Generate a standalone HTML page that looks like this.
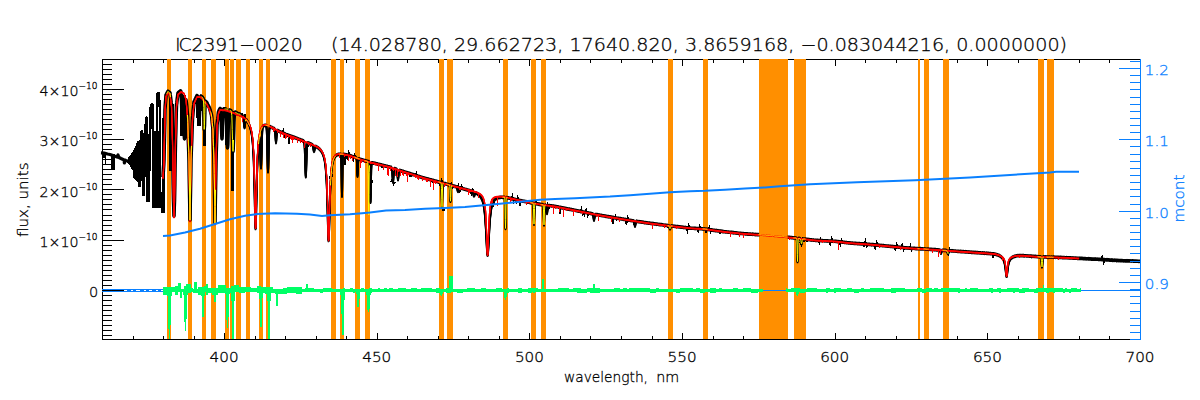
<!DOCTYPE html><html><head><meta charset="utf-8"><style>html,body{margin:0;padding:0;background:#fff;overflow:hidden}svg{display:block}</style></head><body><svg width="1200" height="400" viewBox="0 0 1200 400" shape-rendering="crispEdges">
<rect width="1200" height="400" fill="#fff"/>
<g stroke="#000" stroke-width="1"><line x1="102" y1="59.5" x2="1140" y2="59.5"/><line x1="102.5" y1="59" x2="102.5" y2="340"/><line x1="102.5" y1="59" x2="102.5" y2="63"/><line x1="133.5" y1="59" x2="133.5" y2="63"/><line x1="163.5" y1="59" x2="163.5" y2="63"/><line x1="194.5" y1="59" x2="194.5" y2="63"/><line x1="224.5" y1="59" x2="224.5" y2="66"/><line x1="255.5" y1="59" x2="255.5" y2="63"/><line x1="285.5" y1="59" x2="285.5" y2="63"/><line x1="316.5" y1="59" x2="316.5" y2="63"/><line x1="346.5" y1="59" x2="346.5" y2="63"/><line x1="377.5" y1="59" x2="377.5" y2="66"/><line x1="407.5" y1="59" x2="407.5" y2="63"/><line x1="438.5" y1="59" x2="438.5" y2="63"/><line x1="468.5" y1="59" x2="468.5" y2="63"/><line x1="499.5" y1="59" x2="499.5" y2="63"/><line x1="529.5" y1="59" x2="529.5" y2="66"/><line x1="560.5" y1="59" x2="560.5" y2="63"/><line x1="590.5" y1="59" x2="590.5" y2="63"/><line x1="621.5" y1="59" x2="621.5" y2="63"/><line x1="652.5" y1="59" x2="652.5" y2="63"/><line x1="682.5" y1="59" x2="682.5" y2="66"/><line x1="713.5" y1="59" x2="713.5" y2="63"/><line x1="743.5" y1="59" x2="743.5" y2="63"/><line x1="774.5" y1="59" x2="774.5" y2="63"/><line x1="804.5" y1="59" x2="804.5" y2="63"/><line x1="835.5" y1="59" x2="835.5" y2="66"/><line x1="865.5" y1="59" x2="865.5" y2="63"/><line x1="896.5" y1="59" x2="896.5" y2="63"/><line x1="926.5" y1="59" x2="926.5" y2="63"/><line x1="957.5" y1="59" x2="957.5" y2="63"/><line x1="987.5" y1="59" x2="987.5" y2="66"/><line x1="1018.5" y1="59" x2="1018.5" y2="63"/><line x1="1048.5" y1="59" x2="1048.5" y2="63"/><line x1="1079.5" y1="59" x2="1079.5" y2="63"/><line x1="1109.5" y1="59" x2="1109.5" y2="63"/><line x1="1140.5" y1="59" x2="1140.5" y2="66"/><line x1="102" y1="335.5" x2="112" y2="335.5"/><line x1="102" y1="330.5" x2="112" y2="330.5"/><line x1="102" y1="325.5" x2="112" y2="325.5"/><line x1="102" y1="320.5" x2="112" y2="320.5"/><line x1="102" y1="315.5" x2="112" y2="315.5"/><line x1="102" y1="310.5" x2="112" y2="310.5"/><line x1="102" y1="305.5" x2="112" y2="305.5"/><line x1="102" y1="300.5" x2="112" y2="300.5"/><line x1="102" y1="295.5" x2="112" y2="295.5"/><line x1="102" y1="285.5" x2="112" y2="285.5"/><line x1="102" y1="280.5" x2="112" y2="280.5"/><line x1="102" y1="275.5" x2="112" y2="275.5"/><line x1="102" y1="270.5" x2="112" y2="270.5"/><line x1="102" y1="265.5" x2="112" y2="265.5"/><line x1="102" y1="260.5" x2="112" y2="260.5"/><line x1="102" y1="255.5" x2="112" y2="255.5"/><line x1="102" y1="250.5" x2="112" y2="250.5"/><line x1="102" y1="245.5" x2="112" y2="245.5"/><line x1="102" y1="235.5" x2="112" y2="235.5"/><line x1="102" y1="230.5" x2="112" y2="230.5"/><line x1="102" y1="225.5" x2="112" y2="225.5"/><line x1="102" y1="220.5" x2="112" y2="220.5"/><line x1="102" y1="215.5" x2="112" y2="215.5"/><line x1="102" y1="209.5" x2="112" y2="209.5"/><line x1="102" y1="204.5" x2="112" y2="204.5"/><line x1="102" y1="199.5" x2="112" y2="199.5"/><line x1="102" y1="194.5" x2="112" y2="194.5"/><line x1="102" y1="184.5" x2="112" y2="184.5"/><line x1="102" y1="179.5" x2="112" y2="179.5"/><line x1="102" y1="174.5" x2="112" y2="174.5"/><line x1="102" y1="169.5" x2="112" y2="169.5"/><line x1="102" y1="164.5" x2="112" y2="164.5"/><line x1="102" y1="159.5" x2="112" y2="159.5"/><line x1="102" y1="154.5" x2="112" y2="154.5"/><line x1="102" y1="149.5" x2="112" y2="149.5"/><line x1="102" y1="144.5" x2="112" y2="144.5"/><line x1="102" y1="134.5" x2="112" y2="134.5"/><line x1="102" y1="129.5" x2="112" y2="129.5"/><line x1="102" y1="124.5" x2="112" y2="124.5"/><line x1="102" y1="119.5" x2="112" y2="119.5"/><line x1="102" y1="114.5" x2="112" y2="114.5"/><line x1="102" y1="109.5" x2="112" y2="109.5"/><line x1="102" y1="104.5" x2="112" y2="104.5"/><line x1="102" y1="99.5" x2="112" y2="99.5"/><line x1="102" y1="94.5" x2="112" y2="94.5"/><line x1="102" y1="84.5" x2="112" y2="84.5"/><line x1="102" y1="79.5" x2="112" y2="79.5"/><line x1="102" y1="74.5" x2="112" y2="74.5"/><line x1="102" y1="69.5" x2="112" y2="69.5"/><line x1="102" y1="64.5" x2="112" y2="64.5"/></g>
<g stroke="#000" stroke-width="1"><line x1="102" y1="339.5" x2="1140" y2="339.5"/><line x1="102.5" y1="336" x2="102.5" y2="340"/><line x1="133.5" y1="336" x2="133.5" y2="340"/><line x1="163.5" y1="336" x2="163.5" y2="340"/><line x1="194.5" y1="336" x2="194.5" y2="340"/><line x1="224.5" y1="333" x2="224.5" y2="340"/><line x1="255.5" y1="336" x2="255.5" y2="340"/><line x1="285.5" y1="336" x2="285.5" y2="340"/><line x1="316.5" y1="336" x2="316.5" y2="340"/><line x1="346.5" y1="336" x2="346.5" y2="340"/><line x1="377.5" y1="333" x2="377.5" y2="340"/><line x1="407.5" y1="336" x2="407.5" y2="340"/><line x1="438.5" y1="336" x2="438.5" y2="340"/><line x1="468.5" y1="336" x2="468.5" y2="340"/><line x1="499.5" y1="336" x2="499.5" y2="340"/><line x1="529.5" y1="333" x2="529.5" y2="340"/><line x1="560.5" y1="336" x2="560.5" y2="340"/><line x1="590.5" y1="336" x2="590.5" y2="340"/><line x1="621.5" y1="336" x2="621.5" y2="340"/><line x1="652.5" y1="336" x2="652.5" y2="340"/><line x1="682.5" y1="333" x2="682.5" y2="340"/><line x1="713.5" y1="336" x2="713.5" y2="340"/><line x1="743.5" y1="336" x2="743.5" y2="340"/><line x1="774.5" y1="336" x2="774.5" y2="340"/><line x1="804.5" y1="336" x2="804.5" y2="340"/><line x1="835.5" y1="333" x2="835.5" y2="340"/><line x1="865.5" y1="336" x2="865.5" y2="340"/><line x1="896.5" y1="336" x2="896.5" y2="340"/><line x1="926.5" y1="336" x2="926.5" y2="340"/><line x1="957.5" y1="336" x2="957.5" y2="340"/><line x1="987.5" y1="333" x2="987.5" y2="340"/><line x1="1018.5" y1="336" x2="1018.5" y2="340"/><line x1="1048.5" y1="336" x2="1048.5" y2="340"/><line x1="1079.5" y1="336" x2="1079.5" y2="340"/><line x1="1109.5" y1="336" x2="1109.5" y2="340"/><line x1="1140.5" y1="333" x2="1140.5" y2="340"/></g>
<g fill="#ff8f00"><rect x="167" y="59" width="4" height="280"/><rect x="188" y="59" width="4" height="280"/><rect x="202" y="59" width="4" height="280"/><rect x="211" y="59" width="5" height="280"/><rect x="225" y="59" width="4" height="280"/><rect x="230" y="59" width="4" height="280"/><rect x="236" y="59" width="5" height="280"/><rect x="246" y="59" width="4" height="280"/><rect x="259" y="59" width="4" height="280"/><rect x="266" y="59" width="4" height="280"/><rect x="331" y="59" width="5" height="280"/><rect x="340" y="59" width="4" height="280"/><rect x="355" y="59" width="5" height="280"/><rect x="365" y="59" width="5" height="280"/><rect x="439" y="59" width="5" height="280"/><rect x="447" y="59" width="6" height="280"/><rect x="503" y="59" width="5" height="280"/><rect x="531" y="59" width="5" height="280"/><rect x="541" y="59" width="5" height="280"/><rect x="668" y="59" width="5" height="280"/><rect x="703" y="59" width="5" height="280"/><rect x="759" y="59" width="29" height="280"/><rect x="794" y="59" width="12" height="280"/><rect x="918" y="59" width="2" height="280"/><rect x="924" y="59" width="5" height="280"/><rect x="943" y="59" width="6" height="280"/><rect x="1038" y="59" width="6" height="280"/><rect x="1047" y="59" width="7" height="280"/></g>
<polyline fill="none" stroke="#000" stroke-width="3.2" stroke-linejoin="round" points="101.0,152.8 104.0,153.0 107.5,154.0 110.0,154.5 113.0,155.5 115.0,156.3 117.0,157.0 118.0,155.0 119.0,157.5 121.0,158.5 122.5,159.2 124.0,160.0 124.4,163.0 124.8,160.0 126.0,160.5 127.5,161.0" shape-rendering="auto"/>
<rect x="105" y="154" width="1.4" height="10" fill="#000"/>
<rect x="103" y="154" width="2.2" height="3.5" fill="#000"/>
<rect x="110.5" y="154" width="4.5" height="16" fill="#000"/>
<polygon fill="#000" points="127.0,162.5 128.0,158.0 129.5,156.0 131.0,154.0 133.0,151.0 134.0,149.0 135.5,146.0 136.3,143.0 137.0,141.5 138.5,141.0 139.3,142.0 139.8,136.0 140.5,131.0 141.5,130.0 142.5,130.5 143.0,132.0 143.3,133.0 144.3,133.0 144.6,120.0 145.5,116.5 146.5,116.0 147.5,117.0 148.0,122.0 148.0,126.0 149.0,126.0 149.3,108.0 150.0,104.0 151.5,103.0 153.0,103.3 154.0,105.0 154.3,110.0 154.3,131.0 155.8,131.0 155.8,97.0 156.5,93.0 158.0,91.8 159.5,92.3 160.3,95.0 160.5,100.0 160.5,207.7 151.8,207.7 151.8,171.0 150.0,171.0 150.0,202.0 146.3,202.0 146.3,177.0 145.0,177.0 145.0,195.7 141.8,195.7 141.8,180.6 140.8,180.6 140.8,187.4 138.0,187.4 138.0,182.0 135.3,180.0 133.0,177.0 132.6,170.0 131.0,168.0 129.8,164.8"/>
<rect x="151" y="129" width="1" height="42" fill="#fff"/>
<rect x="148" y="126" width="1" height="8" fill="#fff"/>
<rect x="157.8" y="107" width="0.7" height="24" fill="#fff"/>
<rect x="161.5" y="118" width="3.5" height="95" fill="#000"/>
<rect x="160.5" y="192" width="1" height="21" fill="#000"/>
<polygon fill="#000" points="168.5,96.0 171.5,96.0 171.5,171.0 168.5,171.0"/>
<polygon fill="#000" points="171.0,104.0 173.5,104.0 174.5,216.0 172.8,216.0"/>
<polygon fill="#000" points="180.0,94.0 186.0,95.0 185.5,136.0 180.5,136.0"/>
<polygon fill="#000" points="195.0,97.0 202.0,97.0 201.0,125.5 197.0,125.5"/>
<polygon fill="#000" points="202.5,101.0 205.5,101.0 205.5,146.0 202.5,146.0"/>
<polygon fill="#000" points="225.0,109.0 229.0,109.0 229.0,145.0 225.0,145.0"/>
<polygon fill="#000" points="230.5,110.0 234.0,111.0 234.0,191.0 230.5,191.0"/>
<polygon fill="#000" points="244.0,114.0 246.0,114.0 246.0,125.0 244.0,125.0"/>
<rect x="178.5" y="114" width="1" height="30" fill="#fff"/>
<g id="blk" fill="none" stroke="#000" stroke-width="1.9" stroke-linejoin="round" shape-rendering="auto"><polyline points="163.0,177.1 163.2,172.8 163.5,168.5 163.8,164.1 164.0,160.0 164.2,147.5 164.5,135.0 164.8,122.4 165.0,110.0 165.2,106.2 165.5,102.4 165.8,98.8 166.0,95.1 166.2,94.7 166.5,94.1 166.8,93.7 167.0,93.2 167.2,92.7 167.5,92.5 167.8,91.8 168.0,91.4 168.2,91.7 168.5,92.0 168.8,92.1 169.0,92.2 169.2,92.4 169.5,92.7 169.8,92.8 170.0,92.9 170.2,95.0 170.5,97.1 170.8,99.2 171.0,100.9 171.2,102.9 171.5,104.9 171.8,113.6 172.0,122.4 172.2,131.2 172.5,140.1 172.8,155.0 173.0,169.9 173.2,185.1 173.5,200.0 173.8,207.9 174.0,216.0 174.2,208.0 174.5,199.9 174.8,185.0 175.0,169.8 175.2,155.0 175.5,140.1 175.8,131.3 176.0,122.6 176.2,113.8 176.5,105.1 176.8,102.9 177.0,101.1 177.2,98.9 177.5,97.0 177.8,94.8 178.0,93.1 178.2,92.9 178.5,92.6 178.8,92.5 179.0,92.1 179.2,92.0 179.5,91.8 179.8,91.5 180.0,91.4 180.2,91.3 180.5,91.0 180.8,91.3 181.0,92.2 181.2,95.3 181.5,100.8 181.8,109.2 182.0,119.3 182.2,127.9 182.5,131.3 182.8,128.8 183.0,121.6 183.2,115.1 183.5,113.0 183.8,117.0 184.0,125.6 184.2,134.7 184.5,138.7 184.8,135.5 185.0,126.6 185.2,116.3 185.5,107.7 185.8,102.3 186.0,99.9 186.2,101.5 186.5,103.8 186.8,106.5 187.0,109.4 187.2,112.1 187.5,115.0 187.8,122.7 188.0,130.1 188.2,137.4 188.5,145.0 188.8,152.5 189.0,160.1 189.2,175.0 189.5,190.0 189.8,204.9 190.0,220.1 190.2,205.0 190.5,190.0 190.8,175.0 191.0,160.0 191.2,153.1 191.5,145.9 191.8,139.0 192.0,132.1 192.2,125.0 192.5,117.9 192.8,115.4 193.0,112.6 193.2,110.0 193.5,107.3 193.8,104.5 194.0,102.0 194.2,101.5 194.5,100.9 194.8,100.4 195.0,99.8 195.2,99.2 195.5,98.7 195.8,98.4 196.0,97.7 196.2,97.1 196.5,96.6 196.8,96.0 197.0,95.6 197.2,95.9 197.5,96.6 197.8,98.2 198.0,101.7 198.2,107.0 198.5,113.2 198.8,118.5 199.0,120.4 199.2,118.5 199.5,113.2 199.8,106.9 200.0,101.8 200.2,98.6 200.5,96.9 200.8,96.5 201.0,96.2 201.2,96.5 201.5,96.6 201.8,96.8 202.0,96.9 202.2,97.3 202.5,97.6 202.8,98.0 203.0,98.2 203.2,98.8 203.5,101.0 203.8,107.7 204.0,120.4 204.2,129.4 204.5,125.4 204.8,113.5 205.0,104.6 205.2,101.7 205.5,101.4 205.8,101.5 206.0,101.8 206.2,102.1 206.5,102.4 206.8,102.6 207.0,102.9 207.2,103.5 207.5,104.1 207.8,104.6 208.0,105.1 208.2,105.6 208.5,106.0 208.8,106.5 209.0,106.8 209.2,107.4 209.5,107.9 209.8,108.9 210.0,109.8 210.2,110.6 210.5,111.5 210.8,112.3 211.0,113.2 211.2,114.1 211.5,115.0 211.8,117.4 212.0,120.2 212.2,122.6 212.5,125.0 212.8,127.5 213.0,130.0 213.2,138.3 213.5,146.7 213.8,155.0 214.0,163.4 214.2,173.4 214.5,190.0 214.8,206.4 215.0,223.0 215.2,206.4 215.5,189.8 215.8,173.5 216.0,162.5 216.2,153.3 216.5,143.7 216.8,134.4 217.0,125.1 217.2,122.8 217.5,120.7 217.8,118.5 218.0,116.3 218.2,114.2 218.5,111.9 218.8,111.5 219.0,110.8 219.2,110.4 219.5,109.5 219.8,109.1 220.0,108.6 220.2,108.6 220.5,109.0 220.8,109.9 221.0,112.6 221.2,118.4 221.5,127.0 221.8,135.1 222.0,138.7 222.2,135.1 222.5,126.9 222.8,118.4 223.0,112.8 223.2,110.3 223.5,109.2 223.8,108.9 224.0,108.9 224.2,109.0 224.5,108.9 224.8,109.1 225.0,109.0 225.2,109.0 225.5,109.2 225.8,109.3 226.0,110.6 226.2,113.4 226.5,118.6 226.8,126.6 227.0,136.1 227.2,144.2 227.5,147.7 227.8,144.5 228.0,136.5 228.2,127.3 228.5,119.3 228.8,114.3 229.0,111.7 229.2,110.8 229.5,110.2 229.8,110.3 230.0,110.3 230.2,110.3 230.5,110.6 230.8,110.5 231.0,111.0 231.2,111.4 231.5,112.6 231.8,115.5 232.0,121.0 232.2,129.3 232.5,139.5 232.8,147.9 233.0,151.4 233.2,148.1 233.5,139.9 233.8,129.9 234.0,121.9 234.2,116.6 234.5,113.7 234.8,112.6 235.0,112.3 235.2,112.4 235.5,112.5 235.8,112.3 236.0,113.0 236.2,113.0 236.5,113.1 236.8,113.2 237.0,113.4 237.2,113.4 237.5,113.6 237.8,113.7 238.0,113.6 238.2,113.7 238.5,113.8 238.8,114.1 239.0,114.0 239.2,114.0 239.5,114.2 239.8,114.3 240.0,114.4 240.2,114.7 240.5,114.7 240.8,114.9 241.0,114.9 241.2,115.2 241.5,115.3 241.8,115.3 242.0,115.7 242.2,115.7 242.5,116.1 242.8,116.2 243.0,117.0 243.2,117.8 243.5,119.4 243.8,121.7 244.0,124.2 244.2,126.4 244.5,127.6 244.8,127.2 245.0,125.2 245.2,123.1 245.5,121.3 245.8,120.0 246.0,119.7 246.2,119.9 246.5,119.9 246.8,120.1 247.0,120.6 247.2,121.0 247.5,121.4 247.8,121.8 248.0,122.3 248.2,122.6 248.5,123.3 248.8,123.9 249.0,124.5 249.2,124.9 249.5,125.7 249.8,126.1 250.0,127.2 250.2,127.9 250.5,128.7 250.8,129.7 251.0,130.8 251.2,132.0 251.5,133.3 251.8,134.8 252.0,136.3 252.2,138.4 252.5,140.8 252.8,143.7 253.0,147.0 253.2,151.2 253.5,155.9 253.8,162.0 254.0,169.4 254.2,178.3 254.5,188.9 254.8,200.6 255.0,212.7 255.2,222.7 255.5,228.5 255.8,227.8 256.0,221.3 256.2,210.4 256.5,198.6 256.8,187.0 257.0,177.0 257.2,168.5 257.5,161.4 257.8,155.7 258.0,151.1 258.2,147.4 258.5,144.1 258.8,141.7 259.0,139.5 259.2,138.1 259.5,137.7 259.8,139.1 260.0,142.9 260.2,149.8 260.5,158.4 260.8,165.6 261.0,167.8 261.2,164.1 261.5,155.6 261.8,145.7 262.0,137.4 262.2,131.7 262.5,128.5 262.8,126.9 263.0,126.3 263.2,126.0 263.5,125.9 263.8,125.6 264.0,125.5 264.2,125.5 264.5,125.5 264.8,125.3 265.0,125.2 265.2,125.2 265.5,125.2 265.8,125.2 266.0,125.5 266.2,126.0 266.5,127.4 266.8,130.7 267.0,136.8 267.2,146.6 267.5,158.0 267.8,167.8 268.0,171.8 268.2,168.0 268.5,158.3 268.8,147.1 269.0,137.5 269.2,131.4 269.5,128.3 269.8,127.2 270.0,126.9 270.2,126.7 270.5,126.9 270.8,127.0 271.0,127.0 271.2,127.2 271.5,127.3 271.8,127.4 272.0,127.4 272.2,127.6 272.5,127.8 272.8,128.0 273.0,128.1 273.2,128.1 273.5,128.4 273.8,128.4 274.0,128.4 274.2,128.7 274.5,128.9 274.8,129.5 275.0,130.8 275.2,133.5 275.5,137.2 275.8,140.9 276.0,142.6 276.2,141.2 276.5,137.7 276.8,134.3 277.0,131.8 277.2,130.7 277.5,130.5 277.8,130.4 278.0,130.6 278.2,130.9 278.5,130.8 278.8,131.0 279.0,131.1 279.2,131.3 279.5,131.6 279.8,131.7 280.0,131.7 280.2,131.8 280.5,131.9 280.8,132.0 281.0,132.1 281.2,132.2 281.5,132.4 281.8,132.5 282.0,132.6 282.2,132.7 282.5,132.7 282.8,132.9 283.0,133.0 283.2,133.2 283.5,133.3 283.8,133.4 284.0,133.5 284.2,133.4 284.5,133.8 284.8,133.9 285.0,133.8 285.2,134.0 285.5,134.2 285.8,134.2 286.0,134.5 286.2,134.5 286.5,134.5 286.8,134.8 287.0,134.8 287.2,134.9 287.5,135.1 287.8,134.9 288.0,135.3 288.2,135.2 288.5,135.4 288.8,135.4 289.0,135.5 289.2,135.7 289.5,135.6 289.8,135.8 290.0,135.8 290.2,135.9 290.5,136.0 290.8,136.0 291.0,136.1 291.2,136.4 291.5,136.4 291.8,136.6 292.0,136.6 292.2,136.6 292.5,136.6 292.8,136.8 293.0,136.9 293.2,137.0 293.5,137.0 293.8,137.2 294.0,137.1 294.2,137.2 294.5,137.4 294.8,137.7 295.0,137.6 295.2,137.6 295.5,137.8 295.8,138.0 296.0,138.1 296.2,138.1 296.5,138.1 296.8,138.3 297.0,138.4 297.2,138.6 297.5,138.8 297.8,138.6 298.0,138.7 298.2,138.9 298.5,139.0 298.8,139.1 299.0,139.2 299.2,139.3 299.5,139.5 299.8,139.5 300.0,139.5 300.2,139.6 300.5,139.7 300.8,139.8 301.0,139.8 301.2,140.1 301.5,140.2 301.8,140.3 302.0,140.3 302.2,140.4 302.5,140.5 302.8,140.9 303.0,140.6 303.2,140.9 303.5,141.1 303.8,141.2 304.0,141.6 304.2,142.6 304.5,144.7 304.8,149.1 305.0,156.1 305.2,164.6 305.5,172.6 305.8,176.8 306.0,175.2 306.2,168.6 306.5,160.0 306.8,152.2 307.0,147.1 307.2,144.4 307.5,143.3 307.8,142.8 308.0,142.9 308.2,142.9 308.5,143.1 308.8,143.0 309.0,143.3 309.2,143.2 309.5,143.4 309.8,143.5 310.0,143.7 310.2,144.0 310.5,143.9 310.8,144.0 311.0,144.1 311.2,144.0 311.5,144.3 311.8,144.3 312.0,144.6 312.2,144.8 312.5,145.0 312.8,145.4 313.0,146.6 313.2,147.8 313.5,149.4 313.8,150.9 314.0,151.3 314.2,151.1 314.5,150.0 314.8,148.6 315.0,147.5 315.2,146.7 315.5,146.5 315.8,146.4 316.0,146.5 316.2,146.6 316.5,146.8 316.8,147.0 317.0,147.1 317.2,147.3 317.5,147.5 317.8,147.7 318.0,147.8 318.2,147.9 318.5,148.1 318.8,148.3 319.0,148.6 319.2,148.9 319.5,149.0 319.8,149.3 320.0,149.5 320.2,149.9 320.5,150.1 320.8,150.5 321.0,150.7 321.2,151.1 321.5,151.5 321.8,152.1 322.0,152.4 322.2,152.9 322.5,153.3 322.8,153.9 323.0,154.6 323.2,155.4 323.5,155.8 323.8,156.7 324.0,157.7 324.2,158.7 324.5,159.8 324.8,161.2 325.0,162.8 325.2,164.4 325.5,166.7 325.8,169.2 326.0,172.2 326.2,175.7 326.5,180.2 326.8,185.4 327.0,191.7 327.2,199.5 327.5,208.2 327.8,218.2 328.0,227.8 328.2,236.1 328.5,240.5 328.8,240.2 329.0,235.0 329.2,226.5 329.5,216.7 329.8,207.2 330.0,198.5 330.2,191.4 330.5,185.4 330.8,180.5 331.0,176.5 331.2,173.4 331.5,170.4 331.8,168.2 332.0,166.3 332.2,164.8 332.5,163.2 332.8,162.3 333.0,161.2 333.2,160.2 333.5,159.5 333.8,159.0 334.0,158.4 334.2,157.9 334.5,157.5 334.8,157.1 335.0,156.7 335.2,156.2 335.5,156.1 335.8,155.9 336.0,155.6 336.2,155.3 336.5,155.1 336.8,155.2 337.0,154.9 337.2,154.8 337.5,154.6 337.8,154.7 338.0,154.5 338.2,154.4 338.5,154.3 338.8,154.3 339.0,154.4 339.2,154.2 339.5,154.3 339.8,154.2 340.0,154.2 340.2,154.2 340.5,154.2 340.8,154.3 341.0,154.9 341.2,158.3 341.5,169.3 341.8,186.7 342.0,196.2 342.2,186.8 342.5,169.4 342.8,158.4 343.0,155.0 343.2,154.5 343.5,154.3 343.8,154.5 344.0,154.5 344.2,154.5 344.5,154.4 344.8,154.6 345.0,154.5 345.2,154.6 345.5,154.7 345.8,154.7 346.0,154.7 346.2,154.7 346.5,154.9 346.8,155.0 347.0,155.0 347.2,155.1 347.5,155.1 347.8,155.2 348.0,155.1 348.2,155.4 348.5,155.3 348.8,155.2 349.0,155.3 349.2,155.6 349.5,155.4 349.8,155.6 350.0,155.7 350.2,155.6 350.5,155.9 350.8,156.0 351.0,155.9 351.2,156.2 351.5,156.1 351.8,156.2 352.0,156.4 352.2,156.4 352.5,156.5 352.8,156.7 353.0,156.6 353.2,156.7 353.5,156.8 353.8,157.0 354.0,157.1 354.2,157.2 354.5,157.1 354.8,157.3 355.0,157.4 355.2,157.4 355.5,157.5 355.8,157.7 356.0,157.8 356.2,157.9 356.5,158.3 356.8,159.9 357.0,164.6 357.2,172.2 357.5,176.2 357.8,172.3 358.0,164.9 358.2,160.6 358.5,159.0 358.8,158.8 359.0,158.8 359.2,158.9 359.5,159.0 359.8,159.2 360.0,159.2 360.2,159.4 360.5,159.3 360.8,159.5 361.0,159.6 361.2,159.5 361.5,159.7 361.8,159.8 362.0,159.8 362.2,159.8 362.5,159.8 362.8,160.1 363.0,160.0 363.2,160.1 363.5,160.3 363.8,160.2 364.0,160.5 364.2,160.5 364.5,160.6 364.8,160.6 365.0,160.6 365.2,160.6 365.5,160.9 365.8,160.9 366.0,160.9 366.2,161.2 366.5,161.1 366.8,161.2 367.0,161.2 367.2,161.3 367.5,161.3 367.8,161.4 368.0,161.7 368.2,161.7 368.5,161.5 368.8,161.6 369.0,161.9 369.2,162.2 369.5,163.7 369.8,169.1 370.0,180.3 370.2,195.2 370.5,202.3 370.8,195.3 371.0,180.7 371.2,169.4 371.5,164.2 371.8,162.8 372.0,162.7 372.2,162.7 372.5,162.7 372.8,162.9 373.0,163.0 373.2,163.1 373.5,163.0 373.8,163.1 374.0,163.1 374.2,163.1 374.5,163.3 374.8,163.3 375.0,163.3 375.2,163.6 375.5,163.4 375.8,163.5 376.0,163.6 376.2,163.8 376.5,163.7 376.8,163.8 377.0,163.8 377.2,163.9 377.5,163.9 377.8,164.1 378.0,164.2 378.2,164.3 378.5,164.2 378.8,164.5 379.0,164.3 379.2,164.3 379.5,164.5 379.8,164.6 380.0,164.7 380.2,164.6 380.5,164.8 380.8,164.9 381.0,164.8 381.2,164.9 381.5,164.8 381.8,165.1 382.0,165.2 382.2,165.2 382.5,165.3 382.8,165.4 383.0,165.4 383.2,165.5 383.5,165.4 383.8,165.5 384.0,165.6 384.2,165.6 384.5,165.8 384.8,165.9 385.0,165.9 385.2,165.8 385.5,165.9 385.8,166.1 386.0,166.0 386.2,166.2 386.5,166.2 386.8,166.3 387.0,166.4 387.2,166.4 387.5,166.4 387.8,166.6 388.0,166.6 388.2,166.7 388.5,166.7 388.8,166.8 389.0,166.9 389.2,167.0 389.5,166.9 389.8,167.0 390.0,167.1 390.2,167.2 390.5,167.3 390.8,167.3 391.0,167.2 391.2,167.6 391.5,167.8 391.8,168.3 392.0,169.8 392.2,172.4 392.5,176.4 392.8,180.4 393.0,182.1 393.2,180.6 393.5,176.8 393.8,172.9 394.0,170.3 394.2,169.1 394.5,168.6 394.8,168.7 395.0,168.6 395.2,168.9 395.5,169.0 395.8,169.2 396.0,169.1 396.2,169.1 396.5,169.2 396.8,169.9 397.0,170.7 397.2,172.8 397.5,175.5 397.8,178.5 398.0,179.8 398.2,178.7 398.5,176.0 398.8,173.2 399.0,171.4 399.2,170.7 399.5,170.4 399.8,170.3 400.0,170.4 400.2,170.4 400.5,170.7 400.8,170.8 401.0,170.7 401.2,170.8 401.5,171.0 401.8,170.9 402.0,171.2 402.2,171.3 402.5,171.2 402.8,171.4 403.0,171.5 403.2,171.4 403.5,171.6 403.8,171.7 404.0,171.7 404.2,171.9 404.5,171.9 404.8,171.9 405.0,172.0 405.2,172.2 405.5,172.3 405.8,172.3 406.0,172.4 406.2,172.5 406.5,172.6 406.8,172.7 407.0,172.6 407.2,172.8 407.5,172.9 407.8,172.9 408.0,173.0 408.2,173.1 408.5,173.1 408.8,173.3 409.0,173.1 409.2,173.5 409.5,173.4 409.8,173.5 410.0,173.7 410.2,173.6 410.5,173.8 410.8,173.9 411.0,173.9 411.2,174.0 411.5,174.2 411.8,174.1 412.0,174.3 412.2,174.4 412.5,174.5 412.8,174.4 413.0,174.6 413.2,174.7 413.5,174.5 413.8,174.8 414.0,174.7 414.2,174.8 414.5,175.2 414.8,175.1 415.0,175.3 415.2,175.2 415.5,175.4 415.8,175.4 416.0,175.4 416.2,175.6 416.5,175.7 416.8,175.8 417.0,175.8 417.2,175.9 417.5,175.9 417.8,176.0 418.0,176.0 418.2,176.3 418.5,176.2 418.8,176.3 419.0,176.4 419.2,176.6 419.5,176.6 419.8,176.7 420.0,176.7 420.2,176.8 420.5,177.0 420.8,177.0 421.0,177.1 421.2,177.3 421.5,177.3 421.8,177.2 422.0,177.5 422.2,177.6 422.5,177.5 422.8,177.6 423.0,177.5 423.2,177.8 423.5,177.7 423.8,178.0 424.0,177.8 424.2,178.1 424.5,178.2 424.8,178.2 425.0,178.2 425.2,178.4 425.5,178.4 425.8,178.5 426.0,178.6 426.2,178.6 426.5,178.7 426.8,178.8 427.0,178.8 427.2,178.9 427.5,178.9 427.8,179.1 428.0,179.0 428.2,179.2 428.5,179.0 428.8,179.2 429.0,179.2 429.2,179.5 429.5,179.5 429.8,179.5 430.0,179.6 430.2,179.8 430.5,179.8 430.8,179.9 431.0,179.8 431.2,179.9 431.5,180.1 431.8,180.3 432.0,180.1 432.2,180.3 432.5,180.2 432.8,180.5 433.0,180.4 433.2,180.5 433.5,180.4 433.8,180.6 434.0,180.7 434.2,180.9 434.5,180.8 434.8,181.0 435.0,181.0 435.2,181.0 435.5,181.1 435.8,181.1 436.0,181.2 436.2,181.5 436.5,181.3 436.8,181.4 437.0,181.6 437.2,181.4 437.5,181.7 437.8,181.7 438.0,181.8 438.2,182.0 438.5,181.9 438.8,182.0 439.0,182.1 439.2,182.2 439.5,182.2 439.8,182.3 440.0,182.3 440.2,182.5 440.5,182.4 440.8,182.6 441.0,182.9 441.2,183.8 441.5,188.7 441.8,199.7 442.0,206.8 442.2,200.0 442.5,189.0 442.8,184.2 443.0,183.5 443.2,183.2 443.5,183.3 443.8,183.3 444.0,183.5 444.2,183.5 444.5,183.5 444.8,183.7 445.0,183.7 445.2,183.7 445.5,183.6 445.8,184.0 446.0,183.9 446.2,184.0 446.5,184.1 446.8,184.1 447.0,184.2 447.2,184.3 447.5,184.3 447.8,184.5 448.0,184.4 448.2,184.6 448.5,184.6 448.8,184.7 449.0,184.8 449.2,184.9 449.5,185.1 449.8,186.6 450.0,190.8 450.2,197.6 450.5,201.2 450.8,197.6 451.0,191.0 451.2,187.2 451.5,185.7 451.8,185.5 452.0,185.6 452.2,185.5 452.5,185.8 452.8,185.8 453.0,185.9 453.2,185.9 453.5,186.0 453.8,186.1 454.0,186.2 454.2,186.4 454.5,186.4 454.8,186.2 455.0,186.4 455.2,186.5 455.5,186.6 455.8,186.6 456.0,186.8 456.2,186.8 456.5,187.1 456.8,187.5 457.0,187.9 457.2,188.7 457.5,189.9 457.8,191.0 458.0,191.3 458.2,191.0 458.5,190.2 458.8,189.4 459.0,188.6 459.2,188.1 459.5,187.8 459.8,187.8 460.0,187.8 460.2,187.9 460.5,188.1 460.8,187.9 461.0,188.0 461.2,188.2 461.5,188.3 461.8,188.2 462.0,188.4 462.2,188.4 462.5,188.5 462.8,188.6 463.0,188.7 463.2,188.8 463.5,188.9 463.8,189.0 464.0,189.0 464.2,189.0 464.5,189.1 464.8,189.3 465.0,189.3 465.2,189.4 465.5,189.5 465.8,189.5 466.0,189.6 466.2,189.5 466.5,189.7 466.8,189.7 467.0,189.9 467.2,189.8 467.5,190.0 467.8,190.0 468.0,190.1 468.2,190.2 468.5,190.2 468.8,190.3 469.0,190.4 469.2,190.5 469.5,190.5 469.8,190.6 470.0,190.6 470.2,190.7 470.5,190.9 470.8,190.9 471.0,190.9 471.2,191.2 471.5,191.1 471.8,191.3 472.0,191.4 472.2,191.3 472.5,191.7 472.8,191.9 473.0,192.7 473.2,193.7 473.5,194.8 473.8,195.7 474.0,195.9 474.2,195.8 474.5,195.2 474.8,194.2 475.0,193.6 475.2,193.0 475.5,192.9 475.8,192.8 476.0,193.0 476.2,193.2 476.5,193.2 476.8,193.4 477.0,193.6 477.2,193.7 477.5,193.8 477.8,194.0 478.0,194.4 478.2,194.3 478.5,194.6 478.8,194.9 479.0,195.1 479.2,195.4 479.5,195.3 479.8,195.8 480.0,196.0 480.2,196.4 480.5,196.7 480.8,197.1 481.0,197.4 481.2,198.0 481.5,198.3 481.8,199.0 482.0,199.5 482.2,200.0 482.5,200.7 482.8,201.5 483.0,202.5 483.2,203.6 483.5,204.9 483.8,206.1 484.0,207.5 484.2,209.1 484.5,211.3 484.8,213.5 485.0,216.3 485.2,219.3 485.5,223.0 485.8,226.7 486.0,231.3 486.2,236.2 486.5,241.0 486.8,245.9 487.0,250.5 487.2,253.5 487.5,255.2 487.8,255.1 488.0,253.3 488.2,249.9 488.5,245.4 488.8,240.7 489.0,235.7 489.2,231.0 489.5,226.8 489.8,223.1 490.0,219.7 490.2,216.8 490.5,214.5 490.8,212.4 491.0,210.5 491.2,208.8 491.5,207.4 491.8,206.3 492.0,205.3 492.2,204.4 492.5,203.6 492.8,203.0 493.0,202.3 493.2,201.8 493.5,201.3 493.8,200.9 494.0,200.6 494.2,200.3 494.5,200.0 494.8,199.6 495.0,199.4 495.2,199.2 495.5,199.0 495.8,198.8 496.0,198.7 496.2,198.5 496.5,198.3 496.8,198.1 497.0,198.0 497.2,198.1 497.5,197.9 497.8,197.8 498.0,197.8 498.2,197.8 498.5,197.8 498.8,197.6 499.0,197.7 499.2,197.5 499.5,197.5 499.8,197.4 500.0,197.3 500.2,197.4 500.5,197.4 500.8,197.2 501.0,197.3 501.2,197.3 501.5,197.3 501.8,197.2 502.0,197.2 502.2,197.3 502.5,197.4 502.8,197.2 503.0,197.3 503.2,197.2 503.5,197.3 503.8,197.2 504.0,197.2 504.2,197.2 504.5,197.4 504.8,198.8 505.0,205.1 505.2,219.4 505.5,228.4 505.8,219.5 506.0,205.0 506.2,198.8 506.5,197.7 506.8,197.5 507.0,197.8 507.2,197.8 507.5,197.7 507.8,197.9 508.0,197.8 508.2,197.9 508.5,198.0 508.8,197.9 509.0,198.2 509.2,198.1 509.5,198.3 509.8,198.2 510.0,198.3 510.2,198.3 510.5,198.4 510.8,198.4 511.0,198.5 511.2,198.7 511.5,198.6 511.8,198.7 512.0,198.8 512.2,198.9 512.5,198.8 512.8,198.9 513.0,198.9 513.2,199.0 513.5,199.1 513.8,199.1 514.0,199.1 514.2,199.3 514.5,199.3 514.8,199.3 515.0,199.4 515.2,199.5 515.5,199.6 515.8,199.6 516.0,199.6 516.2,199.7 516.5,199.8 516.8,199.8 517.0,199.7 517.2,199.9 517.5,200.0 517.8,200.1 518.0,200.1 518.2,200.1 518.5,200.1 518.8,200.1 519.0,200.1 519.2,200.4 519.5,200.6 519.8,200.6 520.0,200.5 520.2,200.6 520.5,200.7 520.8,200.7 521.0,200.6 521.2,200.9 521.5,200.8 521.8,200.8 522.0,201.1 522.2,201.0 522.5,201.1 522.8,201.2 523.0,201.1 523.2,201.1 523.5,201.3 523.8,201.3 524.0,201.4 524.2,201.4 524.5,201.3 524.8,201.4 525.0,201.5 525.2,201.5 525.5,201.6 525.8,201.7 526.0,201.7 526.2,201.6 526.5,201.8 526.8,201.7 527.0,202.1 527.2,201.9 527.5,202.0 527.8,202.1 528.0,202.0 528.2,202.0 528.5,202.0 528.8,202.2 529.0,202.3 529.2,202.4 529.5,202.4 529.8,202.4 530.0,202.5 530.2,202.6 530.5,202.5 530.8,202.9 531.0,202.6 531.2,202.8 531.5,202.9 531.8,202.9 532.0,202.9 532.2,202.9 532.5,203.0 532.8,202.8 533.0,203.2 533.2,204.0 533.5,208.3 533.8,218.0 534.0,224.2 534.2,218.2 534.5,208.5 534.8,204.4 535.0,203.3 535.2,203.4 535.5,203.4 535.8,203.6 536.0,203.6 536.2,203.7 536.5,203.7 536.8,203.9 537.0,203.9 537.2,203.8 537.5,203.8 537.8,203.9 538.0,203.9 538.2,204.2 538.5,204.2 538.8,204.1 539.0,204.4 539.2,204.2 539.5,204.1 539.8,204.4 540.0,204.5 540.2,204.4 540.5,204.4 540.8,204.6 541.0,204.5 541.2,204.6 541.5,204.6 541.8,204.7 542.0,204.6 542.2,204.6 542.5,204.8 542.8,204.6 543.0,204.9 543.2,205.7 543.5,209.9 543.8,219.0 544.0,224.9 544.2,219.1 544.5,209.9 544.8,205.9 545.0,205.2 545.2,205.0 545.5,205.1 545.8,205.6 546.0,206.3 546.2,207.8 546.5,210.2 546.8,212.4 547.0,213.4 547.2,212.5 547.5,210.0 547.8,208.0 548.0,206.6 548.2,206.0 548.5,205.5 548.8,205.5 549.0,205.6 549.2,205.6 549.5,205.6 549.8,205.6 550.0,205.8 550.2,205.8 550.5,205.8 550.8,205.7 551.0,205.7 551.2,205.8 551.5,205.9 551.8,205.8 552.0,206.0 552.2,206.1 552.5,206.0 552.8,206.1 553.0,206.2 553.2,206.2 553.5,206.1 553.8,206.2 554.0,206.2 554.2,206.2 554.5,206.3 554.8,206.4 555.0,206.5 555.2,206.3 555.5,206.6 555.8,206.6 556.0,206.5 556.2,206.6 556.5,206.7 556.8,206.7 557.0,206.7 557.2,206.8 557.5,206.8 557.8,206.8 558.0,206.9 558.2,206.9 558.5,207.1 558.8,207.2 559.0,207.2 559.2,207.3 559.5,207.2 559.8,207.3 560.0,207.3 560.2,207.3 560.5,207.4 560.8,207.6 561.0,207.4 561.2,207.6 561.5,207.7 561.8,207.8 562.0,207.7 562.2,207.9 562.5,207.8 562.8,208.0 563.0,207.8 563.2,208.0 563.5,208.1 563.8,208.0 564.0,208.2 564.2,208.1 564.5,208.3 564.8,208.3 565.0,208.4 565.2,208.4 565.5,208.4 565.8,208.6 566.0,208.6 566.2,208.5 566.5,208.7 566.8,208.7 567.0,208.7 567.2,208.7 567.5,209.0 567.8,208.9 568.0,209.0 568.2,209.2 568.5,209.1 568.8,209.0 569.0,209.2 569.2,209.1 569.5,209.2 569.8,209.5 570.0,209.3 570.2,209.4 570.5,209.4 570.8,209.5 571.0,209.6 571.2,209.4 571.5,209.6 571.8,209.8 572.0,209.8 572.2,209.8 572.5,209.8 572.8,209.9 573.0,209.9 573.2,209.9 573.5,210.0 573.8,210.3 574.0,210.1 574.2,210.3 574.5,210.3 574.8,210.2 575.0,210.3 575.2,210.4 575.5,210.4 575.8,210.5 576.0,210.5 576.2,210.5 576.5,210.7 576.8,210.7 577.0,210.7 577.2,210.8 577.5,211.0 577.8,210.8 578.0,210.8 578.2,211.1 578.5,211.2 578.8,211.2 579.0,211.0 579.2,211.0 579.5,211.3 579.8,211.3 580.0,211.4 580.2,211.4 580.5,211.6 580.8,211.5 581.0,211.5 581.2,211.6 581.5,211.5 581.8,211.7 582.0,211.7 582.2,211.6 582.5,211.7 582.8,211.8 583.0,211.8 583.2,212.0 583.5,212.1 583.8,212.1 584.0,212.0 584.2,212.0 584.5,212.3 584.8,212.3 585.0,212.3 585.2,212.3 585.5,212.3 585.8,212.7 586.0,212.5 586.2,212.6 586.5,212.5 586.8,212.8 587.0,212.7 587.2,212.8 587.5,212.8 587.8,212.9 588.0,213.0 588.2,212.8 588.5,213.1 588.8,213.0 589.0,213.1 589.2,213.1 589.5,213.3 589.8,213.2 590.0,213.3 590.2,213.4 590.5,213.4 590.8,213.4 591.0,213.6 591.2,213.6 591.5,213.6 591.8,213.7 592.0,213.7 592.2,213.9 592.5,213.8 592.8,214.0 593.0,214.8 593.2,215.8 593.5,217.6 593.8,219.4 594.0,220.2 594.2,219.4 594.5,217.8 594.8,216.2 595.0,215.2 595.2,214.6 595.5,214.5 595.8,214.6 596.0,214.5 596.2,214.5 596.5,214.5 596.8,214.6 597.0,214.6 597.2,214.6 597.5,214.7 597.8,214.8 598.0,214.9 598.2,214.9 598.5,215.0 598.8,214.9 599.0,215.2 599.2,215.3 599.5,215.1 599.8,215.2 600.0,215.2 600.2,215.3 600.5,215.2 600.8,215.2 601.0,215.4 601.2,215.3 601.5,215.5 601.8,215.4 602.0,215.5 602.2,215.7 602.5,215.8 602.8,215.7 603.0,215.7 603.2,215.8 603.5,215.8 603.8,215.7 604.0,215.9 604.2,215.8 604.5,216.0 604.8,216.0 605.0,216.1 605.2,216.0 605.5,216.1 605.8,216.2 606.0,216.4 606.2,216.4 606.5,216.4 606.8,216.3 607.0,216.5 607.2,216.5 607.5,216.5 607.8,216.7 608.0,216.5 608.2,216.8 608.5,216.6 608.8,216.7 609.0,216.8 609.2,216.7 609.5,216.8 609.8,216.9 610.0,216.8 610.2,216.9 610.5,216.9 610.8,217.0 611.0,217.2 611.2,217.1 611.5,217.2 611.8,217.3 612.0,217.2 612.2,217.4 612.5,217.3 612.8,217.4 613.0,217.3 613.2,217.5 613.5,217.6 613.8,217.7 614.0,217.6 614.2,217.7 614.5,217.7 614.8,217.7 615.0,217.7 615.2,218.0 615.5,217.8 615.8,218.0 616.0,218.1 616.2,218.0 616.5,218.1 616.8,218.1 617.0,218.1 617.2,218.2 617.5,218.2 617.8,218.4 618.0,218.4 618.2,218.3 618.5,218.3 618.8,218.4 619.0,218.4 619.2,218.5 619.5,218.6 619.8,218.6 620.0,218.6 620.2,218.7 620.5,218.6 620.8,218.8 621.0,218.9 621.2,219.0 621.5,218.8 621.8,218.9 622.0,219.0 622.2,219.0 622.5,219.0 622.8,219.2 623.0,219.1 623.2,219.2 623.5,219.1 623.8,219.4 624.0,219.3 624.2,219.3 624.5,219.5 624.8,219.5 625.0,219.4 625.2,219.6 625.5,219.7 625.8,219.6 626.0,219.5 626.2,219.7 626.5,219.8 626.8,219.7 627.0,220.0 627.2,219.8 627.5,219.9 627.8,220.0 628.0,220.0 628.2,220.1 628.5,220.1 628.8,220.1 629.0,220.2 629.2,220.2 629.5,220.3 629.8,220.3 630.0,220.3 630.2,220.4 630.5,220.4 630.8,220.5 631.0,220.5 631.2,220.5 631.5,220.5 631.8,220.6 632.0,220.7 632.2,220.7 632.5,220.8 632.8,220.7 633.0,220.7 633.2,220.8 633.5,220.7 633.8,221.1 634.0,221.6 634.2,222.6 634.5,224.1 634.8,225.4 635.0,226.2 635.2,225.4 635.5,224.2 635.8,222.7 636.0,221.9 636.2,221.6 636.5,221.2 636.8,221.4 637.0,221.4 637.2,221.4 637.5,221.5 637.8,221.5 638.0,221.6 638.2,221.6 638.5,221.7 638.8,221.7 639.0,221.7 639.2,221.6 639.5,221.8 639.8,221.7 640.0,221.9 640.2,221.8 640.5,221.8 640.8,222.0 641.0,221.9 641.2,221.9 641.5,222.1 641.8,222.0 642.0,222.2 642.2,222.1 642.5,222.2 642.8,222.2 643.0,222.1 643.2,222.3 643.5,222.3 643.8,222.4 644.0,222.5 644.2,222.6 644.5,222.5 644.8,222.5 645.0,222.7 645.2,222.7 645.5,222.7 645.8,222.6 646.0,222.6 646.2,222.7 646.5,222.8 646.8,222.9 647.0,223.1 647.2,222.8 647.5,222.9 647.8,223.0 648.0,223.0 648.2,223.1 648.5,223.1 648.8,223.1 649.0,223.3 649.2,223.2 649.5,223.1 649.8,223.2 650.0,223.3 650.2,223.2 650.5,223.4 650.8,223.4 651.0,223.4 651.2,223.4 651.5,223.6 651.8,223.5 652.0,223.5 652.2,223.4 652.5,223.5 652.8,223.7 653.0,223.8 653.2,223.6 653.5,223.6 653.8,223.8 654.0,223.8 654.2,223.9 654.5,223.8 654.8,223.9 655.0,223.8 655.2,223.9 655.5,224.0 655.8,224.0 656.0,224.1 656.2,224.2 656.5,224.0 656.8,224.3 657.0,224.1 657.2,224.2 657.5,224.3 657.8,224.1 658.0,224.2 658.2,224.3 658.5,224.4 658.8,224.5 659.0,224.5 659.2,224.4 659.5,224.6 659.8,224.5 660.0,224.7 660.2,224.6 660.5,224.7 660.8,224.6 661.0,224.7 661.2,224.6 661.5,224.8 661.8,224.6 662.0,224.8 662.2,224.8 662.5,224.8 662.8,224.9 663.0,225.0 663.2,225.0 663.5,225.0 663.8,225.1 664.0,225.2 664.2,225.2 664.5,225.2 664.8,225.3 665.0,225.1 665.2,225.3 665.5,225.2 665.8,225.5 666.0,225.3 666.2,225.4 666.5,225.5 666.8,225.4 667.0,225.4 667.2,225.3 667.5,225.5 667.8,225.7 668.0,225.6 668.2,225.7 668.5,225.7 668.8,225.7 669.0,226.0 669.2,226.7 669.5,227.6 669.8,228.4 670.0,228.8 670.2,228.5 670.5,227.7 670.8,226.8 671.0,226.3 671.2,226.1 671.5,225.9 671.8,225.9 672.0,226.0 672.2,226.0 672.5,226.1 672.8,226.1 673.0,226.0 673.2,226.2 673.5,226.2 673.8,226.2 674.0,226.1 674.2,226.2 674.5,226.3 674.8,226.4 675.0,226.4 675.2,226.4 675.5,226.5 675.8,226.4 676.0,226.6 676.2,226.6 676.5,226.6 676.8,226.5 677.0,226.6 677.2,226.6 677.5,226.6 677.8,226.7 678.0,226.6 678.2,226.6 678.5,226.8 678.8,226.9 679.0,226.9 679.2,226.8 679.5,226.9 679.8,227.0 680.0,226.9 680.2,226.8 680.5,227.2 680.8,227.1 681.0,227.2 681.2,227.1 681.5,227.1 681.8,227.2 682.0,227.2 682.2,227.1 682.5,227.2 682.8,227.3 683.0,227.4 683.2,227.4 683.5,227.3 683.8,227.3 684.0,227.6 684.2,227.5 684.5,227.5 684.8,227.5 685.0,227.4 685.2,227.7 685.5,227.6 685.8,227.7 686.0,227.6 686.2,227.7 686.5,227.8 686.8,227.7 687.0,227.7 687.2,227.7 687.5,227.7 687.8,227.9 688.0,227.9 688.2,227.8 688.5,228.1 688.8,228.1 689.0,228.1 689.2,227.9 689.5,228.1 689.8,228.2 690.0,228.0 690.2,228.1 690.5,228.1 690.8,228.0 691.0,228.2 691.2,228.3 691.5,228.3 691.8,228.3 692.0,228.2 692.2,228.2 692.5,228.2 692.8,228.2 693.0,228.2 693.2,228.2 693.5,228.3 693.8,228.3 694.0,228.4 694.2,228.4 694.5,228.4 694.8,228.4 695.0,228.2 695.2,228.3 695.5,228.6 695.8,228.5 696.0,228.4 696.2,228.5 696.5,228.5 696.8,228.5 697.0,228.5 697.2,228.6 697.5,228.7 697.8,228.5 698.0,228.6 698.2,228.6 698.5,228.6 698.8,228.7 699.0,228.6 699.2,228.8 699.5,228.7 699.8,228.8 700.0,228.6 700.2,228.7 700.5,228.7 700.8,228.8 701.0,228.6 701.2,228.8 701.5,228.7 701.8,228.8 702.0,228.9 702.2,228.8 702.5,228.8 702.8,228.9 703.0,228.9 703.2,228.9 703.5,229.0 703.8,229.0 704.0,229.1 704.2,229.0 704.5,228.9 704.8,229.0 705.0,228.9 705.2,229.0 705.5,229.0 705.8,229.3 706.0,229.2 706.2,229.3 706.5,229.1 706.8,229.3 707.0,229.4 707.2,229.4 707.5,229.3 707.8,229.4 708.0,229.4 708.2,229.5 708.5,229.5 708.8,229.6 709.0,229.6 709.2,229.6 709.5,229.6 709.8,229.7 710.0,229.7 710.2,229.8 710.5,229.8 710.8,229.9 711.0,229.8 711.2,229.9 711.5,229.9 711.8,229.9 712.0,230.1 712.2,230.1 712.5,230.1 712.8,230.2 713.0,230.1 713.2,230.2 713.5,230.3 713.8,230.4 714.0,230.3 714.2,230.4 714.5,230.4 714.8,230.3 715.0,230.5 715.2,230.6 715.5,230.5 715.8,230.6 716.0,230.5 716.2,230.4 716.5,230.6 716.8,230.5 717.0,230.7 717.2,230.7 717.5,230.8 717.8,230.9 718.0,230.7 718.2,230.9 718.5,230.9 718.8,231.0 719.0,231.0 719.2,230.9 719.5,231.0 719.8,231.2 720.0,231.0 720.2,231.1 720.5,231.2 720.8,231.1 721.0,231.2 721.2,231.1 721.5,231.2 721.8,231.4 722.0,231.4 722.2,231.3 722.5,231.6 722.8,231.4 723.0,231.5 723.2,231.7 723.5,231.6 723.8,231.6 724.0,231.8 724.2,231.7 724.5,231.8 724.8,231.7 725.0,231.8 725.2,231.8 725.5,231.9 725.8,231.8 726.0,231.9 726.2,231.8 726.5,231.8 726.8,232.0 727.0,232.0 727.2,232.0 727.5,232.1 727.8,232.1 728.0,232.1 728.2,232.1 728.5,232.0 728.8,232.2 729.0,232.3 729.2,232.3 729.5,232.3 729.8,232.3 730.0,232.3 730.2,232.4 730.5,232.4 730.8,232.4 731.0,232.4 731.2,232.4 731.5,232.4 731.8,232.4 732.0,232.5 732.2,232.3 732.5,232.6 732.8,232.5 733.0,232.5 733.2,232.6 733.5,232.6 733.8,232.8 734.0,232.6 734.2,232.7 734.5,232.8 734.8,232.7 735.0,232.7 735.2,232.9 735.5,232.8 735.8,232.8 736.0,232.8 736.2,233.0 736.5,233.1 736.8,232.9 737.0,233.0 737.2,233.1 737.5,233.1 737.8,233.0 738.0,233.1 738.2,233.2 738.5,233.4 738.8,233.2 739.0,233.3 739.2,233.3 739.5,233.3 739.8,233.2 740.0,233.3 740.2,233.4 740.5,233.3 740.8,233.4 741.0,233.3 741.2,233.5 741.5,233.5 741.8,233.5 742.0,233.5 742.2,233.5 742.5,233.5 742.8,233.6 743.0,233.6 743.2,233.8 743.5,233.6 743.8,233.7 744.0,233.7 744.2,233.7 744.5,233.8 744.8,233.8 745.0,233.8 745.2,233.7 745.5,234.0 745.8,234.0 746.0,233.8 746.2,233.8 746.5,233.8 746.8,233.9 747.0,233.9 747.2,234.0 747.5,233.9 747.8,234.2 748.0,234.0 748.2,234.0 748.5,234.2 748.8,234.1 749.0,234.1 749.2,234.1 749.5,234.1 749.8,234.1 750.0,234.1 750.2,234.1 750.5,234.0 750.8,234.1 751.0,234.2 751.2,234.3 751.5,234.2 751.8,234.2 752.0,234.3 752.2,234.3 752.5,234.1 752.8,234.3 753.0,234.1 753.2,234.2 753.5,234.3 753.8,234.3 754.0,234.4 754.2,234.4 754.5,234.5 754.8,234.5 755.0,234.5 755.2,234.4 755.5,234.6 755.8,234.6 756.0,234.4 756.2,234.5 756.5,234.6 756.8,234.6 757.0,234.5 757.2,234.7 757.5,234.5 757.8,234.6 758.0,234.7 758.2,234.6 758.5,234.7 758.8,234.7 759.0,234.7 759.2,234.6"/><polyline points="787.8,237.3 788.0,237.2 788.2,237.3 788.5,237.2 788.8,237.2 789.0,237.3 789.2,237.4 789.5,237.5 789.8,237.4 790.0,237.4 790.2,237.5 790.5,237.5 790.8,237.5 791.0,237.6 791.2,237.5 791.5,237.7 791.8,237.5 792.0,237.6 792.2,237.8 792.5,237.7 792.8,237.8 793.0,237.8 793.2,237.8 793.5,238.0 793.8,237.9 794.0,237.9 794.2,237.9 794.5,238.0 794.8,237.9 795.0,238.1 795.2,238.0 795.5,237.9 795.8,238.0 796.0,238.2 796.2,238.2 796.5,238.4 796.8,239.2 797.0,244.0 797.2,254.7 797.5,261.5 797.8,254.5 798.0,244.2 798.2,239.3 798.5,238.5 798.8,238.3 799.0,238.5 799.2,238.4 799.5,238.5 799.8,238.7 800.0,238.7 800.2,238.8 800.5,239.2 800.8,240.3 801.0,241.6 801.2,243.1 801.5,243.8 801.8,243.3 802.0,241.9 802.2,240.5 802.5,239.6 802.8,239.1 803.0,239.0 803.2,239.1 803.5,239.0 803.8,239.0 804.0,239.1 804.2,239.0 804.5,239.0 804.8,239.0 805.0,239.2 805.2,239.2 805.5,239.1 805.8,239.1 806.0,239.3 806.2,239.4 806.5,239.4 806.8,239.4 807.0,239.4 807.2,239.4 807.5,239.5 807.8,239.4 808.0,239.4 808.2,239.5 808.5,239.6 808.8,239.7 809.0,239.6 809.2,239.6 809.5,239.7 809.8,239.8 810.0,239.7 810.2,239.7 810.5,239.7 810.8,239.8 811.0,240.1 811.2,239.8 811.5,239.9 811.8,239.9 812.0,240.0 812.2,240.0 812.5,240.0 812.8,240.0 813.0,240.0 813.2,240.2 813.5,240.1 813.8,240.2 814.0,240.2 814.2,240.2 814.5,240.3 814.8,240.2 815.0,240.2 815.2,240.2 815.5,240.3 815.8,240.5 816.0,240.4 816.2,240.4 816.5,240.5 816.8,240.4 817.0,240.3 817.2,240.4 817.5,240.4 817.8,240.3 818.0,240.4 818.2,240.5 818.5,240.6 818.8,240.5 819.0,240.5 819.2,240.5 819.5,240.5 819.8,240.4 820.0,240.5 820.2,240.4 820.5,240.6 820.8,240.7 821.0,240.6 821.2,240.6 821.5,240.5 821.8,240.5 822.0,240.7 822.2,240.6 822.5,240.7 822.8,240.7 823.0,240.7 823.2,240.7 823.5,240.8 823.8,240.8 824.0,240.7 824.2,240.7 824.5,240.9 824.8,240.8 825.0,240.8 825.2,240.7 825.5,240.8 825.8,240.9 826.0,240.8 826.2,240.8 826.5,240.8 826.8,240.9 827.0,240.9 827.2,240.9 827.5,240.9 827.8,240.8 828.0,241.1 828.2,241.0 828.5,240.9 828.8,241.0 829.0,241.0 829.2,241.1 829.5,241.0 829.8,241.0 830.0,241.1 830.2,240.9 830.5,241.0 830.8,241.2 831.0,241.1 831.2,241.1 831.5,241.1 831.8,241.0 832.0,241.2 832.2,241.2 832.5,241.3 832.8,241.1 833.0,241.2 833.2,241.2 833.5,241.2 833.8,241.4 834.0,241.4 834.2,241.3 834.5,241.2 834.8,241.3 835.0,241.3 835.2,241.3 835.5,241.2 835.8,241.5 836.0,241.3 836.2,241.5 836.5,241.4 836.8,241.5 837.0,241.6 837.2,241.5 837.5,241.6 837.8,241.6 838.0,241.7 838.2,241.7 838.5,241.7 838.8,241.6 839.0,241.8 839.2,241.7 839.5,241.8 839.8,241.7 840.0,241.8 840.2,241.9 840.5,241.9 840.8,242.0 841.0,242.1 841.2,242.1 841.5,242.0 841.8,241.9 842.0,241.9 842.2,242.1 842.5,242.0 842.8,242.2 843.0,242.0 843.2,242.3 843.5,242.3 843.8,242.2 844.0,242.3 844.2,242.4 844.5,242.4 844.8,242.4 845.0,242.5 845.2,242.5 845.5,242.5 845.8,242.5 846.0,242.4 846.2,242.6 846.5,242.5 846.8,242.6 847.0,242.6 847.2,242.8 847.5,242.7 847.8,242.7 848.0,242.8 848.2,242.8 848.5,242.9 848.8,242.9 849.0,242.9 849.2,242.9 849.5,242.8 849.8,243.0 850.0,243.0 850.2,242.9 850.5,243.1 850.8,243.1 851.0,243.1 851.2,243.2 851.5,243.2 851.8,243.1 852.0,243.3 852.2,243.2 852.5,243.1 852.8,243.3 853.0,243.2 853.2,243.3 853.5,243.2 853.8,243.4 854.0,243.4 854.2,243.3 854.5,243.4 854.8,243.4 855.0,243.3 855.2,243.4 855.5,243.4 855.8,243.4 856.0,243.3 856.2,243.5 856.5,243.5 856.8,243.5 857.0,243.5 857.2,243.6 857.5,243.5 857.8,243.7 858.0,243.5 858.2,243.6 858.5,243.6 858.8,243.6 859.0,243.8 859.2,243.7 859.5,243.6 859.8,243.7 860.0,243.7 860.2,243.9 860.5,243.7 860.8,243.8 861.0,243.7 861.2,243.8 861.5,243.9 861.8,243.9 862.0,243.9 862.2,243.9 862.5,243.8 862.8,243.9 863.0,243.9 863.2,244.1 863.5,243.8 863.8,244.0 864.0,243.9 864.2,243.9 864.5,243.9 864.8,243.9 865.0,244.1 865.2,244.0 865.5,244.0 865.8,244.0 866.0,244.1 866.2,244.1 866.5,244.2 866.8,244.2 867.0,244.2 867.2,244.2 867.5,244.3 867.8,244.2 868.0,244.3 868.2,244.2 868.5,244.2 868.8,244.4 869.0,244.3 869.2,244.3 869.5,244.3 869.8,244.4 870.0,244.6 870.2,244.5 870.5,244.5 870.8,244.5 871.0,244.6 871.2,244.5 871.5,244.8 871.8,244.6 872.0,244.6 872.2,244.7 872.5,244.6 872.8,244.6 873.0,244.6 873.2,244.7 873.5,244.9 873.8,244.7 874.0,245.0 874.2,244.9 874.5,245.0 874.8,244.9 875.0,244.8 875.2,244.8 875.5,245.0 875.8,244.9 876.0,245.0 876.2,245.0 876.5,245.1 876.8,245.2 877.0,245.1 877.2,245.1 877.5,245.2 877.8,245.1 878.0,245.1 878.2,245.1 878.5,245.1 878.8,245.1 879.0,245.3 879.2,245.3 879.5,245.5 879.8,245.3 880.0,245.4 880.2,245.3 880.5,245.5 880.8,245.5 881.0,245.4 881.2,245.5 881.5,245.4 881.8,245.5 882.0,245.5 882.2,245.6 882.5,245.5 882.8,245.5 883.0,245.7 883.2,245.7 883.5,245.6 883.8,245.6 884.0,245.7 884.2,245.7 884.5,245.8 884.8,245.7 885.0,245.7 885.2,245.9 885.5,246.0 885.8,246.0 886.0,245.9 886.2,246.0 886.5,246.0 886.8,246.1 887.0,246.0 887.2,246.1 887.5,246.2 887.8,246.2 888.0,246.1 888.2,246.1 888.5,246.1 888.8,246.1 889.0,246.3 889.2,246.2 889.5,246.3 889.8,246.3 890.0,246.2 890.2,246.4 890.5,246.4 890.8,246.4 891.0,246.4 891.2,246.5 891.5,246.4 891.8,246.5 892.0,246.5 892.2,246.5 892.5,246.6 892.8,246.4 893.0,246.5 893.2,246.6 893.5,246.8 893.8,246.7 894.0,246.6 894.2,246.8 894.5,246.7 894.8,246.7 895.0,246.8 895.2,246.9 895.5,246.9 895.8,246.8 896.0,246.8 896.2,246.9 896.5,246.8 896.8,246.9 897.0,247.0 897.2,246.9 897.5,247.0 897.8,247.1 898.0,247.0 898.2,247.2 898.5,247.1 898.8,247.2 899.0,247.2 899.2,247.1 899.5,247.3 899.8,247.3 900.0,247.2 900.2,247.2 900.5,247.3 900.8,247.4 901.0,247.3 901.2,247.3 901.5,247.3 901.8,247.4 902.0,247.3 902.2,247.5 902.5,247.4 902.8,247.4 903.0,247.6 903.2,247.6 903.5,247.6 903.8,247.5 904.0,247.7 904.2,247.7 904.5,247.7 904.8,247.8 905.0,247.8 905.2,247.7 905.5,247.9 905.8,247.8 906.0,247.8 906.2,247.9 906.5,247.9 906.8,248.0 907.0,247.9 907.2,247.9 907.5,248.0 907.8,248.1 908.0,247.9 908.2,247.9 908.5,248.0 908.8,248.1 909.0,248.2 909.2,248.1 909.5,248.0 909.8,248.0 910.0,248.2 910.2,248.2 910.5,248.3 910.8,248.3 911.0,248.2 911.2,248.4 911.5,248.2 911.8,248.3 912.0,248.3 912.2,248.2 912.5,248.5 912.8,248.3 913.0,248.4 913.2,248.3 913.5,248.3 913.8,248.3 914.0,248.3 914.2,248.3 914.5,248.2 914.8,248.5 915.0,248.4 915.2,248.5 915.5,248.6 915.8,248.5 916.0,248.5 916.2,248.6 916.5,248.6 916.8,248.6 917.0,248.5 917.2,248.5 917.5,248.7 917.8,248.6 918.0,248.7 918.2,248.7 918.5,248.7 918.8,248.7 919.0,248.7 919.2,248.8 919.5,248.5 919.8,248.7 920.0,248.8 920.2,248.9 920.5,248.6 920.8,248.7 921.0,248.8 921.2,248.9 921.5,248.8 921.8,248.7 922.0,248.9 922.2,248.9 922.5,248.9 922.8,248.9 923.0,248.9 923.2,248.9 923.5,249.0 923.8,249.0 924.0,249.0 924.2,248.9 924.5,248.9 924.8,249.0 925.0,249.0 925.2,249.1 925.5,249.1 925.8,249.0 926.0,249.1 926.2,249.1 926.5,249.3 926.8,249.2 927.0,249.1 927.2,249.1 927.5,249.0 927.8,249.3 928.0,249.2 928.2,249.2 928.5,249.1 928.8,249.4 929.0,249.4 929.2,249.3 929.5,249.3 929.8,249.3 930.0,249.4 930.2,249.4 930.5,249.4 930.8,249.4 931.0,249.3 931.2,249.4 931.5,249.3 931.8,249.6 932.0,249.5 932.2,249.5 932.5,249.5 932.8,249.5 933.0,249.4 933.2,249.5 933.5,249.6 933.8,249.6 934.0,249.7 934.2,249.7 934.5,249.6 934.8,249.6 935.0,249.8 935.2,249.5 935.5,249.7 935.8,249.8 936.0,249.8 936.2,249.8 936.5,249.9 936.8,249.8 937.0,249.8 937.2,249.9 937.5,249.9 937.8,249.9 938.0,250.0 938.2,250.0 938.5,249.8 938.8,250.0 939.0,250.0 939.2,250.1 939.5,250.0 939.8,250.1 940.0,250.5 940.2,251.0 940.5,251.8 940.8,252.8 941.0,253.2 941.2,252.7 941.5,252.1 941.8,251.1 942.0,250.6 942.2,250.2 942.5,250.3 942.8,250.2 943.0,250.2 943.2,250.3 943.5,250.3 943.8,250.2 944.0,250.5 944.2,250.3 944.5,250.2 944.8,250.4 945.0,250.6 945.2,250.4 945.5,250.3 945.8,250.4 946.0,250.5 946.2,250.5 946.5,250.6 946.8,250.7 947.0,251.1 947.2,251.5 947.5,252.4 947.8,253.2 948.0,253.6 948.2,253.4 948.5,252.5 948.8,251.6 949.0,251.2 949.2,251.0 949.5,250.8 949.8,250.9 950.0,250.8 950.2,250.7 950.5,250.8 950.8,250.7 951.0,250.8 951.2,250.8 951.5,250.9 951.8,250.9 952.0,250.7 952.2,251.0 952.5,250.9 952.8,251.0 953.0,250.9 953.2,250.8 953.5,251.0 953.8,251.1 954.0,251.1 954.2,251.1 954.5,251.0 954.8,251.0 955.0,251.0 955.2,251.0 955.5,251.1 955.8,251.2 956.0,251.2 956.2,251.2 956.5,251.2 956.8,251.3 957.0,251.3 957.2,251.2 957.5,251.4 957.8,251.3 958.0,251.3 958.2,251.4 958.5,251.4 958.8,251.4 959.0,251.5 959.2,251.5 959.5,251.5 959.8,251.5 960.0,251.3 960.2,251.3 960.5,251.4 960.8,251.7 961.0,251.5 961.2,251.5 961.5,251.6 961.8,251.7 962.0,251.6 962.2,251.7 962.5,251.7 962.8,251.6 963.0,251.6 963.2,251.5 963.5,251.7 963.8,251.7 964.0,251.8 964.2,251.8 964.5,251.7 964.8,251.7 965.0,251.9 965.2,251.7 965.5,251.9 965.8,251.9 966.0,251.9 966.2,251.8 966.5,252.0 966.8,251.8 967.0,252.0 967.2,252.0 967.5,251.9 967.8,252.0 968.0,252.1 968.2,251.9 968.5,252.0 968.8,252.0 969.0,252.2 969.2,252.1 969.5,252.0 969.8,252.1 970.0,252.1 970.2,252.2 970.5,252.3 970.8,252.1 971.0,252.2 971.2,252.1 971.5,252.4 971.8,252.2 972.0,252.3 972.2,252.3 972.5,252.4 972.8,252.3 973.0,252.3 973.2,252.3 973.5,252.5 973.8,252.3 974.0,252.5 974.2,252.5 974.5,252.6 974.8,252.4 975.0,252.4 975.2,252.5 975.5,252.6 975.8,252.4 976.0,252.6 976.2,252.5 976.5,252.6 976.8,252.6 977.0,252.6 977.2,252.6 977.5,252.7 977.8,252.5 978.0,252.8 978.2,252.7 978.5,252.7 978.8,252.7 979.0,252.8 979.2,252.8 979.5,252.8 979.8,252.7 980.0,253.0 980.2,252.8 980.5,252.9 980.8,252.9 981.0,253.0 981.2,253.0 981.5,253.0 981.8,253.1 982.0,253.1 982.2,252.8 982.5,253.0 982.8,252.9 983.0,253.1 983.2,253.1 983.5,253.0 983.8,253.2 984.0,253.1 984.2,253.3 984.5,253.1 984.8,253.2 985.0,253.3 985.2,253.2 985.5,253.2 985.8,253.2 986.0,253.2 986.2,253.3 986.5,253.1 986.8,253.4 987.0,253.3 987.2,253.2 987.5,253.4 987.8,253.2 988.0,253.3 988.2,253.5 988.5,253.5 988.8,253.4 989.0,253.6 989.2,253.5 989.5,253.5 989.8,253.5 990.0,253.6 990.2,253.6 990.5,253.5 990.8,253.6 991.0,253.7 991.2,253.7 991.5,253.7 991.8,253.8 992.0,253.8 992.2,253.7 992.5,253.8 992.8,254.0 993.0,253.8 993.2,253.9 993.5,253.8 993.8,254.2 994.0,253.9 994.2,254.1 994.5,254.1 994.8,254.0 995.0,254.1 995.2,254.3 995.5,254.2 995.8,254.4 996.0,254.4 996.2,254.5 996.5,254.7 996.8,254.5 997.0,254.7 997.2,254.7 997.5,254.8 997.8,254.9 998.0,255.0 998.2,255.2 998.5,255.3 998.8,255.2 999.0,255.4 999.2,255.4 999.5,255.8 999.8,255.9 1000.0,256.1 1000.2,256.1 1000.5,256.4 1000.8,256.6 1001.0,256.8 1001.2,256.9 1001.5,257.1 1001.8,257.5 1002.0,257.6 1002.2,257.9 1002.5,258.2 1002.8,258.6 1003.0,259.0 1003.2,259.3 1003.5,259.8 1003.8,260.4 1004.0,261.1 1004.2,261.9 1004.5,262.7 1004.8,264.0 1005.0,265.2 1005.2,267.0 1005.5,268.8 1005.8,271.1 1006.0,273.3 1006.2,275.2 1006.5,276.3 1006.8,276.2 1007.0,274.9 1007.2,273.1 1007.5,270.7 1007.8,268.7 1008.0,266.8 1008.2,265.2 1008.5,263.9 1008.8,262.8 1009.0,262.0 1009.2,261.2 1009.5,260.7 1009.8,260.2 1010.0,259.7 1010.2,259.3 1010.5,258.9 1010.8,258.7 1011.0,258.5 1011.2,258.2 1011.5,257.9 1011.8,257.7 1012.0,257.7 1012.2,257.3 1012.5,257.3 1012.8,257.1 1013.0,257.0 1013.2,256.7 1013.5,256.8 1013.8,256.6 1014.0,256.6 1014.2,256.6 1014.5,256.3 1014.8,256.4 1015.0,256.2 1015.2,256.2 1015.5,256.2 1015.8,256.1 1016.0,256.0 1016.2,255.7 1016.5,255.8 1016.8,255.8 1017.0,255.7 1017.2,255.7 1017.5,255.7 1017.8,255.6 1018.0,255.6 1018.2,255.7 1018.5,255.8 1018.8,255.6 1019.0,255.6 1019.2,255.6 1019.5,255.5 1019.8,255.5 1020.0,255.6 1020.2,255.5 1020.5,255.5 1020.8,255.7 1021.0,255.5 1021.2,255.8 1021.5,255.7 1021.8,255.6 1022.0,255.7 1022.2,255.7 1022.5,255.6 1022.8,255.6 1023.0,255.6 1023.2,255.8 1023.5,255.6 1023.8,255.6 1024.0,255.7 1024.2,255.7 1024.5,255.9 1024.8,255.7 1025.0,255.7 1025.2,255.7 1025.5,255.8 1025.8,255.7 1026.0,255.8 1026.2,255.8 1026.5,255.9 1026.8,256.0 1027.0,256.0 1027.2,256.0 1027.5,255.9 1027.8,256.0 1028.0,255.9 1028.2,256.0 1028.5,256.0 1028.8,256.0 1029.0,256.1 1029.2,256.0 1029.5,256.2 1029.8,256.1 1030.0,256.1 1030.2,256.2 1030.5,256.1 1030.8,256.1 1031.0,256.3 1031.2,256.2 1031.5,256.6 1031.8,256.1 1032.0,256.1 1032.2,256.4 1032.5,256.2 1032.8,256.3 1033.0,256.2 1033.2,256.3 1033.5,256.3 1033.8,256.4 1034.0,256.3 1034.2,256.4 1034.5,256.5 1034.8,256.5 1035.0,256.4 1035.2,256.4 1035.5,256.4 1035.8,256.4 1036.0,256.6 1036.2,256.5 1036.5,256.5 1036.8,256.6 1037.0,256.6 1037.2,256.7 1037.5,256.7 1037.8,256.6 1038.0,256.6 1038.2,256.7 1038.5,256.7 1038.8,256.7 1039.0,256.7 1039.2,256.8 1039.5,256.9 1039.8,256.8 1040.0,256.9 1040.2,256.8 1040.5,256.8 1040.8,257.0 1041.0,257.3 1041.2,258.6 1041.5,261.3 1041.8,265.2 1042.0,266.9 1042.2,265.1 1042.5,261.4 1042.8,258.7 1043.0,257.3 1043.2,256.9 1043.5,256.9 1043.8,257.0 1044.0,256.9 1044.2,257.0 1044.5,257.0 1044.8,256.9 1045.0,257.0 1045.2,257.0 1045.5,256.9 1045.8,256.9 1046.0,256.8 1046.2,257.1 1046.5,257.0 1046.8,257.0 1047.0,257.1 1047.2,257.2 1047.5,257.1 1047.8,257.2 1048.0,257.2 1048.2,257.4 1048.5,257.0 1048.8,257.0 1049.0,257.0 1049.2,257.1 1049.5,257.0 1049.8,257.2 1050.0,257.0 1050.2,257.2 1050.5,257.2 1050.8,257.3 1051.0,257.2 1051.2,257.2 1051.5,257.2 1051.8,257.0 1052.0,257.2 1052.2,257.2 1052.5,257.3 1052.8,257.2 1053.0,257.1 1053.2,257.4 1053.5,257.1 1053.8,257.2 1054.0,257.2 1054.2,257.0 1054.5,257.3 1054.8,257.2 1055.0,257.3 1055.2,257.2 1055.5,257.3 1055.8,257.4 1056.0,257.3 1056.2,257.3 1056.5,257.3 1056.8,257.3 1057.0,257.2 1057.2,257.3 1057.5,257.4 1057.8,257.2 1058.0,257.2 1058.2,257.5 1058.5,257.4 1058.8,257.5 1059.0,257.4 1059.2,257.4 1059.5,257.4 1059.8,257.5 1060.0,257.5 1060.2,257.4 1060.5,257.3 1060.8,257.3 1061.0,257.5 1061.2,257.4 1061.5,257.5 1061.8,257.5 1062.0,257.5 1062.2,257.6 1062.5,257.5 1062.8,257.6 1063.0,257.6 1063.2,257.5 1063.5,257.6 1063.8,257.6 1064.0,257.7 1064.2,257.6 1064.5,257.6 1064.8,257.8 1065.0,257.7 1065.2,257.8 1065.5,257.8 1065.8,257.7 1066.0,257.8 1066.2,257.7 1066.5,257.6 1066.8,257.8 1067.0,257.8 1067.2,257.8 1067.5,257.8 1067.8,257.8 1068.0,257.7 1068.2,257.9 1068.5,257.7 1068.8,257.8 1069.0,257.8 1069.2,257.8 1069.5,257.9 1069.8,257.9 1070.0,257.8 1070.2,257.7 1070.5,257.8 1070.8,257.9 1071.0,257.9 1071.2,257.9 1071.5,258.0 1071.8,258.0 1072.0,258.0 1072.2,257.9 1072.5,258.0 1072.8,258.0 1073.0,258.2 1073.2,258.1 1073.5,258.0 1073.8,258.1 1074.0,258.2 1074.2,258.1 1074.5,258.2 1074.8,258.2 1075.0,258.2 1075.2,258.2 1075.5,258.1 1075.8,258.1 1076.0,258.2 1076.2,258.3 1076.5,258.3 1076.8,258.1 1077.0,258.3 1077.2,258.3 1077.5,258.4 1077.8,258.3 1078.0,258.3 1078.2,258.2 1078.5,258.4 1078.8,258.2 1079.0,258.3 1079.2,258.5 1079.5,258.4 1079.8,258.4 1080.0,258.4 1080.2,258.4 1080.5,258.3 1080.8,258.4 1081.0,258.5 1081.2,258.4 1081.5,258.4 1081.8,258.3 1082.0,258.5 1082.2,258.4 1082.5,258.5 1082.8,258.6 1083.0,258.4 1083.2,258.6 1083.5,258.5 1083.8,258.8 1084.0,258.7 1084.2,258.7 1084.5,258.6 1084.8,258.7 1085.0,258.7 1085.2,258.6 1085.5,258.6 1085.8,258.8 1086.0,258.7 1086.2,258.9 1086.5,258.8 1086.8,258.7 1087.0,258.8 1087.2,258.8 1087.5,258.7 1087.8,258.8 1088.0,258.7 1088.2,258.9 1088.5,258.9 1088.8,258.6 1089.0,258.9 1089.2,258.8 1089.5,259.0 1089.8,258.9 1090.0,258.9 1090.2,259.0 1090.5,258.8 1090.8,259.0 1091.0,259.1 1091.2,258.9 1091.5,259.0 1091.8,259.0 1092.0,259.2 1092.2,259.2 1092.5,259.0 1092.8,259.0 1093.0,259.1 1093.2,259.1 1093.5,259.1 1093.8,259.0 1094.0,259.2 1094.2,259.3 1094.5,259.2 1094.8,259.0 1095.0,259.0 1095.2,259.2 1095.5,259.1 1095.8,259.1 1096.0,259.2 1096.2,259.2 1096.5,259.3 1096.8,259.1 1097.0,259.3 1097.2,259.2 1097.5,259.3 1097.8,259.1 1098.0,259.3 1098.2,259.4 1098.5,259.3 1098.8,259.4 1099.0,259.3 1099.2,259.4 1099.5,259.3 1099.8,259.4 1100.0,259.3 1100.2,259.4 1100.5,259.5 1100.8,259.4 1101.0,259.5 1101.2,259.5 1101.5,259.5 1101.8,259.3 1102.0,259.7 1102.2,259.4 1102.5,259.6 1102.8,259.6 1103.0,259.7 1103.2,259.6 1103.5,259.5 1103.8,259.7 1104.0,259.8 1104.2,259.6 1104.5,259.7 1104.8,259.7 1105.0,259.7 1105.2,259.7 1105.5,259.8 1105.8,259.8 1106.0,260.0 1106.2,259.6 1106.5,259.9 1106.8,259.8 1107.0,259.7 1107.2,259.7 1107.5,260.0 1107.8,259.7 1108.0,260.0 1108.2,259.8 1108.5,259.9 1108.8,259.9 1109.0,259.8 1109.2,259.9 1109.5,260.1 1109.8,260.0 1110.0,260.0 1110.2,260.1 1110.5,260.1 1110.8,260.0 1111.0,260.1 1111.2,260.1 1111.5,260.1 1111.8,259.9 1112.0,260.2 1112.2,260.2 1112.5,260.1 1112.8,260.5 1113.0,260.1 1113.2,260.2 1113.5,260.2 1113.8,260.2 1114.0,260.2 1114.2,260.4 1114.5,260.2 1114.8,260.1 1115.0,260.3 1115.2,260.2 1115.5,260.3 1115.8,260.3 1116.0,260.4 1116.2,260.6 1116.5,260.4 1116.8,260.6 1117.0,260.4 1117.2,260.4 1117.5,260.3 1117.8,260.5 1118.0,260.5 1118.2,260.7 1118.5,260.4 1118.8,260.5 1119.0,260.5 1119.2,260.5 1119.5,260.6 1119.8,260.5 1120.0,260.6 1120.2,260.5 1120.5,260.5 1120.8,260.6 1121.0,260.7 1121.2,260.6 1121.5,260.5 1121.8,260.6 1122.0,260.7 1122.2,260.7 1122.5,260.8 1122.8,260.6 1123.0,260.7 1123.2,260.7 1123.5,260.9 1123.8,260.8 1124.0,260.7 1124.2,260.7 1124.5,260.8 1124.8,260.7 1125.0,260.9 1125.2,260.9 1125.5,260.8 1125.8,260.8 1126.0,260.8 1126.2,260.9 1126.5,260.8 1126.8,260.9 1127.0,260.7 1127.2,261.0 1127.5,260.9 1127.8,261.0 1128.0,260.9 1128.2,260.8 1128.5,260.9 1128.8,260.9 1129.0,261.0 1129.2,260.8 1129.5,260.8 1129.8,261.0 1130.0,261.0 1130.2,260.9 1130.5,261.0 1130.8,260.9 1131.0,261.0 1131.2,260.9 1131.5,261.1 1131.8,261.0 1132.0,261.0 1132.2,260.9 1132.5,260.9 1132.8,260.9 1133.0,261.0 1133.2,261.1 1133.5,260.9 1133.8,261.0 1134.0,261.1 1134.2,261.1 1134.5,261.1 1134.8,261.1 1135.0,261.2 1135.2,261.0 1135.5,261.2 1135.8,261.0 1136.0,261.1 1136.2,261.1 1136.5,261.2 1136.8,261.2 1137.0,261.3 1137.2,261.1 1137.5,261.3 1137.8,261.3 1138.0,261.3 1138.2,261.2 1138.5,261.4 1138.8,261.3 1139.0,261.3 1139.2,261.3 1139.5,261.3 1139.8,261.4 1140.0,261.3"/></g>
<use href="#blk" transform="translate(0,0.85)"/><use href="#blk" transform="translate(0,-0.85)"/>
<polyline fill="none" stroke="#000" stroke-width="3.6" stroke-linejoin="round" points="163.0,177.1 163.2,172.8 163.5,168.5 163.8,164.1 164.0,160.0 164.2,147.5 164.5,135.0 164.8,122.4 165.0,110.0 165.2,106.2 165.5,102.4 165.8,98.8 166.0,95.1 166.2,94.7 166.5,94.1 166.8,93.7 167.0,93.2 167.2,92.7 167.5,92.5 167.8,91.8 168.0,91.4 168.2,91.7 168.5,92.0 168.8,92.1 169.0,92.2 169.2,92.4 169.5,92.7 169.8,92.8 170.0,92.9 170.2,95.0 170.5,97.1 170.8,99.2 171.0,100.9 171.2,102.9 171.5,104.9 171.8,113.6 172.0,122.4 172.2,131.2 172.5,140.1 172.8,155.0 173.0,169.9 173.2,185.1 173.5,200.0 173.8,207.9 174.0,216.0 174.2,208.0 174.5,199.9 174.8,185.0 175.0,169.8 175.2,155.0 175.5,140.1 175.8,131.3 176.0,122.6 176.2,113.8 176.5,105.1 176.8,102.9 177.0,101.1 177.2,98.9 177.5,97.0 177.8,94.8 178.0,93.1 178.2,92.9 178.5,92.6 178.8,92.5 179.0,92.1 179.2,92.0 179.5,91.8 179.8,91.5 180.0,91.4 180.2,91.3 180.5,91.0 180.8,91.3 181.0,92.2 181.2,95.3 181.5,100.8 181.8,109.2 182.0,119.3 182.2,127.9 182.5,131.3 182.8,128.8 183.0,121.6 183.2,115.1 183.5,113.0 183.8,117.0 184.0,125.6 184.2,134.7 184.5,138.7 184.8,135.5 185.0,126.6 185.2,116.3 185.5,107.7 185.8,102.3 186.0,99.9 186.2,101.5 186.5,103.8 186.8,106.5 187.0,109.4 187.2,112.1 187.5,115.0 187.8,122.7 188.0,130.1 188.2,137.4 188.5,145.0 188.8,152.5 189.0,160.1 189.2,175.0 189.5,190.0 189.8,204.9 190.0,220.1 190.2,205.0 190.5,190.0 190.8,175.0 191.0,160.0 191.2,153.1 191.5,145.9 191.8,139.0 192.0,132.1 192.2,125.0 192.5,117.9 192.8,115.4 193.0,112.6 193.2,110.0 193.5,107.3 193.8,104.5 194.0,102.0 194.2,101.5 194.5,100.9 194.8,100.4 195.0,99.8 195.2,99.2 195.5,98.7 195.8,98.4 196.0,97.7 196.2,97.1 196.5,96.6 196.8,96.0 197.0,95.6 197.2,95.9 197.5,96.6 197.8,98.2 198.0,101.7 198.2,107.0 198.5,113.2 198.8,118.5 199.0,120.4 199.2,118.5 199.5,113.2 199.8,106.9 200.0,101.8 200.2,98.6 200.5,96.9 200.8,96.5 201.0,96.2 201.2,96.5 201.5,96.6 201.8,96.8 202.0,96.9 202.2,97.3 202.5,97.6 202.8,98.0 203.0,98.2 203.2,98.8 203.5,101.0 203.8,107.7 204.0,120.4 204.2,129.4 204.5,125.4 204.8,113.5 205.0,104.6 205.2,101.7 205.5,101.4 205.8,101.5 206.0,101.8 206.2,102.1 206.5,102.4 206.8,102.6 207.0,102.9 207.2,103.5 207.5,104.1 207.8,104.6 208.0,105.1 208.2,105.6 208.5,106.0 208.8,106.5 209.0,106.8 209.2,107.4 209.5,107.9 209.8,108.9 210.0,109.8 210.2,110.6 210.5,111.5 210.8,112.3 211.0,113.2 211.2,114.1 211.5,115.0 211.8,117.4 212.0,120.2 212.2,122.6 212.5,125.0 212.8,127.5 213.0,130.0 213.2,138.3 213.5,146.7 213.8,155.0 214.0,163.4 214.2,173.4 214.5,190.0 214.8,206.4 215.0,223.0 215.2,206.4 215.5,189.8 215.8,173.5 216.0,162.5 216.2,153.3 216.5,143.7 216.8,134.4 217.0,125.1 217.2,122.8 217.5,120.7 217.8,118.5 218.0,116.3 218.2,114.2 218.5,111.9 218.8,111.5 219.0,110.8 219.2,110.4 219.5,109.5 219.8,109.1 220.0,108.6 220.2,108.6 220.5,109.0 220.8,109.9 221.0,112.6 221.2,118.4 221.5,127.0 221.8,135.1 222.0,138.7 222.2,135.1 222.5,126.9 222.8,118.4 223.0,112.8 223.2,110.3 223.5,109.2 223.8,108.9 224.0,108.9 224.2,109.0 224.5,108.9 224.8,109.1 225.0,109.0 225.2,109.0 225.5,109.2 225.8,109.3 226.0,110.6 226.2,113.4 226.5,118.6 226.8,126.6 227.0,136.1 227.2,144.2 227.5,147.7 227.8,144.5 228.0,136.5 228.2,127.3 228.5,119.3 228.8,114.3 229.0,111.7 229.2,110.8 229.5,110.2 229.8,110.3 230.0,110.3 230.2,110.3 230.5,110.6 230.8,110.5 231.0,111.0 231.2,111.4 231.5,112.6 231.8,115.5 232.0,121.0 232.2,129.3 232.5,139.5 232.8,147.9 233.0,151.4 233.2,148.1 233.5,139.9 233.8,129.9 234.0,121.9 234.2,116.6 234.5,113.7 234.8,112.6 235.0,112.3 235.2,112.4 235.5,112.5 235.8,112.3 236.0,113.0 236.2,113.0 236.5,113.1 236.8,113.2 237.0,113.4 237.2,113.4 237.5,113.6 237.8,113.7 238.0,113.6 238.2,113.7 238.5,113.8 238.8,114.1 239.0,114.0 239.2,114.0 239.5,114.2 239.8,114.3 240.0,114.4 240.2,114.7 240.5,114.7 240.8,114.9 241.0,114.9 241.2,115.2 241.5,115.3 241.8,115.3 242.0,115.7" shape-rendering="auto"/>
<g stroke="#000" stroke-width="1.4" fill="none" stroke-linejoin="miter"><polyline points="241.0,117.0 242.5,114.5 243.5,119.0 245.0,117.0"/><polyline points="282.0,133.5 283.5,129.6 284.5,136.6 286.0,133.5"/><polyline points="305.0,147.1 306.5,150.3 307.5,144.4 309.0,147.1"/><polyline points="329.0,176.5 330.5,179.9 331.5,173.7 333.0,176.5"/><polyline points="346.0,155.1 347.5,159.4 348.5,151.7 350.0,155.1"/><polyline points="352.0,157.1 353.5,160.6 354.5,154.3 356.0,157.1"/><polyline points="391.0,182.1 392.5,179.0 393.5,184.6 395.0,182.1"/><polyline points="415.0,175.8 416.5,173.0 417.5,178.0 419.0,175.8"/><polyline points="439.0,182.9 440.5,187.1 441.5,179.5 443.0,182.9"/><polyline points="450.0,185.6 451.5,183.0 452.5,187.7 454.0,185.6"/><polyline points="457.0,188.6 458.5,184.8 459.5,191.6 461.0,188.6"/><polyline points="459.0,188.0 460.5,190.9 461.5,185.7 463.0,188.0"/><polyline points="470.0,191.4 471.5,194.1 472.5,189.2 474.0,191.4"/><polyline points="491.0,202.3 492.5,198.3 493.5,205.5 495.0,202.3"/><polyline points="511.0,198.9 512.5,195.1 513.5,202.0 515.0,198.9"/><polyline points="515.0,199.7 516.5,203.8 517.5,196.4 519.0,199.7"/><polyline points="533.0,203.3 534.5,206.0 535.5,201.2 537.0,203.3"/><polyline points="546.0,206.6 547.5,203.8 548.5,208.9 550.0,206.6"/><polyline points="580.0,211.7 581.5,208.2 582.5,214.6 584.0,211.7"/><polyline points="583.0,212.3 584.5,215.1 585.5,210.1 587.0,212.3"/><polyline points="585.0,212.7 586.5,208.4 587.5,216.1 589.0,212.7"/><polyline points="614.0,218.1 615.5,215.6 616.5,220.1 618.0,218.1"/><polyline points="625.0,220.0 626.5,224.4 627.5,216.4 629.0,220.0"/><polyline points="686.0,227.9 687.5,231.8 688.5,224.7 690.0,227.9"/><polyline points="697.0,228.6 698.5,232.6 699.5,225.4 701.0,228.6"/><polyline points="708.0,229.7 709.5,226.5 710.5,232.2 712.0,229.7"/><polyline points="800.0,241.9 801.5,245.4 802.5,239.0 804.0,241.9"/><polyline points="818.0,240.5 819.5,243.3 820.5,238.3 822.0,240.5"/><polyline points="829.0,241.1 830.5,245.4 831.5,237.7 833.0,241.1"/><polyline points="839.0,242.1 840.5,245.2 841.5,239.6 843.0,242.1"/><polyline points="864.0,244.1 865.5,240.4 866.5,247.0 868.0,244.1"/><polyline points="874.0,245.0 875.5,249.4 876.5,241.5 878.0,245.0"/><polyline points="894.0,246.8 895.5,251.1 896.5,243.4 898.0,246.8"/><polyline points="901.0,247.6 902.5,243.6 903.5,250.8 905.0,247.6"/><polyline points="909.0,248.2 910.5,245.1 911.5,250.6 913.0,248.2"/><polyline points="947.0,251.2 948.5,254.5 949.5,248.5 951.0,251.2"/><polyline points="1101.0,259.7 1102.5,255.3 1103.5,263.3 1105.0,259.7"/></g>
<g fill="#000"><rect x="273.0" y="128.1" width="1.8" height="3.1"/><rect x="288.0" y="135.3" width="2.1" height="8.3"/><rect x="344.0" y="154.5" width="2.4" height="10.8"/><rect x="370.0" y="180.3" width="2.8" height="2.7"/><rect x="381.0" y="164.8" width="2.3" height="3.0"/><rect x="409.0" y="173.1" width="2.5" height="3.7"/><rect x="432.0" y="180.1" width="1.7" height="2.8"/><rect x="442.0" y="206.8" width="2.8" height="3.9"/><rect x="519.0" y="200.1" width="1.6" height="6.1"/><rect x="559.0" y="207.2" width="2.0" height="6.9"/><rect x="612.0" y="217.2" width="2.4" height="7.0"/><rect x="626.0" y="219.5" width="2.4" height="3.4"/><rect x="633.0" y="220.7" width="2.1" height="4.3"/><rect x="667.0" y="225.4" width="2.0" height="3.0"/><rect x="705.0" y="228.9" width="2.3" height="4.5"/><rect x="719.0" y="231.0" width="1.7" height="2.5"/><rect x="806.0" y="239.3" width="2.4" height="2.8"/><rect x="863.0" y="243.9" width="2.3" height="3.2"/><rect x="992.0" y="253.8" width="2.4" height="4.5"/></g>
<g id="red" fill="none" stroke="#ff0000" stroke-width="1.2" stroke-linejoin="round" shape-rendering="auto"><polyline points="163.0,178.5 163.2,174.2 163.5,170.0 163.8,165.8 164.0,161.5 164.2,149.0 164.5,136.5 164.8,124.0 165.0,111.5 165.2,107.8 165.5,104.0 165.8,100.2 166.0,96.5 166.2,96.1 166.5,95.6 166.8,95.2 167.0,94.8 167.2,94.3 167.5,93.9 167.8,93.4 168.0,93.0 168.2,93.2 168.5,93.4 168.8,93.6 169.0,93.8 169.2,93.9 169.5,94.1 169.8,94.3 170.0,94.5 170.2,96.5 170.5,98.5 170.8,100.5 171.0,102.5 171.2,104.5 171.5,106.5 171.8,115.2 172.0,124.0 172.2,132.8 172.5,141.5 172.8,156.5 173.0,171.5 173.2,186.5 173.5,201.5 173.8,209.5 174.0,217.5 174.2,209.5 174.5,201.5 174.8,186.5 175.0,171.5 175.2,156.5 175.5,141.5 175.8,132.8 176.0,124.0 176.2,115.2 176.5,106.5 176.8,104.5 177.0,102.5 177.2,100.5 177.5,98.5 177.8,96.5 178.0,94.5 178.2,94.3 178.5,94.1 178.8,93.9 179.0,93.7 179.2,93.5 179.5,93.2 179.8,93.0 180.0,92.8 180.2,92.6 180.5,92.4 180.8,92.2 181.0,92.0 181.2,92.1 181.5,92.2 181.8,92.4 182.0,92.5 182.2,92.6 182.5,92.8 182.8,92.9 183.0,93.0 183.2,93.1 183.5,93.2 183.8,93.4 184.0,93.5 184.2,94.2 184.5,95.0 184.8,95.8 185.0,96.5 185.2,97.2 185.5,98.0 185.8,98.8 186.0,99.5 186.2,102.3 186.5,105.2 186.8,108.0 187.0,110.8 187.2,113.7 187.5,116.5 187.8,124.0 188.0,131.5 188.2,139.0 188.5,146.5 188.8,154.0 189.0,161.5 189.2,176.5 189.5,191.5 189.8,206.5 190.0,221.5 190.2,206.5 190.5,191.5 190.8,176.5 191.0,161.5 191.2,154.5 191.5,147.5 191.8,140.5 192.0,133.5 192.2,126.5 192.5,119.5 192.8,116.8 193.0,114.2 193.2,111.5 193.5,108.8 193.8,106.2 194.0,103.5 194.2,103.0 194.5,102.4 194.8,101.9 195.0,101.3 195.2,100.8 195.5,100.2 195.8,99.7 196.0,99.2 196.2,98.6 196.5,98.1 196.8,97.5 197.0,97.0 197.2,97.0 197.5,97.0 197.8,97.0 198.0,97.0 198.2,97.0 198.5,97.0 198.8,97.0 199.0,97.0 199.2,97.0 199.5,97.0 199.8,97.0 200.0,97.0 200.2,97.2 200.5,97.4 200.8,97.6 201.0,97.8 201.2,97.9 201.5,98.1 201.8,98.3 202.0,98.5 202.2,98.8 202.5,99.1 202.8,99.4 203.0,99.7 203.2,100.0 203.5,100.3 203.8,100.6 204.0,100.9 204.2,101.2 204.5,101.5 204.8,101.8 205.0,102.1 205.2,102.4 205.5,102.7 205.8,103.0 206.0,103.3 206.2,103.6 206.5,103.9 206.8,104.2 207.0,104.5 207.2,105.0 207.5,105.5 207.8,106.0 208.0,106.5 208.2,107.0 208.5,107.5 208.8,108.0 209.0,108.5 209.2,109.0 209.5,109.5 209.8,110.4 210.0,111.2 210.2,112.1 210.5,113.0 210.8,113.9 211.0,114.8 211.2,115.6 211.5,116.5 211.8,119.0 212.0,121.5 212.2,124.0 212.5,126.5 212.8,129.0 213.0,131.5 213.2,139.8 213.5,148.2 213.8,156.5 214.0,164.8 214.2,174.8 214.5,191.4 214.8,207.9 215.0,224.5 215.2,207.9 215.5,191.4 215.8,174.8 216.0,164.0 216.2,154.6 216.5,145.3 216.8,135.9 217.0,126.5 217.2,124.3 217.5,122.2 217.8,120.0 218.0,117.8 218.2,115.7 218.5,113.5 218.8,112.9 219.0,112.3 219.2,111.8 219.5,111.2 219.8,110.6 220.0,110.0 220.2,110.0 220.5,110.0 220.8,110.1 221.0,110.1 221.2,110.1 221.5,110.1 221.8,110.1 222.0,110.2 222.2,110.2 222.5,110.2 222.8,110.2 223.0,110.2 223.2,110.3 223.5,110.3 223.8,110.3 224.0,110.3 224.2,110.4 224.5,110.4 224.8,110.4 225.0,110.4 225.2,110.4 225.5,110.5 225.8,110.5 226.0,110.5 226.2,110.6 226.5,110.7 226.8,110.8 227.0,110.8 227.2,110.9 227.5,111.0 227.8,111.1 228.0,111.2 228.2,111.2 228.5,111.3 228.8,111.4 229.0,111.5 229.2,111.6 229.5,111.7 229.8,111.8 230.0,111.8 230.2,111.9 230.5,112.0 230.8,112.1 231.0,112.2 231.2,112.2 231.5,112.3 231.8,112.4 232.0,112.5 232.2,112.6 232.5,112.7 232.8,112.8 233.0,112.9 233.2,113.0 233.5,113.1 233.8,113.2 234.0,113.2 234.2,113.3 234.5,113.4 234.8,113.5 235.0,113.6 235.2,113.7 235.5,113.8 235.8,113.9 236.0,114.4 236.2,114.5 236.5,114.6 236.8,114.6 237.0,114.7 237.2,114.8 237.5,114.9 237.8,114.9 238.0,115.0 238.2,115.1 238.5,115.2 238.8,115.3 239.0,115.3 239.2,115.4 239.5,115.5 239.8,115.6 240.0,115.7 240.2,115.8 240.5,115.9 240.8,116.0 241.0,116.1 241.2,116.2 241.5,116.4 241.8,116.5 242.0,116.6 242.2,116.7 242.5,116.9 242.8,117.0 243.0,117.2 243.2,117.3 243.5,117.5 243.8,117.6 244.0,117.8 244.2,118.0 244.5,118.2 244.8,118.3 245.0,118.5 245.2,118.7 245.5,119.0 245.8,119.2 246.0,119.4 246.2,119.7 246.5,119.9 246.8,120.2 247.0,120.5 247.2,120.8 247.5,121.2 247.8,121.5 248.0,121.9 248.2,122.3 248.5,122.7 248.8,123.1 249.0,123.6 249.2,124.1 249.5,124.6 249.8,125.2 250.0,125.8 250.2,126.4 250.5,127.1 250.8,127.9 251.0,128.8 251.2,129.7 251.5,130.8 251.8,132.0 252.0,133.5 252.2,135.1 252.5,137.0 252.8,139.3 253.0,142.1 253.2,145.6 253.5,149.8 253.8,155.2 254.0,162.0 254.2,170.6 254.5,181.3 254.8,194.1 255.0,208.2 255.2,220.9 255.5,228.4 255.8,227.6 256.0,218.8 256.2,205.6 256.5,191.8 256.8,179.4 257.0,169.3 257.2,161.2 257.5,154.8 257.8,149.8 258.0,145.8 258.2,142.6 258.5,140.0 258.8,137.9 259.0,136.2 259.2,134.7 259.5,133.4 259.8,132.3 260.0,131.4 260.2,130.5 260.5,129.8 260.8,129.1 261.0,128.5 261.2,128.0 261.5,127.5 261.8,127.1 262.0,126.7 262.2,126.3 262.5,126.0 262.8,125.7 263.0,125.4 263.2,125.3 263.5,125.2 263.8,125.1 264.0,125.0 264.2,124.9 264.5,124.9 264.8,124.9 265.0,124.9 265.2,124.9 265.5,124.9 265.8,124.9 266.0,124.9 266.2,125.0 266.5,125.0 266.8,125.1 267.0,125.2 267.2,125.3 267.5,125.4 267.8,125.5 268.0,125.6 268.2,125.7 268.5,125.8 268.8,125.9 269.0,126.0 269.2,126.1 269.5,126.3 269.8,126.4 270.0,126.6 270.2,126.7 270.5,126.8 270.8,126.9 271.0,127.0 271.2,127.1 271.5,127.2 271.8,127.4 272.0,127.5 272.2,127.6 272.5,127.7 272.8,127.9 273.0,128.0 273.2,128.1 273.5,128.3 273.8,128.4 274.0,128.5 274.2,128.6 274.5,128.8 274.8,128.9 275.0,129.1 275.2,129.2 275.5,129.3 275.8,129.5 276.0,129.6 276.2,129.7 276.5,129.9 276.8,130.0 277.0,130.1 277.2,130.3 277.5,130.4 277.8,130.6 278.0,130.7 278.2,130.8 278.5,131.0 278.8,131.1 279.0,131.3 279.2,131.4 279.5,131.5 279.8,131.7 280.0,131.8 280.2,131.9 280.5,132.0 280.8,132.1 281.0,132.3 281.2,132.4 281.5,132.5 281.8,132.6 282.0,132.7 282.2,132.8 282.5,132.9 282.8,133.0 283.0,133.1 283.2,133.3 283.5,133.4 283.8,133.5 284.0,133.6 284.2,133.7 284.5,133.8 284.8,133.9 285.0,134.0 285.2,134.1 285.5,134.3 285.8,134.4 286.0,134.5 286.2,134.6 286.5,134.7 286.8,134.8 287.0,134.9 287.2,135.0 287.5,135.1 287.8,135.2 288.0,135.3 288.2,135.4 288.5,135.5 288.8,135.5 289.0,135.6 289.2,135.7 289.5,135.8 289.8,135.9 290.0,136.0 290.2,136.1 290.5,136.1 290.8,136.2 291.0,136.3 291.2,136.4 291.5,136.5 291.8,136.6 292.0,136.7 292.2,136.8 292.5,136.8 292.8,136.9 293.0,137.0 293.2,137.1 293.5,137.2 293.8,137.3 294.0,137.4 294.2,137.5 294.5,137.5 294.8,137.6 295.0,137.7 295.2,137.8 295.5,137.9 295.8,138.0 296.0,138.1 296.2,138.2 296.5,138.3 296.8,138.4 297.0,138.5 297.2,138.6 297.5,138.7 297.8,138.8 298.0,138.9 298.2,139.0 298.5,139.1 298.8,139.2 299.0,139.3 299.2,139.4 299.5,139.5 299.8,139.6 300.0,139.7 300.2,139.8 300.5,139.9 300.8,140.0 301.0,140.1 301.2,140.2 301.5,140.3 301.8,140.4 302.0,140.5 302.2,140.6 302.5,140.7 302.8,140.8 303.0,140.9 303.2,141.0 303.5,141.1 303.8,141.2 304.0,141.3 304.2,141.4 304.5,141.5 304.8,141.6 305.0,141.7 305.2,141.8 305.5,141.9 305.8,142.0 306.0,142.1 306.2,142.2 306.5,142.3 306.8,142.4 307.0,142.5 307.2,142.6 307.5,142.7 307.8,142.8 308.0,142.9 308.2,143.0 308.5,143.1 308.8,143.2 309.0,143.3 309.2,143.4 309.5,143.5 309.8,143.6 310.0,143.7 310.2,143.8 310.5,143.9 310.8,144.0 311.0,144.1 311.2,144.2 311.5,144.3 311.8,144.4 312.0,144.5 312.2,144.6 312.5,144.7 312.8,144.8 313.0,144.9 313.2,145.0 313.5,145.1 313.8,145.3 314.0,145.4 314.2,145.5 314.5,145.6 314.8,145.7 315.0,145.9 315.2,146.0 315.5,146.1 315.8,146.2 316.0,146.3 316.2,146.5 316.5,146.6 316.8,146.7 317.0,146.9 317.2,147.0 317.5,147.2 317.8,147.3 318.0,147.5 318.2,147.7 318.5,147.9 318.8,148.0 319.0,148.2 319.2,148.4 319.5,148.6 319.8,148.9 320.0,149.1 320.2,149.3 320.5,149.6 320.8,149.9 321.0,150.2 321.2,150.5 321.5,150.8 321.8,151.2 322.0,151.5 322.2,151.9 322.5,152.4 322.8,152.8 323.0,153.3 323.2,153.9 323.5,154.5 323.8,155.1 324.0,155.9 324.2,156.7 324.5,157.7 324.8,158.8 325.0,160.0 325.2,161.5 325.5,163.2 325.8,165.3 326.0,167.7 326.2,170.8 326.5,174.6 326.8,179.3 327.0,185.3 327.2,192.8 327.5,202.0 327.8,212.8 328.0,224.3 328.2,234.6 328.5,240.6 328.8,240.0 329.0,233.1 329.2,222.4 329.5,211.1 329.8,200.7 330.0,192.0 330.2,185.0 330.5,179.5 330.8,175.1 331.0,171.6 331.2,168.8 331.5,166.6 331.8,164.8 332.0,163.2 332.2,162.0 332.5,160.9 332.8,160.0 333.0,159.3 333.2,158.6 333.5,158.0 333.8,157.5 334.0,157.1 334.2,156.7 334.5,156.4 334.8,156.0 335.0,155.8 335.2,155.5 335.5,155.3 335.8,155.1 336.0,155.0 336.2,154.8 336.5,154.7 336.8,154.6 337.0,154.5 337.2,154.4 337.5,154.3 337.8,154.2 338.0,154.2 338.2,154.1 338.5,154.1 338.8,154.1 339.0,154.0 339.2,154.0 339.5,154.0 339.8,154.0 340.0,154.0 340.2,154.0 340.5,154.0 340.8,154.0 341.0,154.0 341.2,154.0 341.5,154.1 341.8,154.1 342.0,154.1 342.2,154.1 342.5,154.2 342.8,154.2 343.0,154.2 343.2,154.3 343.5,154.3 343.8,154.4 344.0,154.4 344.2,154.5 344.5,154.5 344.8,154.6 345.0,154.6 345.2,154.7 345.5,154.7 345.8,154.8 346.0,154.8 346.2,154.9 346.5,154.9 346.8,155.0 347.0,155.0 347.2,155.1 347.5,155.1 347.8,155.2 348.0,155.3 348.2,155.3 348.5,155.4 348.8,155.4 349.0,155.5 349.2,155.5 349.5,155.6 349.8,155.7 350.0,155.7 350.2,155.8 350.5,155.9 350.8,156.0 351.0,156.1 351.2,156.2 351.5,156.3 351.8,156.3 352.0,156.4 352.2,156.5 352.5,156.6 352.8,156.7 353.0,156.8 353.2,156.9 353.5,157.0 353.8,157.1 354.0,157.2 354.2,157.2 354.5,157.3 354.8,157.4 355.0,157.5 355.2,157.6 355.5,157.7 355.8,157.8 356.0,157.9 356.2,158.0 356.5,158.1 356.8,158.2 357.0,158.3 357.2,158.3 357.5,158.4 357.8,158.5 358.0,158.6 358.2,158.7 358.5,158.8 358.8,158.9 359.0,159.0 359.2,159.1 359.5,159.2 359.8,159.3 360.0,159.4 360.2,159.4 360.5,159.5 360.8,159.6 361.0,159.7 361.2,159.7 361.5,159.8 361.8,159.9 362.0,159.9 362.2,160.0 362.5,160.1 362.8,160.2 363.0,160.2 363.2,160.3 363.5,160.4 363.8,160.5 364.0,160.5 364.2,160.6 364.5,160.7 364.8,160.8 365.0,160.8 365.2,160.9 365.5,161.0 365.8,161.0 366.0,161.1 366.2,161.2 366.5,161.3 366.8,161.3 367.0,161.4 367.2,161.5 367.5,161.6 367.8,161.6 368.0,161.7 368.2,161.8 368.5,161.9 368.8,161.9 369.0,162.0 369.2,162.1 369.5,162.2 369.8,162.2 370.0,162.3 370.2,162.4 370.5,162.4 370.8,162.5 371.0,162.5 371.2,162.6 371.5,162.7 371.8,162.7 372.0,162.8 372.2,162.9 372.5,162.9 372.8,163.0 373.0,163.0 373.2,163.1 373.5,163.2 373.8,163.2 374.0,163.3 374.2,163.3 374.5,163.4 374.8,163.5 375.0,163.5 375.2,163.6 375.5,163.7 375.8,163.7 376.0,163.8 376.2,163.8 376.5,163.9 376.8,164.0 377.0,164.0 377.2,164.1 377.5,164.2 377.8,164.2 378.0,164.3 378.2,164.3 378.5,164.4 378.8,164.5 379.0,164.5 379.2,164.6 379.5,164.6 379.8,164.7 380.0,164.8 380.2,164.8 380.5,164.9 380.8,165.0 381.0,165.0 381.2,165.1 381.5,165.1 381.8,165.2 382.0,165.3 382.2,165.3 382.5,165.4 382.8,165.5 383.0,165.5 383.2,165.6 383.5,165.6 383.8,165.7 384.0,165.8 384.2,165.8 384.5,165.9 384.8,166.0 385.0,166.0 385.2,166.1 385.5,166.1 385.8,166.2 386.0,166.3 386.2,166.3 386.5,166.4 386.8,166.4 387.0,166.5 387.2,166.6 387.5,166.6 387.8,166.7 388.0,166.8 388.2,166.8 388.5,166.9 388.8,166.9 389.0,167.0 389.2,167.1 389.5,167.1 389.8,167.2 390.0,167.3 390.2,167.3 390.5,167.4 390.8,167.5 391.0,167.6 391.2,167.7 391.5,167.8 391.8,167.8 392.0,167.9 392.2,168.0 392.5,168.1 392.8,168.2 393.0,168.3 393.2,168.3 393.5,168.4 393.8,168.5 394.0,168.6 394.2,168.7 394.5,168.8 394.8,168.8 395.0,168.9 395.2,169.0 395.5,169.1 395.8,169.2 396.0,169.3 396.2,169.3 396.5,169.4 396.8,169.5 397.0,169.6 397.2,169.7 397.5,169.7 397.8,169.8 398.0,169.9 398.2,170.0 398.5,170.1 398.8,170.2 399.0,170.2 399.2,170.3 399.5,170.4 399.8,170.5 400.0,170.6 400.2,170.7 400.5,170.7 400.8,170.8 401.0,170.9 401.2,171.0 401.5,171.1 401.8,171.2 402.0,171.2 402.2,171.3 402.5,171.4 402.8,171.5 403.0,171.6 403.2,171.7 403.5,171.7 403.8,171.8 404.0,171.9 404.2,172.0 404.5,172.1 404.8,172.2 405.0,172.2 405.2,172.3 405.5,172.4 405.8,172.5 406.0,172.6 406.2,172.6 406.5,172.7 406.8,172.8 407.0,172.9 407.2,172.9 407.5,173.0 407.8,173.1 408.0,173.2 408.2,173.3 408.5,173.3 408.8,173.4 409.0,173.5 409.2,173.6 409.5,173.6 409.8,173.7 410.0,173.8 410.2,173.9 410.5,173.9 410.8,174.0 411.0,174.1 411.2,174.2 411.5,174.3 411.8,174.3 412.0,174.4 412.2,174.5 412.5,174.6 412.8,174.6 413.0,174.7 413.2,174.8 413.5,174.9 413.8,175.0 414.0,175.0 414.2,175.1 414.5,175.2 414.8,175.3 415.0,175.3 415.2,175.4 415.5,175.5 415.8,175.6 416.0,175.7 416.2,175.7 416.5,175.8 416.8,175.9 417.0,176.0 417.2,176.0 417.5,176.1 417.8,176.2 418.0,176.3 418.2,176.4 418.5,176.4 418.8,176.5 419.0,176.6 419.2,176.7 419.5,176.7 419.8,176.8 420.0,176.9 420.2,177.0 420.5,177.1 420.8,177.1 421.0,177.2 421.2,177.3 421.5,177.4 421.8,177.4 422.0,177.5 422.2,177.6 422.5,177.7 422.8,177.7 423.0,177.8 423.2,177.9 423.5,178.0 423.8,178.1 424.0,178.1 424.2,178.2 424.5,178.3 424.8,178.4 425.0,178.4 425.2,178.5 425.5,178.6 425.8,178.6 426.0,178.7 426.2,178.8 426.5,178.9 426.8,178.9 427.0,179.0 427.2,179.1 427.5,179.1 427.8,179.2 428.0,179.3 428.2,179.3 428.5,179.4 428.8,179.5 429.0,179.5 429.2,179.6 429.5,179.7 429.8,179.7 430.0,179.8 430.2,179.9 430.5,179.9 430.8,180.0 431.0,180.1 431.2,180.1 431.5,180.2 431.8,180.3 432.0,180.3 432.2,180.4 432.5,180.5 432.8,180.5 433.0,180.6 433.2,180.7 433.5,180.7 433.8,180.8 434.0,180.9 434.2,180.9 434.5,181.0 434.8,181.1 435.0,181.1 435.2,181.2 435.5,181.3 435.8,181.3 436.0,181.4 436.2,181.5 436.5,181.5 436.8,181.6 437.0,181.7 437.2,181.7 437.5,181.8 437.8,181.9 438.0,182.0 438.2,182.0 438.5,182.1 438.8,182.2 439.0,182.2 439.2,182.3 439.5,182.4 439.8,182.4 440.0,182.5 440.2,182.6 440.5,182.6 440.8,182.7 441.0,182.8 441.2,182.8 441.5,182.9 441.8,183.0 442.0,183.0 442.2,183.1 442.5,183.2 442.8,183.2 443.0,183.3 443.2,183.4 443.5,183.4 443.8,183.5 444.0,183.6 444.2,183.6 444.5,183.7 444.8,183.8 445.0,183.8 445.2,183.9 445.5,184.0 445.8,184.0 446.0,184.1 446.2,184.2 446.5,184.2 446.8,184.3 447.0,184.4 447.2,184.4 447.5,184.5 447.8,184.6 448.0,184.6 448.2,184.7 448.5,184.8 448.8,184.8 449.0,184.9 449.2,185.0 449.5,185.0 449.8,185.1 450.0,185.1 450.2,185.2 450.5,185.3 450.8,185.3 451.0,185.4 451.2,185.5 451.5,185.5 451.8,185.6 452.0,185.7 452.2,185.7 452.5,185.8 452.8,185.9 453.0,186.0 453.2,186.0 453.5,186.1 453.8,186.2 454.0,186.2 454.2,186.3 454.5,186.4 454.8,186.4 455.0,186.5 455.2,186.6 455.5,186.6 455.8,186.7 456.0,186.8 456.2,186.8 456.5,186.9 456.8,187.0 457.0,187.0 457.2,187.1 457.5,187.2 457.8,187.2 458.0,187.3 458.2,187.4 458.5,187.4 458.8,187.5 459.0,187.6 459.2,187.6 459.5,187.7 459.8,187.8 460.0,187.8 460.2,187.9 460.5,188.0 460.8,188.0 461.0,188.1 461.2,188.2 461.5,188.2 461.8,188.3 462.0,188.4 462.2,188.5 462.5,188.5 462.8,188.6 463.0,188.7 463.2,188.7 463.5,188.8 463.8,188.9 464.0,188.9 464.2,189.0 464.5,189.1 464.8,189.1 465.0,189.2 465.2,189.3 465.5,189.3 465.8,189.4 466.0,189.4 466.2,189.5 466.5,189.6 466.8,189.6 467.0,189.7 467.2,189.7 467.5,189.8 467.8,189.9 468.0,189.9 468.2,190.0 468.5,190.0 468.8,190.1 469.0,190.2 469.2,190.2 469.5,190.3 469.8,190.4 470.0,190.4 470.2,190.5 470.5,190.5 470.8,190.6 471.0,190.7 471.2,190.7 471.5,190.8 471.8,190.9 472.0,190.9 472.2,191.0 472.5,191.1 472.8,191.1 473.0,191.2 473.2,191.3 473.5,191.4 473.8,191.4 474.0,191.5 474.2,191.6 474.5,191.6 474.8,191.7 475.0,191.8 475.2,191.9 475.5,192.0 475.8,192.0 476.0,192.1 476.2,192.2 476.5,192.3 476.8,192.4 477.0,192.5 477.2,192.6 477.5,192.7 477.8,192.8 478.0,192.9 478.2,193.0 478.5,193.1 478.8,193.3 479.0,193.4 479.2,193.5 479.5,193.7 479.8,193.8 480.0,194.0 480.2,194.1 480.5,194.3 480.8,194.5 481.0,194.7 481.2,195.0 481.5,195.2 481.8,195.5 482.0,195.8 482.2,196.1 482.5,196.5 482.8,196.9 483.0,197.4 483.2,197.9 483.5,198.6 483.8,199.3 484.0,200.2 484.2,201.2 484.5,202.4 484.8,203.8 485.0,205.6 485.2,207.8 485.5,210.5 485.8,213.9 486.0,218.1 486.2,223.3 486.5,229.6 486.8,237.0 487.0,244.7 487.2,251.5 487.5,255.4 487.8,255.0 488.0,250.5 488.2,243.5 488.5,235.9 488.8,228.8 489.0,222.8 489.2,217.9 489.5,213.9 489.8,210.8 490.0,208.4 490.2,206.4 490.5,204.8 490.8,203.5 491.0,202.4 491.2,201.6 491.5,200.8 491.8,200.2 492.0,199.7 492.2,199.3 492.5,198.9 492.8,198.6 493.0,198.4 493.2,198.2 493.5,198.0 493.8,197.8 494.0,197.7 494.2,197.5 494.5,197.4 494.8,197.3 495.0,197.2 495.2,197.1 495.5,197.0 495.8,197.0 496.0,196.9 496.2,196.9 496.5,196.8 496.8,196.8 497.0,196.8 497.2,196.7 497.5,196.7 497.8,196.7 498.0,196.7 498.2,196.7 498.5,196.7 498.8,196.7 499.0,196.7 499.2,196.7 499.5,196.7 499.8,196.7 500.0,196.7 500.2,196.7 500.5,196.7 500.8,196.7 501.0,196.7 501.2,196.7 501.5,196.7 501.8,196.7 502.0,196.7 502.2,196.8 502.5,196.8 502.8,196.8 503.0,196.8 503.2,196.8 503.5,196.9 503.8,196.9 504.0,196.9 504.2,196.9 504.5,197.0 504.8,197.0 505.0,197.1 505.2,197.2 505.5,197.2 505.8,197.3 506.0,197.3 506.2,197.4 506.5,197.4 506.8,197.5 507.0,197.5 507.2,197.6 507.5,197.6 507.8,197.7 508.0,197.8 508.2,197.8 508.5,197.9 508.8,197.9 509.0,198.0 509.2,198.0 509.5,198.1 509.8,198.2 510.0,198.2 510.2,198.3 510.5,198.3 510.8,198.4 511.0,198.4 511.2,198.5 511.5,198.6 511.8,198.6 512.0,198.7 512.2,198.7 512.5,198.8 512.8,198.9 513.0,198.9 513.2,199.0 513.5,199.0 513.8,199.1 514.0,199.2 514.2,199.2 514.5,199.3 514.8,199.3 515.0,199.4 515.2,199.5 515.5,199.5 515.8,199.6 516.0,199.6 516.2,199.7 516.5,199.8 516.8,199.8 517.0,199.9 517.2,199.9 517.5,200.0 517.8,200.1 518.0,200.1 518.2,200.2 518.5,200.2 518.8,200.3 519.0,200.4 519.2,200.4 519.5,200.5 519.8,200.5 520.0,200.6 520.2,200.7 520.5,200.7 520.8,200.8 521.0,200.8 521.2,200.8 521.5,200.9 521.8,200.9 522.0,201.0 522.2,201.0 522.5,201.1 522.8,201.1 523.0,201.2 523.2,201.2 523.5,201.3 523.8,201.3 524.0,201.4 524.2,201.4 524.5,201.5 524.8,201.5 525.0,201.6 525.2,201.6 525.5,201.7 525.8,201.7 526.0,201.8 526.2,201.8 526.5,201.9 526.8,201.9 527.0,202.0 527.2,202.0 527.5,202.1 527.8,202.1 528.0,202.2 528.2,202.2 528.5,202.3 528.8,202.3 529.0,202.4 529.2,202.4 529.5,202.5 529.8,202.5 530.0,202.6 530.2,202.6 530.5,202.7 530.8,202.7 531.0,202.8 531.2,202.8 531.5,202.9 531.8,202.9 532.0,203.0 532.2,203.0 532.5,203.1 532.8,203.1 533.0,203.2 533.2,203.2 533.5,203.3 533.8,203.3 534.0,203.4 534.2,203.4 534.5,203.5 534.8,203.5 535.0,203.6 535.2,203.6 535.5,203.7 535.8,203.7 536.0,203.7 536.2,203.8 536.5,203.8 536.8,203.9 537.0,203.9 537.2,204.0 537.5,204.0 537.8,204.1 538.0,204.1 538.2,204.2 538.5,204.2 538.8,204.3 539.0,204.3 539.2,204.4 539.5,204.4 539.8,204.5 540.0,204.5 540.2,204.6 540.5,204.6 540.8,204.6 541.0,204.7 541.2,204.7 541.5,204.7 541.8,204.8 542.0,204.8 542.2,204.8 542.5,204.9 542.8,204.9 543.0,204.9 543.2,205.0 543.5,205.0 543.8,205.0 544.0,205.1 544.2,205.1 544.5,205.1 544.8,205.2 545.0,205.2 545.2,205.2 545.5,205.3 545.8,205.3 546.0,205.3 546.2,205.4 546.5,205.4 546.8,205.4 547.0,205.5 547.2,205.5 547.5,205.5 547.8,205.6 548.0,205.6 548.2,205.6 548.5,205.7 548.8,205.7 549.0,205.7 549.2,205.8 549.5,205.8 549.8,205.8 550.0,205.9 550.2,205.9 550.5,205.9 550.8,206.0 551.0,206.0 551.2,206.0 551.5,206.1 551.8,206.1 552.0,206.1 552.2,206.2 552.5,206.2 552.8,206.2 553.0,206.3 553.2,206.3 553.5,206.3 553.8,206.4 554.0,206.4 554.2,206.4 554.5,206.5 554.8,206.5 555.0,206.5 555.2,206.6 555.5,206.6 555.8,206.7 556.0,206.7 556.2,206.8 556.5,206.8 556.8,206.9 557.0,206.9 557.2,207.0 557.5,207.0 557.8,207.1 558.0,207.1 558.2,207.2 558.5,207.2 558.8,207.3 559.0,207.3 559.2,207.4 559.5,207.4 559.8,207.5 560.0,207.5 560.2,207.6 560.5,207.6 560.8,207.7 561.0,207.7 561.2,207.8 561.5,207.8 561.8,207.9 562.0,207.9 562.2,208.0 562.5,208.0 562.8,208.1 563.0,208.1 563.2,208.2 563.5,208.2 563.8,208.3 564.0,208.3 564.2,208.4 564.5,208.4 564.8,208.5 565.0,208.5 565.2,208.6 565.5,208.6 565.8,208.7 566.0,208.7 566.2,208.8 566.5,208.8 566.8,208.9 567.0,208.9 567.2,209.0 567.5,209.0 567.8,209.1 568.0,209.1 568.2,209.2 568.5,209.2 568.8,209.3 569.0,209.3 569.2,209.4 569.5,209.4 569.8,209.5 570.0,209.5 570.2,209.6 570.5,209.6 570.8,209.7 571.0,209.7 571.2,209.8 571.5,209.8 571.8,209.9 572.0,209.9 572.2,210.0 572.5,210.0 572.8,210.1 573.0,210.1 573.2,210.2 573.5,210.2 573.8,210.3 574.0,210.3 574.2,210.4 574.5,210.4 574.8,210.5 575.0,210.5 575.2,210.6 575.5,210.6 575.8,210.7 576.0,210.7 576.2,210.8 576.5,210.8 576.8,210.9 577.0,210.9 577.2,211.0 577.5,211.0 577.8,211.1 578.0,211.1 578.2,211.2 578.5,211.2 578.8,211.3 579.0,211.3 579.2,211.4 579.5,211.4 579.8,211.5 580.0,211.5 580.2,211.6 580.5,211.6 580.8,211.7 581.0,211.7 581.2,211.8 581.5,211.8 581.8,211.9 582.0,211.9 582.2,212.0 582.5,212.0 582.8,212.1 583.0,212.1 583.2,212.2 583.5,212.2 583.8,212.3 584.0,212.3 584.2,212.4 584.5,212.4 584.8,212.5 585.0,212.5 585.2,212.6 585.5,212.6 585.8,212.7 586.0,212.7 586.2,212.8 586.5,212.8 586.8,212.9 587.0,212.9 587.2,213.0 587.5,213.0 587.8,213.1 588.0,213.1 588.2,213.2 588.5,213.2 588.8,213.3 589.0,213.3 589.2,213.4 589.5,213.4 589.8,213.5 590.0,213.5 590.2,213.6 590.5,213.6 590.8,213.7 591.0,213.7 591.2,213.8 591.5,213.8 591.8,213.9 592.0,213.9 592.2,214.0 592.5,214.0 592.8,214.1 593.0,214.1 593.2,214.2 593.5,214.2 593.8,214.3 594.0,214.3 594.2,214.4 594.5,214.4 594.8,214.5 595.0,214.5 595.2,214.6 595.5,214.6 595.8,214.6 596.0,214.7 596.2,214.7 596.5,214.8 596.8,214.8 597.0,214.9 597.2,214.9 597.5,214.9 597.8,215.0 598.0,215.0 598.2,215.1 598.5,215.1 598.8,215.2 599.0,215.2 599.2,215.3 599.5,215.3 599.8,215.3 600.0,215.4 600.2,215.4 600.5,215.5 600.8,215.5 601.0,215.6 601.2,215.6 601.5,215.6 601.8,215.7 602.0,215.7 602.2,215.8 602.5,215.8 602.8,215.9 603.0,215.9 603.2,216.0 603.5,216.0 603.8,216.0 604.0,216.1 604.2,216.1 604.5,216.2 604.8,216.2 605.0,216.3 605.2,216.3 605.5,216.3 605.8,216.4 606.0,216.4 606.2,216.5 606.5,216.5 606.8,216.6 607.0,216.6 607.2,216.7 607.5,216.7 607.8,216.7 608.0,216.8 608.2,216.8 608.5,216.9 608.8,216.9 609.0,217.0 609.2,217.0 609.5,217.0 609.8,217.1 610.0,217.1 610.2,217.2 610.5,217.2 610.8,217.3 611.0,217.3 611.2,217.4 611.5,217.4 611.8,217.4 612.0,217.5 612.2,217.5 612.5,217.6 612.8,217.6 613.0,217.7 613.2,217.7 613.5,217.7 613.8,217.8 614.0,217.8 614.2,217.9 614.5,217.9 614.8,218.0 615.0,218.0 615.2,218.1 615.5,218.1 615.8,218.1 616.0,218.2 616.2,218.2 616.5,218.3 616.8,218.3 617.0,218.3 617.2,218.4 617.5,218.4 617.8,218.5 618.0,218.5 618.2,218.6 618.5,218.6 618.8,218.6 619.0,218.7 619.2,218.7 619.5,218.8 619.8,218.8 620.0,218.8 620.2,218.9 620.5,218.9 620.8,219.0 621.0,219.0 621.2,219.1 621.5,219.1 621.8,219.1 622.0,219.2 622.2,219.2 622.5,219.3 622.8,219.3 623.0,219.3 623.2,219.4 623.5,219.4 623.8,219.5 624.0,219.5 624.2,219.6 624.5,219.6 624.8,219.6 625.0,219.7 625.2,219.7 625.5,219.8 625.8,219.8 626.0,219.8 626.2,219.9 626.5,219.9 626.8,220.0 627.0,220.0 627.2,220.0 627.5,220.1 627.8,220.1 628.0,220.2 628.2,220.2 628.5,220.3 628.8,220.3 629.0,220.3 629.2,220.4 629.5,220.4 629.8,220.5 630.0,220.5 630.2,220.5 630.5,220.6 630.8,220.6 631.0,220.7 631.2,220.7 631.5,220.7 631.8,220.8 632.0,220.8 632.2,220.8 632.5,220.9 632.8,220.9 633.0,221.0 633.2,221.0 633.5,221.0 633.8,221.1 634.0,221.1 634.2,221.1 634.5,221.2 634.8,221.2 635.0,221.3 635.2,221.3 635.5,221.3 635.8,221.4 636.0,221.4 636.2,221.4 636.5,221.5 636.8,221.5 637.0,221.6 637.2,221.6 637.5,221.6 637.8,221.7 638.0,221.7 638.2,221.7 638.5,221.8 638.8,221.8 639.0,221.9 639.2,221.9 639.5,221.9 639.8,222.0 640.0,222.0 640.2,222.0 640.5,222.1 640.8,222.1 641.0,222.2 641.2,222.2 641.5,222.2 641.8,222.3 642.0,222.3 642.2,222.3 642.5,222.4 642.8,222.4 643.0,222.5 643.2,222.5 643.5,222.5 643.8,222.6 644.0,222.6 644.2,222.6 644.5,222.7 644.8,222.7 645.0,222.8 645.2,222.8 645.5,222.8 645.8,222.9 646.0,222.9 646.2,222.9 646.5,223.0 646.8,223.0 647.0,223.1 647.2,223.1 647.5,223.1 647.8,223.2 648.0,223.2 648.2,223.2 648.5,223.3 648.8,223.3 649.0,223.4 649.2,223.4 649.5,223.4 649.8,223.5 650.0,223.5 650.2,223.5 650.5,223.6 650.8,223.6 651.0,223.6 651.2,223.7 651.5,223.7 651.8,223.7 652.0,223.8 652.2,223.8 652.5,223.8 652.8,223.8 653.0,223.9 653.2,223.9 653.5,223.9 653.8,224.0 654.0,224.0 654.2,224.0 654.5,224.1 654.8,224.1 655.0,224.1 655.2,224.2 655.5,224.2 655.8,224.2 656.0,224.3 656.2,224.3 656.5,224.3 656.8,224.3 657.0,224.4 657.2,224.4 657.5,224.4 657.8,224.5 658.0,224.5 658.2,224.5 658.5,224.6 658.8,224.6 659.0,224.6 659.2,224.7 659.5,224.7 659.8,224.7 660.0,224.8 660.2,224.8 660.5,224.8 660.8,224.8 661.0,224.9 661.2,224.9 661.5,224.9 661.8,225.0 662.0,225.0 662.2,225.0 662.5,225.1 662.8,225.1 663.0,225.1 663.2,225.2 663.5,225.2 663.8,225.2 664.0,225.3 664.2,225.3 664.5,225.3 664.8,225.3 665.0,225.4 665.2,225.4 665.5,225.4 665.8,225.5 666.0,225.5 666.2,225.5 666.5,225.6 666.8,225.6 667.0,225.6 667.2,225.7 667.5,225.7 667.8,225.7 668.0,225.8 668.2,225.8 668.5,225.8 668.8,225.8 669.0,225.9 669.2,225.9 669.5,225.9 669.8,226.0 670.0,226.0 670.2,226.0 670.5,226.1 670.8,226.1 671.0,226.1 671.2,226.1 671.5,226.2 671.8,226.2 672.0,226.2 672.2,226.3 672.5,226.3 672.8,226.3 673.0,226.4 673.2,226.4 673.5,226.4 673.8,226.4 674.0,226.5 674.2,226.5 674.5,226.5 674.8,226.6 675.0,226.6 675.2,226.6 675.5,226.6 675.8,226.7 676.0,226.7 676.2,226.7 676.5,226.8 676.8,226.8 677.0,226.8 677.2,226.8 677.5,226.9 677.8,226.9 678.0,226.9 678.2,227.0 678.5,227.0 678.8,227.0 679.0,227.0 679.2,227.1 679.5,227.1 679.8,227.1 680.0,227.2 680.2,227.2 680.5,227.2 680.8,227.2 681.0,227.3 681.2,227.3 681.5,227.3 681.8,227.4 682.0,227.4 682.2,227.4 682.5,227.4 682.8,227.5 683.0,227.5 683.2,227.5 683.5,227.6 683.8,227.6 684.0,227.6 684.2,227.6 684.5,227.7 684.8,227.7 685.0,227.7 685.2,227.8 685.5,227.8 685.8,227.8 686.0,227.8 686.2,227.9 686.5,227.9 686.8,227.9 687.0,228.0 687.2,228.0 687.5,228.0 687.8,228.0 688.0,228.1 688.2,228.1 688.5,228.1 688.8,228.2 689.0,228.2 689.2,228.2 689.5,228.2 689.8,228.3 690.0,228.3 690.2,228.3 690.5,228.3 690.8,228.3 691.0,228.4 691.2,228.4 691.5,228.4 691.8,228.4 692.0,228.4 692.2,228.4 692.5,228.5 692.8,228.5 693.0,228.5 693.2,228.5 693.5,228.5 693.8,228.5 694.0,228.5 694.2,228.6 694.5,228.6 694.8,228.6 695.0,228.6 695.2,228.6 695.5,228.6 695.8,228.6 696.0,228.7 696.2,228.7 696.5,228.7 696.8,228.7 697.0,228.7 697.2,228.7 697.5,228.8 697.8,228.8 698.0,228.8 698.2,228.8 698.5,228.8 698.8,228.8 699.0,228.8 699.2,228.9 699.5,228.9 699.8,228.9 700.0,228.9 700.2,228.9 700.5,228.9 700.8,228.9 701.0,229.0 701.2,229.0 701.5,229.0 701.8,229.0 702.0,229.0 702.2,229.0 702.5,229.1 702.8,229.1 703.0,229.1 703.2,229.1 703.5,229.1 703.8,229.1 704.0,229.1 704.2,229.2 704.5,229.2 704.8,229.2 705.0,229.2 705.2,229.2 705.5,229.3 705.8,229.3 706.0,229.3 706.2,229.4 706.5,229.4 706.8,229.4 707.0,229.5 707.2,229.5 707.5,229.6 707.8,229.6 708.0,229.6 708.2,229.7 708.5,229.7 708.8,229.7 709.0,229.8 709.2,229.8 709.5,229.8 709.8,229.9 710.0,229.9 710.2,229.9 710.5,230.0 710.8,230.0 711.0,230.0 711.2,230.1 711.5,230.1 711.8,230.1 712.0,230.2 712.2,230.2 712.5,230.3 712.8,230.3 713.0,230.3 713.2,230.4 713.5,230.4 713.8,230.4 714.0,230.5 714.2,230.5 714.5,230.5 714.8,230.6 715.0,230.6 715.2,230.6 715.5,230.7 715.8,230.7 716.0,230.7 716.2,230.8 716.5,230.8 716.8,230.8 717.0,230.9 717.2,230.9 717.5,231.0 717.8,231.0 718.0,231.0 718.2,231.1 718.5,231.1 718.8,231.1 719.0,231.2 719.2,231.2 719.5,231.2 719.8,231.3 720.0,231.3 720.2,231.3 720.5,231.4 720.8,231.4 721.0,231.4 721.2,231.5 721.5,231.5 721.8,231.5 722.0,231.6 722.2,231.6 722.5,231.7 722.8,231.7 723.0,231.7 723.2,231.8 723.5,231.8 723.8,231.8 724.0,231.9 724.2,231.9 724.5,231.9 724.8,232.0 725.0,232.0 725.2,232.0 725.5,232.1 725.8,232.1 726.0,232.1 726.2,232.1 726.5,232.2 726.8,232.2 727.0,232.2 727.2,232.2 727.5,232.3 727.8,232.3 728.0,232.3 728.2,232.3 728.5,232.4 728.8,232.4 729.0,232.4 729.2,232.4 729.5,232.5 729.8,232.5 730.0,232.5 730.2,232.5 730.5,232.6 730.8,232.6 731.0,232.6 731.2,232.6 731.5,232.7 731.8,232.7 732.0,232.7 732.2,232.7 732.5,232.8 732.8,232.8 733.0,232.8 733.2,232.8 733.5,232.9 733.8,232.9 734.0,232.9 734.2,232.9 734.5,233.0 734.8,233.0 735.0,233.0 735.2,233.0 735.5,233.1 735.8,233.1 736.0,233.1 736.2,233.1 736.5,233.2 736.8,233.2 737.0,233.2 737.2,233.2 737.5,233.3 737.8,233.3 738.0,233.3 738.2,233.3 738.5,233.4 738.8,233.4 739.0,233.4 739.2,233.4 739.5,233.5 739.8,233.5 740.0,233.5 740.2,233.5 740.5,233.6 740.8,233.6 741.0,233.6 741.2,233.6 741.5,233.7 741.8,233.7 742.0,233.7 742.2,233.7 742.5,233.8 742.8,233.8 743.0,233.8 743.2,233.8 743.5,233.9 743.8,233.9 744.0,233.9 744.2,233.9 744.5,234.0 744.8,234.0 745.0,234.0 745.2,234.0 745.5,234.0 745.8,234.1 746.0,234.1 746.2,234.1 746.5,234.1 746.8,234.1 747.0,234.1 747.2,234.1 747.5,234.2 747.8,234.2 748.0,234.2 748.2,234.2 748.5,234.2 748.8,234.2 749.0,234.3 749.2,234.3 749.5,234.3 749.8,234.3 750.0,234.3 750.2,234.3 750.5,234.3 750.8,234.4 751.0,234.4 751.2,234.4 751.5,234.4 751.8,234.4 752.0,234.4 752.2,234.5 752.5,234.5 752.8,234.5 753.0,234.5 753.2,234.5 753.5,234.5 753.8,234.5 754.0,234.6 754.2,234.6 754.5,234.6 754.8,234.6 755.0,234.6 755.2,234.6 755.5,234.7 755.8,234.7 756.0,234.7 756.2,234.7 756.5,234.7 756.8,234.7 757.0,234.8 757.2,234.8 757.5,234.8 757.8,234.8 758.0,234.8 758.2,234.8 758.5,234.8 758.8,234.9 759.0,234.9 759.2,234.9 759.5,234.9 759.8,234.9 760.0,234.9 760.2,235.0 760.5,235.0 760.8,235.0 761.0,235.0 761.2,235.0 761.5,235.0 761.8,235.1 762.0,235.1 762.2,235.1 762.5,235.1 762.8,235.2 763.0,235.2 763.2,235.2 763.5,235.2 763.8,235.2 764.0,235.3 764.2,235.3 764.5,235.3 764.8,235.3 765.0,235.4 765.2,235.4 765.5,235.4 765.8,235.4 766.0,235.4 766.2,235.5 766.5,235.5 766.8,235.5 767.0,235.5 767.2,235.6 767.5,235.6 767.8,235.6 768.0,235.6 768.2,235.6 768.5,235.7 768.8,235.7 769.0,235.7 769.2,235.7 769.5,235.8 769.8,235.8 770.0,235.8 770.2,235.8 770.5,235.8 770.8,235.9 771.0,235.9 771.2,235.9 771.5,235.9 771.8,236.0 772.0,236.0 772.2,236.0 772.5,236.0 772.8,236.0 773.0,236.1 773.2,236.1 773.5,236.1 773.8,236.1 774.0,236.2 774.2,236.2 774.5,236.2 774.8,236.2 775.0,236.2 775.2,236.3 775.5,236.3 775.8,236.3 776.0,236.3 776.2,236.4 776.5,236.4 776.8,236.4 777.0,236.4 777.2,236.4 777.5,236.5 777.8,236.5 778.0,236.5 778.2,236.5 778.5,236.6 778.8,236.6 779.0,236.6 779.2,236.6 779.5,236.6 779.8,236.7 780.0,236.7 780.2,236.7 780.5,236.7 780.8,236.7 781.0,236.8 781.2,236.8 781.5,236.8 781.8,236.8 782.0,236.9 782.2,236.9 782.5,236.9 782.8,236.9 783.0,236.9 783.2,237.0 783.5,237.0 783.8,237.0 784.0,237.0 784.2,237.1 784.5,237.1 784.8,237.1 785.0,237.1 785.2,237.1 785.5,237.2 785.8,237.2 786.0,237.2 786.2,237.2 786.5,237.3 786.8,237.3 787.0,237.3 787.2,237.3 787.5,237.4 787.8,237.4 788.0,237.4 788.2,237.4 788.5,237.5 788.8,237.5 789.0,237.5 789.2,237.6 789.5,237.6 789.8,237.6 790.0,237.6 790.2,237.7 790.5,237.7 790.8,237.7 791.0,237.8 791.2,237.8 791.5,237.8 791.8,237.8 792.0,237.9 792.2,237.9 792.5,237.9 792.8,238.0 793.0,238.0 793.2,238.0 793.5,238.0 793.8,238.1 794.0,238.1 794.2,238.1 794.5,238.2 794.8,238.2 795.0,238.2 795.2,238.2 795.5,238.3 795.8,238.3 796.0,238.3 796.2,238.4 796.5,238.4 796.8,238.4 797.0,238.4 797.2,238.5 797.5,238.5 797.8,238.5 798.0,238.6 798.2,238.6 798.5,238.6 798.8,238.6 799.0,238.7 799.2,238.7 799.5,238.7 799.8,238.8 800.0,238.8 800.2,238.8 800.5,238.8 800.8,238.9 801.0,238.9 801.2,238.9 801.5,239.0 801.8,239.0 802.0,239.0 802.2,239.0 802.5,239.1 802.8,239.1 803.0,239.1 803.2,239.2 803.5,239.2 803.8,239.2 804.0,239.2 804.2,239.3 804.5,239.3 804.8,239.3 805.0,239.4 805.2,239.4 805.5,239.4 805.8,239.4 806.0,239.5 806.2,239.5 806.5,239.5 806.8,239.6 807.0,239.6 807.2,239.6 807.5,239.6 807.8,239.7 808.0,239.7 808.2,239.7 808.5,239.8 808.8,239.8 809.0,239.8 809.2,239.8 809.5,239.9 809.8,239.9 810.0,239.9 810.2,240.0 810.5,240.0 810.8,240.0 811.0,240.0 811.2,240.1 811.5,240.1 811.8,240.1 812.0,240.2 812.2,240.2 812.5,240.2 812.8,240.2 813.0,240.3 813.2,240.3 813.5,240.3 813.8,240.4 814.0,240.4 814.2,240.4 814.5,240.4 814.8,240.5 815.0,240.5 815.2,240.5 815.5,240.5 815.8,240.5 816.0,240.6 816.2,240.6 816.5,240.6 816.8,240.6 817.0,240.6 817.2,240.6 817.5,240.6 817.8,240.6 818.0,240.7 818.2,240.7 818.5,240.7 818.8,240.7 819.0,240.7 819.2,240.7 819.5,240.7 819.8,240.7 820.0,240.8 820.2,240.8 820.5,240.8 820.8,240.8 821.0,240.8 821.2,240.8 821.5,240.8 821.8,240.8 822.0,240.9 822.2,240.9 822.5,240.9 822.8,240.9 823.0,240.9 823.2,240.9 823.5,240.9 823.8,240.9 824.0,241.0 824.2,241.0 824.5,241.0 824.8,241.0 825.0,241.0 825.2,241.0 825.5,241.0 825.8,241.0 826.0,241.1 826.2,241.1 826.5,241.1 826.8,241.1 827.0,241.1 827.2,241.1 827.5,241.1 827.8,241.1 828.0,241.2 828.2,241.2 828.5,241.2 828.8,241.2 829.0,241.2 829.2,241.2 829.5,241.2 829.8,241.2 830.0,241.3 830.2,241.3 830.5,241.3 830.8,241.3 831.0,241.3 831.2,241.3 831.5,241.3 831.8,241.3 832.0,241.4 832.2,241.4 832.5,241.4 832.8,241.4 833.0,241.4 833.2,241.4 833.5,241.4 833.8,241.4 834.0,241.5 834.2,241.5 834.5,241.5 834.8,241.5 835.0,241.5 835.2,241.5 835.5,241.6 835.8,241.6 836.0,241.6 836.2,241.6 836.5,241.7 836.8,241.7 837.0,241.7 837.2,241.8 837.5,241.8 837.8,241.8 838.0,241.8 838.2,241.9 838.5,241.9 838.8,241.9 839.0,242.0 839.2,242.0 839.5,242.0 839.8,242.0 840.0,242.1 840.2,242.1 840.5,242.1 840.8,242.2 841.0,242.2 841.2,242.2 841.5,242.2 841.8,242.3 842.0,242.3 842.2,242.3 842.5,242.4 842.8,242.4 843.0,242.4 843.2,242.4 843.5,242.5 843.8,242.5 844.0,242.5 844.2,242.6 844.5,242.6 844.8,242.6 845.0,242.6 845.2,242.7 845.5,242.7 845.8,242.7 846.0,242.7 846.2,242.8 846.5,242.8 846.8,242.8 847.0,242.9 847.2,242.9 847.5,242.9 847.8,242.9 848.0,243.0 848.2,243.0 848.5,243.0 848.8,243.1 849.0,243.1 849.2,243.1 849.5,243.1 849.8,243.2 850.0,243.2 850.2,243.2 850.5,243.2 850.8,243.3 851.0,243.3 851.2,243.3 851.5,243.3 851.8,243.3 852.0,243.3 852.2,243.4 852.5,243.4 852.8,243.4 853.0,243.4 853.2,243.4 853.5,243.4 853.8,243.5 854.0,243.5 854.2,243.5 854.5,243.5 854.8,243.5 855.0,243.6 855.2,243.6 855.5,243.6 855.8,243.6 856.0,243.6 856.2,243.6 856.5,243.7 856.8,243.7 857.0,243.7 857.2,243.7 857.5,243.7 857.8,243.7 858.0,243.8 858.2,243.8 858.5,243.8 858.8,243.8 859.0,243.8 859.2,243.8 859.5,243.9 859.8,243.9 860.0,243.9 860.2,243.9 860.5,243.9 860.8,244.0 861.0,244.0 861.2,244.0 861.5,244.0 861.8,244.0 862.0,244.0 862.2,244.1 862.5,244.1 862.8,244.1 863.0,244.1 863.2,244.1 863.5,244.1 863.8,244.2 864.0,244.2 864.2,244.2 864.5,244.2 864.8,244.2 865.0,244.3 865.2,244.3 865.5,244.3 865.8,244.3 866.0,244.3 866.2,244.3 866.5,244.4 866.8,244.4 867.0,244.4 867.2,244.4 867.5,244.4 867.8,244.4 868.0,244.5 868.2,244.5 868.5,244.5 868.8,244.5 869.0,244.5 869.2,244.5 869.5,244.6 869.8,244.6 870.0,244.6 870.2,244.6 870.5,244.6 870.8,244.7 871.0,244.7 871.2,244.7 871.5,244.7 871.8,244.8 872.0,244.8 872.2,244.8 872.5,244.8 872.8,244.9 873.0,244.9 873.2,244.9 873.5,244.9 873.8,245.0 874.0,245.0 874.2,245.0 874.5,245.0 874.8,245.1 875.0,245.1 875.2,245.1 875.5,245.1 875.8,245.1 876.0,245.2 876.2,245.2 876.5,245.2 876.8,245.2 877.0,245.3 877.2,245.3 877.5,245.3 877.8,245.3 878.0,245.4 878.2,245.4 878.5,245.4 878.8,245.4 879.0,245.5 879.2,245.5 879.5,245.5 879.8,245.5 880.0,245.6 880.2,245.6 880.5,245.6 880.8,245.6 881.0,245.6 881.2,245.7 881.5,245.7 881.8,245.7 882.0,245.7 882.2,245.8 882.5,245.8 882.8,245.8 883.0,245.8 883.2,245.9 883.5,245.9 883.8,245.9 884.0,245.9 884.2,246.0 884.5,246.0 884.8,246.0 885.0,246.0 885.2,246.1 885.5,246.1 885.8,246.1 886.0,246.1 886.2,246.1 886.5,246.2 886.8,246.2 887.0,246.2 887.2,246.2 887.5,246.3 887.8,246.3 888.0,246.3 888.2,246.3 888.5,246.4 888.8,246.4 889.0,246.4 889.2,246.4 889.5,246.5 889.8,246.5 890.0,246.5 890.2,246.5 890.5,246.6 890.8,246.6 891.0,246.6 891.2,246.6 891.5,246.6 891.8,246.7 892.0,246.7 892.2,246.7 892.5,246.7 892.8,246.8 893.0,246.8 893.2,246.8 893.5,246.8 893.8,246.9 894.0,246.9 894.2,246.9 894.5,246.9 894.8,247.0 895.0,247.0 895.2,247.0 895.5,247.0 895.8,247.0 896.0,247.1 896.2,247.1 896.5,247.1 896.8,247.1 897.0,247.2 897.2,247.2 897.5,247.2 897.8,247.2 898.0,247.3 898.2,247.3 898.5,247.3 898.8,247.3 899.0,247.4 899.2,247.4 899.5,247.4 899.8,247.4 900.0,247.5 900.2,247.5 900.5,247.5 900.8,247.5 901.0,247.5 901.2,247.6 901.5,247.6 901.8,247.6 902.0,247.6 902.2,247.7 902.5,247.7 902.8,247.7 903.0,247.7 903.2,247.8 903.5,247.8 903.8,247.8 904.0,247.8 904.2,247.9 904.5,247.9 904.8,247.9 905.0,247.9 905.2,248.0 905.5,248.0 905.8,248.0 906.0,248.0 906.2,248.0 906.5,248.1 906.8,248.1 907.0,248.1 907.2,248.1 907.5,248.2 907.8,248.2 908.0,248.2 908.2,248.2 908.5,248.3 908.8,248.3 909.0,248.3 909.2,248.3 909.5,248.4 909.8,248.4 910.0,248.4 910.2,248.4 910.5,248.4 910.8,248.4 911.0,248.5 911.2,248.5 911.5,248.5 911.8,248.5 912.0,248.5 912.2,248.5 912.5,248.5 912.8,248.5 913.0,248.6 913.2,248.6 913.5,248.6 913.8,248.6 914.0,248.6 914.2,248.6 914.5,248.6 914.8,248.7 915.0,248.7 915.2,248.7 915.5,248.7 915.8,248.7 916.0,248.7 916.2,248.7 916.5,248.7 916.8,248.8 917.0,248.8 917.2,248.8 917.5,248.8 917.8,248.8 918.0,248.8 918.2,248.8 918.5,248.9 918.8,248.9 919.0,248.9 919.2,248.9 919.5,248.9 919.8,248.9 920.0,248.9 920.2,249.0 920.5,249.0 920.8,249.0 921.0,249.0 921.2,249.0 921.5,249.0 921.8,249.0 922.0,249.0 922.2,249.1 922.5,249.1 922.8,249.1 923.0,249.1 923.2,249.1 923.5,249.1 923.8,249.1 924.0,249.2 924.2,249.2 924.5,249.2 924.8,249.2 925.0,249.2 925.2,249.2 925.5,249.2 925.8,249.3 926.0,249.3 926.2,249.3 926.5,249.3 926.8,249.3 927.0,249.3 927.2,249.4 927.5,249.4 927.8,249.4 928.0,249.4 928.2,249.4 928.5,249.4 928.8,249.5 929.0,249.5 929.2,249.5 929.5,249.5 929.8,249.5 930.0,249.6 930.2,249.6 930.5,249.6 930.8,249.6 931.0,249.6 931.2,249.6 931.5,249.7 931.8,249.7 932.0,249.7 932.2,249.7 932.5,249.7 932.8,249.7 933.0,249.8 933.2,249.8 933.5,249.8 933.8,249.8 934.0,249.8 934.2,249.9 934.5,249.9 934.8,249.9 935.0,249.9 935.2,249.9 935.5,249.9 935.8,250.0 936.0,250.0 936.2,250.0 936.5,250.0 936.8,250.0 937.0,250.0 937.2,250.1 937.5,250.1 937.8,250.1 938.0,250.1 938.2,250.1 938.5,250.1 938.8,250.2 939.0,250.2 939.2,250.2 939.5,250.2 939.8,250.2 940.0,250.3 940.2,250.3 940.5,250.3 940.8,250.3 941.0,250.3 941.2,250.3 941.5,250.4 941.8,250.4 942.0,250.4 942.2,250.4 942.5,250.4 942.8,250.4 943.0,250.5 943.2,250.5 943.5,250.5 943.8,250.5 944.0,250.5 944.2,250.6 944.5,250.6 944.8,250.6 945.0,250.6 945.2,250.6 945.5,250.6 945.8,250.7 946.0,250.7 946.2,250.7 946.5,250.7 946.8,250.7 947.0,250.7 947.2,250.8 947.5,250.8 947.8,250.8 948.0,250.8 948.2,250.8 948.5,250.9 948.8,250.9 949.0,250.9 949.2,250.9 949.5,250.9 949.8,250.9 950.0,251.0 950.2,251.0 950.5,251.0 950.8,251.0 951.0,251.0 951.2,251.0 951.5,251.1 951.8,251.1 952.0,251.1 952.2,251.1 952.5,251.1 952.8,251.1 953.0,251.2 953.2,251.2 953.5,251.2 953.8,251.2 954.0,251.2 954.2,251.3 954.5,251.3 954.8,251.3 955.0,251.3 955.2,251.3 955.5,251.3 955.8,251.4 956.0,251.4 956.2,251.4 956.5,251.4 956.8,251.4 957.0,251.4 957.2,251.5 957.5,251.5 957.8,251.5 958.0,251.5 958.2,251.5 958.5,251.6 958.8,251.6 959.0,251.6 959.2,251.6 959.5,251.6 959.8,251.6 960.0,251.7 960.2,251.7 960.5,251.7 960.8,251.7 961.0,251.7 961.2,251.7 961.5,251.8 961.8,251.8 962.0,251.8 962.2,251.8 962.5,251.8 962.8,251.9 963.0,251.9 963.2,251.9 963.5,251.9 963.8,251.9 964.0,251.9 964.2,252.0 964.5,252.0 964.8,252.0 965.0,252.0 965.2,252.0 965.5,252.0 965.8,252.1 966.0,252.1 966.2,252.1 966.5,252.1 966.8,252.1 967.0,252.1 967.2,252.2 967.5,252.2 967.8,252.2 968.0,252.2 968.2,252.2 968.5,252.2 968.8,252.3 969.0,252.3 969.2,252.3 969.5,252.3 969.8,252.3 970.0,252.3 970.2,252.4 970.5,252.4 970.8,252.4 971.0,252.4 971.2,252.4 971.5,252.4 971.8,252.5 972.0,252.5 972.2,252.5 972.5,252.5 972.8,252.5 973.0,252.5 973.2,252.6 973.5,252.6 973.8,252.6 974.0,252.6 974.2,252.6 974.5,252.6 974.8,252.6 975.0,252.7 975.2,252.7 975.5,252.7 975.8,252.7 976.0,252.7 976.2,252.7 976.5,252.8 976.8,252.8 977.0,252.8 977.2,252.8 977.5,252.8 977.8,252.8 978.0,252.9 978.2,252.9 978.5,252.9 978.8,252.9 979.0,252.9 979.2,252.9 979.5,253.0 979.8,253.0 980.0,253.0 980.2,253.0 980.5,253.0 980.8,253.0 981.0,253.1 981.2,253.1 981.5,253.1 981.8,253.1 982.0,253.1 982.2,253.1 982.5,253.2 982.8,253.2 983.0,253.2 983.2,253.2 983.5,253.2 983.8,253.2 984.0,253.3 984.2,253.3 984.5,253.3 984.8,253.3 985.0,253.3 985.2,253.3 985.5,253.4 985.8,253.4 986.0,253.4 986.2,253.4 986.5,253.4 986.8,253.4 987.0,253.5 987.2,253.5 987.5,253.5 987.8,253.5 988.0,253.5 988.2,253.5 988.5,253.6 988.8,253.6 989.0,253.6 989.2,253.6 989.5,253.6 989.8,253.6 990.0,253.7 990.2,253.7 990.5,253.7 990.8,253.7 991.0,253.7 991.2,253.8 991.5,253.8 991.8,253.8 992.0,253.8 992.2,253.8 992.5,253.9 992.8,253.9 993.0,253.9 993.2,253.9 993.5,254.0 993.8,254.0 994.0,254.0 994.2,254.1 994.5,254.1 994.8,254.1 995.0,254.2 995.2,254.2 995.5,254.3 995.8,254.3 996.0,254.4 996.2,254.4 996.5,254.5 996.8,254.6 997.0,254.6 997.2,254.7 997.5,254.8 997.8,254.9 998.0,254.9 998.2,255.0 998.5,255.1 998.8,255.2 999.0,255.3 999.2,255.4 999.5,255.5 999.8,255.6 1000.0,255.8 1000.2,255.9 1000.5,256.0 1000.8,256.2 1001.0,256.3 1001.2,256.4 1001.5,256.6 1001.8,256.8 1002.0,256.9 1002.2,257.1 1002.5,257.3 1002.8,257.5 1003.0,257.8 1003.2,258.0 1003.5,258.3 1003.8,258.6 1004.0,259.0 1004.2,259.5 1004.5,260.1 1004.8,260.9 1005.0,261.9 1005.2,263.2 1005.5,265.0 1005.8,267.5 1006.0,270.6 1006.2,274.0 1006.5,276.3 1006.8,276.0 1007.0,273.4 1007.2,270.1 1007.5,267.1 1007.8,264.8 1008.0,263.1 1008.2,261.9 1008.5,261.0 1008.8,260.3 1009.0,259.7 1009.2,259.3 1009.5,259.0 1009.8,258.7 1010.0,258.4 1010.2,258.2 1010.5,258.0 1010.8,257.8 1011.0,257.7 1011.2,257.5 1011.5,257.4 1011.8,257.2 1012.0,257.1 1012.2,257.0 1012.5,256.9 1012.8,256.8 1013.0,256.7 1013.2,256.6 1013.5,256.5 1013.8,256.4 1014.0,256.4 1014.2,256.3 1014.5,256.2 1014.8,256.1 1015.0,256.1 1015.2,256.0 1015.5,256.0 1015.8,255.9 1016.0,255.9 1016.2,255.9 1016.5,255.8 1016.8,255.8 1017.0,255.8 1017.2,255.7 1017.5,255.7 1017.8,255.7 1018.0,255.7 1018.2,255.7 1018.5,255.7 1018.8,255.7 1019.0,255.7 1019.2,255.7 1019.5,255.7 1019.8,255.7 1020.0,255.7 1020.2,255.7 1020.5,255.7 1020.8,255.7 1021.0,255.7 1021.2,255.7 1021.5,255.7 1021.8,255.7 1022.0,255.7 1022.2,255.8 1022.5,255.8 1022.8,255.8 1023.0,255.8 1023.2,255.8 1023.5,255.8 1023.8,255.8 1024.0,255.9 1024.2,255.9 1024.5,255.9 1024.8,255.9 1025.0,255.9 1025.2,255.9 1025.5,256.0 1025.8,256.0 1026.0,256.0 1026.2,256.0 1026.5,256.0 1026.8,256.0 1027.0,256.1 1027.2,256.1 1027.5,256.1 1027.8,256.1 1028.0,256.1 1028.2,256.2 1028.5,256.2 1028.8,256.2 1029.0,256.2 1029.2,256.2 1029.5,256.2 1029.8,256.3 1030.0,256.3 1030.2,256.3 1030.5,256.3 1030.8,256.3 1031.0,256.4 1031.2,256.4 1031.5,256.4 1031.8,256.4 1032.0,256.4 1032.2,256.4 1032.5,256.5 1032.8,256.5 1033.0,256.5 1033.2,256.5 1033.5,256.5 1033.8,256.6 1034.0,256.6 1034.2,256.6 1034.5,256.6 1034.8,256.6 1035.0,256.6 1035.2,256.7 1035.5,256.7 1035.8,256.7 1036.0,256.7 1036.2,256.7 1036.5,256.8 1036.8,256.8 1037.0,256.8 1037.2,256.8 1037.5,256.8 1037.8,256.8 1038.0,256.9 1038.2,256.9 1038.5,256.9 1038.8,256.9 1039.0,256.9 1039.2,257.0 1039.5,257.0 1039.8,257.0 1040.0,257.0 1040.2,257.0 1040.5,257.0 1040.8,257.0 1041.0,257.0 1041.2,257.1 1041.5,257.1 1041.8,257.1 1042.0,257.1 1042.2,257.1 1042.5,257.1 1042.8,257.1 1043.0,257.1 1043.2,257.1 1043.5,257.1 1043.8,257.1 1044.0,257.1 1044.2,257.1 1044.5,257.1 1044.8,257.2 1045.0,257.2 1045.2,257.2 1045.5,257.2 1045.8,257.2 1046.0,257.2 1046.2,257.2 1046.5,257.2 1046.8,257.2 1047.0,257.2 1047.2,257.2 1047.5,257.2 1047.8,257.2 1048.0,257.2 1048.2,257.3 1048.5,257.3 1048.8,257.3 1049.0,257.3 1049.2,257.3 1049.5,257.3 1049.8,257.3 1050.0,257.3 1050.2,257.3 1050.5,257.3 1050.8,257.3 1051.0,257.3 1051.2,257.3 1051.5,257.4 1051.8,257.4 1052.0,257.4 1052.2,257.4 1052.5,257.4 1052.8,257.4 1053.0,257.4 1053.2,257.4 1053.5,257.4 1053.8,257.4 1054.0,257.4 1054.2,257.4 1054.5,257.4 1054.8,257.4 1055.0,257.5 1055.2,257.5 1055.5,257.5 1055.8,257.5 1056.0,257.5 1056.2,257.5 1056.5,257.5 1056.8,257.5 1057.0,257.5 1057.2,257.5 1057.5,257.5 1057.8,257.5 1058.0,257.5 1058.2,257.6 1058.5,257.6 1058.8,257.6 1059.0,257.6 1059.2,257.6 1059.5,257.6 1059.8,257.6 1060.0,257.6 1060.2,257.6 1060.5,257.6 1060.8,257.6 1061.0,257.7 1061.2,257.7 1061.5,257.7 1061.8,257.7 1062.0,257.7 1062.2,257.7 1062.5,257.7 1062.8,257.7 1063.0,257.8 1063.2,257.8 1063.5,257.8 1063.8,257.8 1064.0,257.8 1064.2,257.8 1064.5,257.8 1064.8,257.8 1065.0,257.9 1065.2,257.9 1065.5,257.9 1065.8,257.9 1066.0,257.9 1066.2,257.9 1066.5,257.9 1066.8,257.9 1067.0,258.0 1067.2,258.0 1067.5,258.0 1067.8,258.0 1068.0,258.0 1068.2,258.0 1068.5,258.0 1068.8,258.0 1069.0,258.1 1069.2,258.1 1069.5,258.1 1069.8,258.1 1070.0,258.1 1070.2,258.1 1070.5,258.1 1070.8,258.1 1071.0,258.2 1071.2,258.2 1071.5,258.2 1071.8,258.2 1072.0,258.2 1072.2,258.2 1072.5,258.2 1072.8,258.2 1073.0,258.3 1073.2,258.3 1073.5,258.3 1073.8,258.3 1074.0,258.3 1074.2,258.3 1074.5,258.3 1074.8,258.3 1075.0,258.4 1075.2,258.4 1075.5,258.4 1075.8,258.4 1076.0,258.4 1076.2,258.4 1076.5,258.4 1076.8,258.4 1077.0,258.5 1077.2,258.5 1077.5,258.5 1077.8,258.5 1078.0,258.5 1078.2,258.5 1078.5,258.5 1078.8,258.5 1079.0,258.6"/></g>
<use href="#red" transform="translate(0,0.35)"/><use href="#red" transform="translate(0,-0.35)"/>
<g fill="#ff0000"><rect x="242" y="115.6" width="1" height="5.9"/><rect x="243" y="116.3" width="1" height="1.4"/><rect x="244" y="117.0" width="1" height="1.6"/><rect x="245" y="117.9" width="1" height="2.6"/><rect x="253" y="142.1" width="1" height="4.9"/><rect x="254" y="162.0" width="1" height="2.1"/><rect x="257" y="169.3" width="1" height="4.4"/><rect x="271" y="127.0" width="1" height="2.4"/><rect x="273" y="128.0" width="1" height="4.1"/><rect x="274" y="128.5" width="1" height="2.1"/><rect x="277" y="130.1" width="1" height="3.2"/><rect x="280" y="131.8" width="1" height="4.9"/><rect x="282" y="132.7" width="1" height="2.4"/><rect x="283" y="133.1" width="1" height="5.3"/><rect x="285" y="134.0" width="1" height="5.0"/><rect x="286" y="134.5" width="1" height="3.6"/><rect x="288" y="135.3" width="1" height="2.5"/><rect x="289" y="135.6" width="1" height="1.6"/><rect x="290" y="136.0" width="1" height="3.3"/><rect x="291" y="136.3" width="1" height="3.8"/><rect x="292" y="136.7" width="1" height="6.5"/><rect x="293" y="137.0" width="1" height="2.7"/><rect x="295" y="137.7" width="1" height="1.6"/><rect x="296" y="138.1" width="1" height="1.1"/><rect x="297" y="138.5" width="1" height="4.8"/><rect x="300" y="139.7" width="1" height="3.4"/><rect x="302" y="140.5" width="1" height="2.6"/><rect x="304" y="141.3" width="1" height="6.6"/><rect x="308" y="142.9" width="1" height="2.0"/><rect x="310" y="143.7" width="1" height="3.7"/><rect x="312" y="144.5" width="1" height="1.6"/><rect x="315" y="145.9" width="1" height="1.3"/><rect x="319" y="148.2" width="1" height="1.4"/><rect x="322" y="151.5" width="1" height="1.3"/><rect x="324" y="155.9" width="1" height="1.9"/><rect x="325" y="160.0" width="1" height="2.1"/><rect x="327" y="185.3" width="1" height="2.3"/><rect x="339" y="154.0" width="1" height="3.6"/><rect x="344" y="154.4" width="1" height="2.6"/><rect x="345" y="154.6" width="1" height="1.8"/><rect x="346" y="154.8" width="1" height="1.2"/><rect x="348" y="155.3" width="1" height="5.8"/><rect x="350" y="155.7" width="1" height="3.3"/><rect x="352" y="156.4" width="1" height="4.5"/><rect x="354" y="157.2" width="1" height="2.0"/><rect x="360" y="159.4" width="1" height="9.0"/><rect x="361" y="159.7" width="1" height="3.1"/><rect x="364" y="160.5" width="1" height="2.3"/><rect x="370" y="162.3" width="1" height="1.8"/><rect x="371" y="162.5" width="1" height="1.5"/><rect x="372" y="162.8" width="1" height="1.2"/><rect x="374" y="163.3" width="1" height="1.4"/><rect x="375" y="163.5" width="1" height="1.2"/><rect x="376" y="163.8" width="1" height="1.8"/><rect x="378" y="164.3" width="1" height="6.7"/><rect x="383" y="165.5" width="1" height="4.0"/><rect x="387" y="166.5" width="1" height="8.3"/><rect x="388" y="166.8" width="1" height="9.0"/><rect x="390" y="167.3" width="1" height="3.5"/><rect x="392" y="167.9" width="1" height="2.3"/><rect x="393" y="168.3" width="1" height="3.0"/><rect x="395" y="168.9" width="1" height="7.2"/><rect x="397" y="169.6" width="1" height="7.0"/><rect x="398" y="169.9" width="1" height="1.7"/><rect x="399" y="170.2" width="1" height="1.1"/><rect x="400" y="170.6" width="1" height="5.3"/><rect x="402" y="171.2" width="1" height="3.8"/><rect x="403" y="171.6" width="1" height="3.9"/><rect x="404" y="171.9" width="1" height="1.0"/><rect x="406" y="172.6" width="1" height="3.1"/><rect x="407" y="172.9" width="1" height="9.0"/><rect x="408" y="173.2" width="1" height="2.1"/><rect x="414" y="175.0" width="1" height="1.5"/><rect x="415" y="175.3" width="1" height="2.2"/><rect x="417" y="176.0" width="1" height="2.8"/><rect x="418" y="176.3" width="1" height="3.2"/><rect x="422" y="177.5" width="1" height="3.1"/><rect x="424" y="178.1" width="1" height="2.1"/><rect x="425" y="178.4" width="1" height="1.8"/><rect x="426" y="178.7" width="1" height="3.1"/><rect x="427" y="179.0" width="1" height="2.7"/><rect x="428" y="179.3" width="1" height="1.0"/><rect x="430" y="179.8" width="1" height="7.5"/><rect x="433" y="180.6" width="1" height="9.0"/><rect x="434" y="180.9" width="1" height="2.0"/><rect x="435" y="181.1" width="1" height="2.5"/><rect x="438" y="182.0" width="1" height="1.1"/><rect x="444" y="183.6" width="1" height="3.1"/><rect x="454" y="186.2" width="1" height="1.6"/><rect x="459" y="187.6" width="1" height="2.2"/><rect x="460" y="187.8" width="1" height="1.7"/><rect x="468" y="189.9" width="1" height="4.6"/><rect x="469" y="190.2" width="1" height="2.6"/><rect x="470" y="190.4" width="1" height="1.6"/><rect x="471" y="190.7" width="1" height="1.2"/><rect x="473" y="191.2" width="1" height="1.2"/><rect x="474" y="191.5" width="1" height="1.5"/><rect x="477" y="192.5" width="1" height="1.3"/><rect x="478" y="192.9" width="1" height="5.1"/><rect x="492" y="199.7" width="1" height="3.7"/><rect x="497" y="196.8" width="1" height="9.0"/><rect x="510" y="198.2" width="1" height="3.4"/><rect x="511" y="198.4" width="1" height="2.3"/><rect x="526" y="201.8" width="1" height="3.5"/><rect x="537" y="203.9" width="1" height="1.2"/><rect x="552" y="206.1" width="1" height="2.3"/><rect x="553" y="206.3" width="1" height="8.0"/><rect x="555" y="206.5" width="1" height="2.5"/><rect x="559" y="207.3" width="1" height="4.9"/><rect x="562" y="207.9" width="1" height="1.0"/><rect x="563" y="208.1" width="1" height="9.0"/><rect x="566" y="208.7" width="1" height="2.5"/><rect x="573" y="210.1" width="1" height="5.6"/><rect x="574" y="210.3" width="1" height="2.1"/><rect x="582" y="211.9" width="1" height="1.9"/><rect x="596" y="214.7" width="1" height="2.5"/><rect x="598" y="215.0" width="1" height="5.8"/><rect x="604" y="216.1" width="1" height="1.0"/><rect x="611" y="217.3" width="1" height="4.2"/><rect x="619" y="218.7" width="1" height="3.6"/><rect x="652" y="223.8" width="1" height="5.5"/><rect x="664" y="225.3" width="1" height="2.2"/><rect x="676" y="226.7" width="1" height="2.3"/><rect x="730" y="232.5" width="1" height="4.3"/><rect x="739" y="233.4" width="1" height="3.2"/><rect x="743" y="233.8" width="1" height="3.7"/><rect x="789" y="237.5" width="1" height="2.1"/><rect x="822" y="240.9" width="1" height="2.4"/><rect x="833" y="241.4" width="1" height="1.9"/><rect x="838" y="241.8" width="1" height="8.0"/><rect x="879" y="245.5" width="1" height="2.3"/><rect x="900" y="247.5" width="1" height="2.5"/><rect x="932" y="249.7" width="1" height="3.3"/><rect x="938" y="250.1" width="1" height="6.8"/><rect x="940" y="250.3" width="1" height="3.6"/><rect x="1002" y="256.9" width="1" height="4.4"/><rect x="1019" y="255.7" width="1" height="2.7"/><rect x="1058" y="257.5" width="1" height="2.5"/><rect x="1075" y="258.4" width="1" height="1.0"/></g>
<polyline fill="none" stroke="#ffff00" stroke-width="1.0" points="166.5,94.1 166.8,93.7 167.0,93.2 167.2,92.7 167.5,92.5 167.8,91.8 168.0,91.4 168.2,91.7 168.5,92.0 168.8,92.1 169.0,92.2 169.2,92.4 169.5,92.7 169.8,92.8 170.0,92.9 170.2,95.0 170.5,97.1" shape-rendering="auto"/>
<polyline fill="none" stroke="#ffff00" stroke-width="1.0" points="187.5,115.0 187.8,122.7 188.0,130.1 188.2,137.4 188.5,145.0 188.8,152.5 189.0,160.1 189.2,175.0 189.5,190.0 189.8,204.9 190.0,220.1 190.2,205.0 190.5,190.0 190.8,175.0 191.0,160.0 191.2,153.1 191.5,145.9" shape-rendering="auto"/>
<polyline fill="none" stroke="#ffff00" stroke-width="1.0" points="201.5,96.6 201.8,96.8 202.0,96.9 202.2,97.3 202.5,97.6 202.8,98.0 203.0,98.2 203.2,98.8 203.5,101.0 203.8,107.7 204.0,120.4 204.2,129.4 204.5,125.4 204.8,113.5 205.0,104.6 205.2,101.7 205.5,101.4" shape-rendering="auto"/>
<polyline fill="none" stroke="#ffff00" stroke-width="1.0" points="210.5,111.5 210.8,112.3 211.0,113.2 211.2,114.1 211.5,115.0 211.8,117.4 212.0,120.2 212.2,122.6 212.5,125.0 212.8,127.5 213.0,130.0 213.2,138.3 213.5,146.7 213.8,155.0 214.0,163.4 214.2,173.4 214.5,190.0 214.8,206.4 215.0,223.0 215.2,206.4 215.5,189.8" shape-rendering="auto"/>
<polyline fill="none" stroke="#ffff00" stroke-width="1.0" points="224.5,108.9 224.8,109.1 225.0,109.0 225.2,109.0 225.5,109.1 225.8,108.8 226.0,109.0 226.2,109.1 226.5,109.1 226.8,109.2 227.0,109.3 227.2,109.4 227.5,109.7 227.8,109.6 228.0,109.7 228.2,109.9 228.5,109.8" shape-rendering="auto"/>
<polyline fill="none" stroke="#ffff00" stroke-width="1.0" points="229.5,110.1 229.8,110.3 230.0,110.3 230.2,110.3 230.5,110.6 230.8,110.5 231.0,111.0 231.2,111.4 231.5,112.6 231.8,115.5 232.0,121.0 232.2,129.3 232.5,139.5 232.8,147.9 233.0,151.4 233.2,148.1 233.5,139.9" shape-rendering="auto"/>
<polyline fill="none" stroke="#ffff00" stroke-width="1.0" points="235.5,112.5 235.8,112.3 236.0,113.0 236.2,113.0 236.5,113.1 236.8,113.2 237.0,113.4 237.2,113.4 237.5,113.6 237.8,113.7 238.0,113.6 238.2,113.7 238.5,113.8 238.8,114.1 239.0,114.0 239.2,114.0 239.5,114.2 239.8,114.3 240.0,114.4 240.2,114.7 240.5,114.7" shape-rendering="auto"/>
<polyline fill="none" stroke="#ffff00" stroke-width="1.0" points="245.5,121.3 245.8,120.0 246.0,119.7 246.2,119.9 246.5,119.9 246.8,120.1 247.0,120.6 247.2,121.0 247.5,121.4 247.8,121.8 248.0,122.3 248.2,122.6 248.5,123.3 248.8,123.9 249.0,124.5 249.2,124.9 249.5,125.7" shape-rendering="auto"/>
<polyline fill="none" stroke="#ffff00" stroke-width="1.0" points="258.5,144.1 258.8,141.7 259.0,139.4 259.2,137.6 259.5,136.0 259.8,134.7 260.0,133.5 260.2,132.4 260.5,131.5 260.8,130.7 261.0,129.8 261.2,129.3 261.5,128.8 261.8,128.3 262.0,127.9 262.2,127.3 262.5,126.9" shape-rendering="auto"/>
<polyline fill="none" stroke="#ffff00" stroke-width="1.0" points="265.5,125.2 265.8,125.2 266.0,125.3 266.2,125.3 266.5,125.4 266.8,125.4 267.0,125.4 267.2,125.5 267.5,125.5 267.8,125.6 268.0,125.8 268.2,125.8 268.5,125.8 268.8,126.0 269.0,126.1 269.2,126.1 269.5,126.3" shape-rendering="auto"/>
<polyline fill="none" stroke="#ffff00" stroke-width="1.0" points="330.5,185.4 330.8,180.5 331.0,176.5 331.2,173.4 331.5,170.4 331.8,168.2 332.0,166.3 332.2,164.8 332.5,163.2 332.8,162.3 333.0,161.2 333.2,160.2 333.5,159.5 333.8,159.0 334.0,158.4 334.2,157.9 334.5,157.5 334.8,157.1 335.0,156.7 335.2,156.2 335.5,156.1" shape-rendering="auto"/>
<polyline fill="none" stroke="#ffff00" stroke-width="1.0" points="339.5,154.3 339.8,154.2 340.0,154.2 340.2,154.2 340.5,154.2 340.8,154.2 341.0,154.2 341.2,154.1 341.5,154.2 341.8,154.2 342.0,154.2 342.2,154.2 342.5,154.3 342.8,154.2 343.0,154.3 343.2,154.4 343.5,154.3" shape-rendering="auto"/>
<polyline fill="none" stroke="#ffff00" stroke-width="1.0" points="354.5,157.1 354.8,157.3 355.0,157.4 355.2,157.4 355.5,157.5 355.8,157.7 356.0,157.8 356.2,157.9 356.5,158.0 356.8,158.1 357.0,158.1 357.2,158.2 357.5,158.2 357.8,158.4 358.0,158.5 358.2,158.8 358.5,158.7 358.8,158.8 359.0,158.8 359.2,158.9 359.5,159.0" shape-rendering="auto"/>
<polyline fill="none" stroke="#ffff00" stroke-width="1.0" points="364.5,160.6 364.8,160.6 365.0,160.6 365.2,160.6 365.5,160.9 365.8,160.9 366.0,160.9 366.2,161.2 366.5,161.1 366.8,161.2 367.0,161.2 367.2,161.3 367.5,161.3 367.8,161.8 368.0,165.2 368.2,179.2 368.5,204.7 368.8,214.9 369.0,194.7 369.2,172.3 369.5,165.3" shape-rendering="auto"/>
<polyline fill="none" stroke="#ffff00" stroke-width="1.0" points="438.5,181.9 438.8,182.0 439.0,182.1 439.2,182.2 439.5,182.2 439.8,182.3 440.0,182.3 440.2,182.5 440.5,182.4 440.8,182.6 441.0,182.9 441.2,183.8 441.5,188.7 441.8,199.7 442.0,206.8 442.2,200.0 442.5,189.0 442.8,184.2 443.0,183.5 443.2,183.2 443.5,183.3" shape-rendering="auto"/>
<polyline fill="none" stroke="#ffff00" stroke-width="1.0" points="446.5,184.1 446.8,184.1 447.0,184.2 447.2,184.3 447.5,184.3 447.8,184.5 448.0,184.4 448.2,184.6 448.5,184.6 448.8,184.7 449.0,184.8 449.2,184.9 449.5,185.1 449.8,186.6 450.0,190.8 450.2,197.6 450.5,201.2 450.8,197.6 451.0,191.0 451.2,187.2 451.5,185.7 451.8,185.5 452.0,185.6 452.2,185.5 452.5,185.8" shape-rendering="auto"/>
<polyline fill="none" stroke="#ffff00" stroke-width="1.0" points="502.5,197.4 502.8,197.2 503.0,197.3 503.2,197.2 503.5,197.3 503.8,197.2 504.0,197.2 504.2,197.2 504.5,197.4 504.8,198.8 505.0,205.1 505.2,219.4 505.5,228.4 505.8,219.5 506.0,205.0 506.2,198.8 506.5,197.7 506.8,197.5 507.0,197.8 507.2,197.8 507.5,197.7" shape-rendering="auto"/>
<polyline fill="none" stroke="#ffff00" stroke-width="1.0" points="530.5,202.5 530.8,202.9 531.0,202.6 531.2,202.8 531.5,202.9 531.8,202.9 532.0,202.9 532.2,202.9 532.5,203.0 532.8,202.8 533.0,203.2 533.2,204.0 533.5,208.3 533.8,218.0 534.0,224.2 534.2,218.2 534.5,208.5 534.8,204.4 535.0,203.3 535.2,203.4 535.5,203.4" shape-rendering="auto"/>
<polyline fill="none" stroke="#ffff00" stroke-width="1.0" points="540.5,204.4 540.8,204.6 541.0,204.5 541.2,204.6 541.5,204.6 541.8,204.7 542.0,204.6 542.2,204.6 542.5,204.8 542.8,204.6 543.0,204.9 543.2,205.7 543.5,209.9 543.8,219.0 544.0,224.9 544.2,219.1 544.5,209.9 544.8,205.9 545.0,205.2 545.2,205.0 545.5,205.1" shape-rendering="auto"/>
<polyline fill="none" stroke="#ffff00" stroke-width="1.0" points="667.5,225.5 667.8,225.7 668.0,225.6 668.2,225.7 668.5,225.7 668.8,225.7 669.0,226.0 669.2,226.7 669.5,227.6 669.8,228.4 670.0,228.8 670.2,228.5 670.5,227.7 670.8,226.8 671.0,226.3 671.2,226.1 671.5,225.9 671.8,225.9 672.0,226.0 672.2,226.0 672.5,226.1" shape-rendering="auto"/>
<polyline fill="none" stroke="#ffff00" stroke-width="1.0" points="702.5,228.8 702.8,228.9 703.0,228.9 703.2,228.9 703.5,229.0 703.8,229.0 704.0,229.1 704.2,229.0 704.5,228.9 704.8,229.0 705.0,228.9 705.2,229.0 705.5,229.0 705.8,229.3 706.0,229.2 706.2,229.3 706.5,229.1 706.8,229.3 707.0,229.4 707.2,229.4 707.5,229.3" shape-rendering="auto"/>
<polyline fill="none" stroke="#ffff00" stroke-width="1.0" points="758.5,234.7 758.8,234.7 759.0,234.7 759.2,234.6 759.5,234.7 759.8,234.7 760.0,234.8 760.2,234.8 760.5,234.9 760.8,234.8 761.0,234.8 761.2,235.0 761.5,234.9 761.8,234.9 762.0,234.9 762.2,235.0 762.5,235.0 762.8,235.0 763.0,235.0 763.2,235.0 763.5,235.0 763.8,235.2 764.0,235.0 764.2,235.2 764.5,235.0 764.8,235.1 765.0,235.2 765.2,235.1 765.5,235.1 765.8,235.1 766.0,235.2 766.2,235.3 766.5,235.4 766.8,235.3 767.0,235.4 767.2,235.3 767.5,235.6 767.8,235.4 768.0,235.4 768.2,235.5 768.5,235.5 768.8,235.5 769.0,235.4 769.2,235.6 769.5,235.6 769.8,235.5 770.0,235.5 770.2,235.6 770.5,235.7 770.8,235.5 771.0,235.6 771.2,235.7 771.5,235.7 771.8,235.7 772.0,235.8 772.2,235.9 772.5,235.9 772.8,235.9 773.0,235.9 773.2,235.8 773.5,235.7 773.8,236.0 774.0,236.0 774.2,236.0 774.5,235.9 774.8,236.2 775.0,235.9 775.2,236.1 775.5,236.1 775.8,236.2 776.0,236.2 776.2,236.2 776.5,236.2 776.8,236.2 777.0,236.3 777.2,236.3 777.5,236.3 777.8,236.2 778.0,236.2 778.2,236.3 778.5,236.4 778.8,236.3 779.0,236.3 779.2,236.4 779.5,236.5 779.8,236.5 780.0,236.6 780.2,236.5 780.5,236.6 780.8,236.7 781.0,236.6 781.2,236.8 781.5,236.6 781.8,236.7 782.0,236.5 782.2,236.7 782.5,236.7 782.8,236.7 783.0,236.8 783.2,236.7 783.5,236.8 783.8,236.7 784.0,236.8 784.2,237.0 784.5,236.9 784.8,237.0 785.0,236.9 785.2,236.8 785.5,237.1 785.8,237.1 786.0,237.1 786.2,237.0 786.5,237.2 786.8,237.1 787.0,237.2 787.2,237.2 787.5,237.1" shape-rendering="auto"/>
<polyline fill="none" stroke="#ffff00" stroke-width="1.0" points="793.5,238.0 793.8,237.9 794.0,237.9 794.2,237.9 794.5,238.0 794.8,237.9 795.0,238.1 795.2,238.0 795.5,237.9 795.8,238.0 796.0,238.2 796.2,238.2 796.5,238.4 796.8,239.2 797.0,244.0 797.2,254.7 797.5,261.5 797.8,254.5 798.0,244.2 798.2,239.3 798.5,238.5 798.8,238.3 799.0,238.5 799.2,238.4 799.5,238.5 799.8,238.7 800.0,238.7 800.2,238.8 800.5,239.2 800.8,240.3 801.0,241.6 801.2,243.1 801.5,243.8 801.8,243.3 802.0,241.9 802.2,240.5 802.5,239.6 802.8,239.1 803.0,239.0 803.2,239.1 803.5,239.0 803.8,239.0 804.0,239.1 804.2,239.0 804.5,239.0 804.8,239.0 805.0,239.2 805.2,239.2 805.5,239.1" shape-rendering="auto"/>
<polyline fill="none" stroke="#ffff00" stroke-width="1.0" points="917.5,248.7 917.8,248.6 918.0,248.7 918.2,248.7 918.5,248.7 918.8,248.7 919.0,248.7 919.2,248.8 919.5,248.5" shape-rendering="auto"/>
<polyline fill="none" stroke="#ffff00" stroke-width="1.0" points="923.5,249.0 923.8,249.0 924.0,249.0 924.2,248.9 924.5,248.9 924.8,249.0 925.0,249.0 925.2,249.1 925.5,249.1 925.8,249.0 926.0,249.1 926.2,249.1 926.5,249.3 926.8,249.2 927.0,249.1 927.2,249.1 927.5,249.0 927.8,249.3 928.0,249.2 928.2,249.2 928.5,249.1" shape-rendering="auto"/>
<polyline fill="none" stroke="#ffff00" stroke-width="1.0" points="942.5,250.3 942.8,250.2 943.0,250.2 943.2,250.3 943.5,250.3 943.8,250.2 944.0,250.5 944.2,250.3 944.5,250.2 944.8,250.4 945.0,250.6 945.2,250.4 945.5,250.3 945.8,250.4 946.0,250.5 946.2,250.5 946.5,250.6 946.8,250.7 947.0,251.1 947.2,251.5 947.5,252.4 947.8,253.2 948.0,253.6 948.2,253.4 948.5,252.5" shape-rendering="auto"/>
<polyline fill="none" stroke="#ffff00" stroke-width="1.0" points="1037.5,256.7 1037.8,256.6 1038.0,256.6 1038.2,256.7 1038.5,256.7 1038.8,256.7 1039.0,256.7 1039.2,256.8 1039.5,256.9 1039.8,256.8 1040.0,256.9 1040.2,256.8 1040.5,256.8 1040.8,257.0 1041.0,257.3 1041.2,258.6 1041.5,261.3 1041.8,265.2 1042.0,266.9 1042.2,265.1 1042.5,261.4 1042.8,258.7 1043.0,257.3 1043.2,256.9 1043.5,256.9" shape-rendering="auto"/>
<polyline fill="none" stroke="#ffff00" stroke-width="1.0" points="1046.5,257.0 1046.8,257.0 1047.0,257.1 1047.2,257.2 1047.5,257.1 1047.8,257.2 1048.0,257.2 1048.2,257.4 1048.5,257.0 1048.8,257.0 1049.0,257.0 1049.2,257.1 1049.5,257.0 1049.8,257.2 1050.0,257.0 1050.2,257.2 1050.5,257.2 1050.8,257.3 1051.0,257.2 1051.2,257.2 1051.5,257.2 1051.8,257.0 1052.0,257.2 1052.2,257.2 1052.5,257.3 1052.8,257.2 1053.0,257.1 1053.2,257.4 1053.5,257.1" shape-rendering="auto"/>
<polyline fill="none" stroke="#0a80ff" stroke-width="2" points="163.0,236.0 170.0,235.5 185.0,232.5 200.0,228.7 215.0,224.0 230.0,219.3 245.0,215.7 257.0,214.0 275.0,213.3 297.0,213.8 310.0,214.6 322.0,216.0 330.0,215.3 350.0,214.3 362.0,213.2 370.0,212.5 386.0,210.6 405.0,210.0 425.0,208.8 445.0,208.0 465.0,207.0 500.0,203.8 540.0,199.8 555.0,199.0 575.0,198.2 595.0,197.2 610.0,196.6 630.0,195.2 650.0,193.8 670.0,192.2 690.0,191.2 705.0,190.8 725.0,189.8 745.0,188.6 765.0,187.4 780.0,186.2 810.0,184.2 857.0,182.2 915.0,180.2 970.0,177.6 1010.0,175.0 1050.0,172.4 1056.0,171.8 1079.0,171.8" shape-rendering="auto"/>
<rect x="102" y="289" width="61" height="3" fill="#0a80ff"/>
<path d="M124,290.5h3m4,0h2m3,0h4m4,0h2m3,0h3m4,0h2m3,0h3m4,0h3" stroke="#fff" stroke-width="1" fill="none"/>
<line x1="163" y1="290.5" x2="1140" y2="290.5" stroke="#0a80ff" stroke-width="1"/>
<g stroke="#000" stroke-width="1"><line x1="102" y1="290.5" x2="124" y2="290.5"/><line x1="102" y1="240.5" x2="124" y2="240.5"/><line x1="102" y1="189.5" x2="124" y2="189.5"/><line x1="102" y1="139.5" x2="124" y2="139.5"/><line x1="102" y1="89.5" x2="124" y2="89.5"/></g>
<g fill="#00ff66"><polygon points="163,287 164,287 164,287 165,287 165,287 166,287 166,287 167,287 167,287 168,287 168,287 169,287 169,287 170,287 170,287 171,287 171,287 172,287 172,287 173,287 173,287 174,287 174,287 175,287 175,286 176,286 176,286 177,286 177,286 178,286 178,289 179,289 179,289 180,289 180,289 181,289 181,289 182,289 182,289 183,289 183,289 184,289 184,286 185,286 185,286 186,286 186,284 187,284 187,284 188,284 188,284 189,284 189,284 190,284 190,284 191,284 191,288 192,288 192,288 193,288 193,289 194,289 194,289 195,289 195,289 196,289 196,289 197,289 197,289 198,289 198,287 199,287 199,287 200,287 200,287 201,287 201,287 202,287 202,287 203,287 203,287 204,287 204,286 205,286 205,286 206,286 206,284 207,284 207,284 208,284 208,288 209,288 209,288 210,288 210,288 211,288 211,288 212,288 212,288 213,288 213,288 214,288 214,288 215,288 215,288 216,288 216,288 217,288 217,288 218,288 218,285 219,285 219,285 220,285 220,285 221,285 221,285 222,285 222,285 223,285 223,285 224,285 224,285 225,285 225,285 226,285 226,288 227,288 227,288 228,288 228,288 229,288 229,288 230,288 230,288 231,288 231,286 232,286 232,286 233,286 233,286 234,286 234,285 235,285 235,285 236,285 236,285 237,285 237,285 238,285 238,285 239,285 239,287 240,287 240,287 241,287 241,287 242,287 242,287 243,287 243,287 244,287 244,287 245,287 245,287 246,287 246,287 247,287 247,287 248,287 248,287 249,287 249,287 250,287 250,287 251,287 251,288 252,288 252,288 253,288 253,288 254,288 254,288 255,288 255,288 256,288 256,288 257,288 257,286 258,286 258,286 259,286 259,286 260,286 260,286 261,286 261,287 262,287 262,287 263,287 263,287 264,287 264,287 265,287 265,287 266,287 266,287 267,287 267,287 268,287 268,287 269,287 269,287 270,287 270,287 271,287 271,287 272,287 272,287 273,287 273,289 274,289 274,289 275,289 275,289 276,289 276,289 277,289 277,289 278,289 278,289 279,289 279,289 280,289 280,289 281,289 281,289 282,289 282,289 283,289 283,288 284,288 284,288 285,288 285,288 286,288 286,288 287,288 287,287 288,287 288,287 289,287 289,287 290,287 290,287 291,287 291,287 292,287 292,287 293,287 293,287 294,287 294,287 295,287 295,287 296,287 296,287 297,287 297,287 298,287 298,287 299,287 299,287 300,287 300,287 301,287 301,287 302,287 302,289 303,289 303,289 304,289 304,289 305,289 305,288 306,288 306,288 307,288 307,288 308,288 308,288 309,288 309,288 310,288 310,288 311,288 311,288 312,288 312,288 313,288 313,288 314,288 314,289 315,289 315,289 316,289 316,289 317,289 317,289 318,289 318,289 319,289 319,289 320,289 320,289 321,289 321,289 322,289 322,289 323,289 323,288 324,288 324,288 325,288 325,288 326,288 326,288 327,288 327,288 328,288 328,288 329,288 329,288 330,288 330,288 331,288 331,288 332,288 332,289 333,289 333,289 334,289 334,289 335,289 335,289 336,289 336,289 337,289 337,289 338,289 338,289 339,289 339,289 340,289 340,289 341,289 341,289 342,289 342,289 343,289 343,288 344,288 344,288 345,288 345,289 346,289 346,289 347,289 347,289 348,289 348,289 349,289 349,289 350,289 350,288 351,288 351,288 352,288 352,288 353,288 353,289 354,289 354,289 355,289 355,289 356,289 356,289 357,289 357,289 358,289 358,289 359,289 359,289 360,289 360,289 361,289 361,288 362,288 362,288 363,288 363,288 364,288 364,289 365,289 365,289 366,289 366,289 367,289 367,289 368,289 368,289 369,289 369,288 370,288 370,288 371,288 371,288 372,288 372,289 373,289 373,289 374,289 374,289 375,289 375,289 376,289 376,289 377,289 377,289 378,289 378,288 379,288 379,288 380,288 380,289 381,289 381,289 382,289 382,289 383,289 383,289 384,289 384,288 385,288 385,288 386,288 386,288 387,288 387,289 388,289 388,289 389,289 389,288 390,288 390,288 391,288 391,288 392,288 392,288 393,288 393,289 394,289 394,289 395,289 395,289 396,289 396,289 397,289 397,289 398,289 398,288 399,288 399,288 400,288 400,288 401,288 401,288 402,288 402,288 403,288 403,288 404,288 404,288 405,288 405,288 406,288 406,289 407,289 407,289 408,289 408,289 409,289 409,289 410,289 410,289 411,289 411,288 412,288 412,288 413,288 413,288 414,288 414,288 415,288 415,288 416,288 416,288 417,288 417,289 418,289 418,289 419,289 419,289 420,289 420,289 421,289 421,288 422,288 422,288 423,288 423,288 424,288 424,288 425,288 425,288 426,288 426,288 427,288 427,288 428,288 428,288 429,288 429,288 430,288 430,288 431,288 431,288 432,288 432,289 433,289 433,289 434,289 434,289 435,289 435,289 436,289 436,288 437,288 437,288 438,288 438,288 439,288 439,288 440,288 440,289 441,289 441,289 442,289 442,289 443,289 443,289 444,289 444,289 445,289 445,289 446,289 446,288 447,288 447,288 448,288 448,288 449,288 449,288 450,288 450,288 451,288 451,289 452,289 452,289 453,289 453,289 454,289 454,289 455,289 455,289 456,289 456,289 457,289 457,289 458,289 458,289 459,289 459,289 460,289 460,289 461,289 461,289 462,289 462,289 463,289 463,289 464,289 464,289 465,289 465,289 466,289 466,289 467,289 467,288 468,288 468,288 469,288 469,288 470,288 470,288 471,288 471,288 472,288 472,288 473,288 473,288 474,288 474,288 475,288 475,289 476,289 476,289 477,289 477,289 478,289 478,289 479,289 479,289 480,289 480,289 481,289 481,288 482,288 482,288 483,288 483,288 484,288 484,288 485,288 485,288 486,288 486,289 487,289 487,289 488,289 488,289 489,289 489,289 490,289 490,289 491,289 491,289 492,289 492,289 493,289 493,289 494,289 494,289 495,289 495,289 496,289 496,288 497,288 497,288 498,288 498,288 499,288 499,288 500,288 500,288 501,288 501,288 502,288 502,289 503,289 503,289 504,289 504,289 505,289 505,289 506,289 506,289 507,289 507,288 508,288 508,288 509,288 509,289 510,289 510,289 511,289 511,289 512,289 512,289 513,289 513,289 514,289 514,289 515,289 515,289 516,289 516,289 517,289 517,289 518,289 518,288 519,288 519,288 520,288 520,288 521,288 521,288 522,288 522,289 523,289 523,289 524,289 524,289 525,289 525,289 526,289 526,289 527,289 527,289 528,289 528,288 529,288 529,288 530,288 530,288 531,288 531,288 532,288 532,288 533,288 533,288 534,288 534,288 535,288 535,288 536,288 536,288 537,288 537,288 538,288 538,289 539,289 539,289 540,289 540,289 541,289 541,289 542,289 542,289 543,289 543,289 544,289 544,289 545,289 545,289 546,289 546,289 547,289 547,289 548,289 548,289 549,289 549,289 550,289 550,289 551,289 551,289 552,289 552,289 553,289 553,289 554,289 554,289 555,289 555,289 556,289 556,289 557,289 557,289 558,289 558,288 559,288 559,288 560,288 560,288 561,288 561,288 562,288 562,288 563,288 563,288 564,288 564,288 565,288 565,288 566,288 566,288 567,288 567,288 568,288 568,288 569,288 569,289 570,289 570,289 571,289 571,289 572,289 572,289 573,289 573,288 574,288 574,288 575,288 575,288 576,288 576,288 577,288 577,288 578,288 578,288 579,288 579,288 580,288 580,288 581,288 581,289 582,289 582,289 583,289 583,289 584,289 584,289 585,289 585,289 586,289 586,289 587,289 587,288 588,288 588,288 589,288 589,288 590,288 590,288 591,288 591,288 592,288 592,288 593,288 593,288 594,288 594,288 595,288 595,288 596,288 596,288 597,288 597,288 598,288 598,288 599,288 599,288 600,288 600,289 601,289 601,289 602,289 602,289 603,289 603,289 604,289 604,289 605,289 605,289 606,289 606,289 607,289 607,289 608,289 608,289 609,289 609,289 610,289 610,289 611,289 611,289 612,289 612,289 613,289 613,289 614,289 614,288 615,288 615,288 616,288 616,288 617,288 617,288 618,288 618,288 619,288 619,288 620,288 620,289 621,289 621,289 622,289 622,289 623,289 623,288 624,288 624,288 625,288 625,288 626,288 626,288 627,288 627,289 628,289 628,289 629,289 629,288 630,288 630,288 631,288 631,288 632,288 632,288 633,288 633,288 634,288 634,288 635,288 635,288 636,288 636,288 637,288 637,288 638,288 638,288 639,288 639,288 640,288 640,288 641,288 641,288 642,288 642,288 643,288 643,288 644,288 644,288 645,288 645,288 646,288 646,288 647,288 647,288 648,288 648,288 649,288 649,288 650,288 650,289 651,289 651,289 652,289 652,289 653,289 653,289 654,289 654,289 655,289 655,289 656,289 656,288 657,288 657,288 658,288 658,288 659,288 659,289 660,289 660,289 661,289 661,289 662,289 662,289 663,289 663,289 664,289 664,289 665,289 665,289 666,289 666,289 667,289 667,289 668,289 668,289 669,289 669,289 670,289 670,289 671,289 671,289 672,289 672,289 673,289 673,289 674,289 674,289 675,289 675,289 676,289 676,289 677,289 677,289 678,289 678,289 679,289 679,289 680,289 680,288 681,288 681,288 682,288 682,288 683,288 683,288 684,288 684,288 685,288 685,288 686,288 686,288 687,288 687,288 688,288 688,288 689,288 689,288 690,288 690,288 691,288 691,288 692,288 692,288 693,288 693,289 694,289 694,289 695,289 695,289 696,289 696,288 697,288 697,288 698,288 698,288 699,288 699,288 700,288 700,289 701,289 701,289 702,289 702,289 703,289 703,289 704,289 704,289 705,289 705,289 706,289 706,289 707,289 707,289 708,289 708,289 709,289 709,289 710,289 710,288 711,288 711,288 712,288 712,288 713,288 713,288 714,288 714,288 715,288 715,288 716,288 716,289 717,289 717,289 718,289 718,289 719,289 719,288 720,288 720,288 721,288 721,288 722,288 722,289 723,289 723,289 724,289 724,289 725,289 725,289 726,289 726,289 727,289 727,289 728,289 728,289 729,289 729,289 730,289 730,289 731,289 731,289 732,289 732,289 733,289 733,288 734,288 734,288 735,288 735,288 736,288 736,288 737,288 737,288 738,288 738,289 739,289 739,289 740,289 740,289 741,289 741,289 742,289 742,289 743,289 743,288 744,288 744,288 745,288 745,288 746,288 746,288 747,288 747,288 748,288 748,288 749,288 749,288 750,288 750,288 751,288 751,289 752,289 752,289 753,289 753,289 754,289 754,289 755,289 755,289 756,289 756,289 757,289 757,289 758,289 758,289 759,289 759,289 760,289 760,289 761,289 761,289 762,289 762,289 763,289 763,292 762,292 762,292 761,292 761,292 760,292 760,292 759,292 759,292 758,292 758,293 757,293 757,293 756,293 756,293 755,293 755,293 754,293 754,293 753,293 753,293 752,293 752,293 751,293 751,292 750,292 750,292 749,292 749,292 748,292 748,292 747,292 747,292 746,292 746,292 745,292 745,292 744,292 744,292 743,292 743,292 742,292 742,292 741,292 741,292 740,292 740,292 739,292 739,292 738,292 738,292 737,292 737,292 736,292 736,292 735,292 735,292 734,292 734,292 733,292 733,292 732,292 732,292 731,292 731,292 730,292 730,292 729,292 729,292 728,292 728,292 727,292 727,292 726,292 726,292 725,292 725,292 724,292 724,292 723,292 723,292 722,292 722,292 721,292 721,292 720,292 720,292 719,292 719,292 718,292 718,292 717,292 717,292 716,292 716,293 715,293 715,293 714,293 714,293 713,293 713,293 712,293 712,293 711,293 711,293 710,293 710,292 709,292 709,292 708,292 708,292 707,292 707,292 706,292 706,292 705,292 705,293 704,293 704,293 703,293 703,293 702,293 702,293 701,293 701,293 700,293 700,292 699,292 699,292 698,292 698,292 697,292 697,292 696,292 696,292 695,292 695,292 694,292 694,292 693,292 693,292 692,292 692,292 691,292 691,292 690,292 690,292 689,292 689,292 688,292 688,292 687,292 687,292 686,292 686,292 685,292 685,292 684,292 684,292 683,292 683,292 682,292 682,292 681,292 681,292 680,292 680,293 679,293 679,293 678,293 678,293 677,293 677,293 676,293 676,292 675,292 675,292 674,292 674,292 673,292 673,292 672,292 672,292 671,292 671,292 670,292 670,292 669,292 669,292 668,292 668,292 667,292 667,292 666,292 666,292 665,292 665,292 664,292 664,292 663,292 663,292 662,292 662,292 661,292 661,292 660,292 660,292 659,292 659,292 658,292 658,292 657,292 657,292 656,292 656,293 655,293 655,293 654,293 654,293 653,293 653,293 652,293 652,293 651,293 651,293 650,293 650,292 649,292 649,292 648,292 648,292 647,292 647,292 646,292 646,292 645,292 645,292 644,292 644,292 643,292 643,292 642,292 642,292 641,292 641,292 640,292 640,292 639,292 639,292 638,292 638,292 637,292 637,292 636,292 636,292 635,292 635,292 634,292 634,292 633,292 633,292 632,292 632,292 631,292 631,292 630,292 630,292 629,292 629,292 628,292 628,292 627,292 627,292 626,292 626,292 625,292 625,292 624,292 624,292 623,292 623,292 622,292 622,292 621,292 621,292 620,292 620,292 619,292 619,292 618,292 618,292 617,292 617,292 616,292 616,292 615,292 615,292 614,292 614,292 613,292 613,292 612,292 612,292 611,292 611,292 610,292 610,292 609,292 609,292 608,292 608,292 607,292 607,292 606,292 606,292 605,292 605,292 604,292 604,292 603,292 603,292 602,292 602,292 601,292 601,292 600,292 600,293 599,293 599,293 598,293 598,293 597,293 597,293 596,293 596,293 595,293 595,293 594,293 594,293 593,293 593,293 592,293 592,293 591,293 591,293 590,293 590,292 589,292 589,292 588,292 588,292 587,292 587,293 586,293 586,293 585,293 585,293 584,293 584,293 583,293 583,293 582,293 582,293 581,293 581,293 580,293 580,293 579,293 579,293 578,293 578,293 577,293 577,292 576,292 576,292 575,292 575,292 574,292 574,292 573,292 573,292 572,292 572,292 571,292 571,292 570,292 570,292 569,292 569,292 568,292 568,292 567,292 567,292 566,292 566,292 565,292 565,292 564,292 564,292 563,292 563,292 562,292 562,292 561,292 561,292 560,292 560,292 559,292 559,292 558,292 558,292 557,292 557,292 556,292 556,292 555,292 555,292 554,292 554,292 553,292 553,292 552,292 552,292 551,292 551,292 550,292 550,292 549,292 549,292 548,292 548,292 547,292 547,292 546,292 546,292 545,292 545,292 544,292 544,292 543,292 543,292 542,292 542,292 541,292 541,292 540,292 540,292 539,292 539,292 538,292 538,292 537,292 537,292 536,292 536,292 535,292 535,292 534,292 534,292 533,292 533,292 532,292 532,293 531,293 531,293 530,293 530,293 529,293 529,293 528,293 528,292 527,292 527,292 526,292 526,292 525,292 525,292 524,292 524,292 523,292 523,292 522,292 522,293 521,293 521,293 520,293 520,293 519,293 519,293 518,293 518,292 517,292 517,292 516,292 516,292 515,292 515,292 514,292 514,292 513,292 513,292 512,292 512,292 511,292 511,292 510,292 510,292 509,292 509,293 508,293 508,293 507,293 507,292 506,292 506,292 505,292 505,292 504,292 504,292 503,292 503,292 502,292 502,292 501,292 501,292 500,292 500,292 499,292 499,292 498,292 498,292 497,292 497,292 496,292 496,292 495,292 495,292 494,292 494,292 493,292 493,292 492,292 492,292 491,292 491,292 490,292 490,292 489,292 489,292 488,292 488,292 487,292 487,292 486,292 486,292 485,292 485,292 484,292 484,292 483,292 483,292 482,292 482,292 481,292 481,292 480,292 480,292 479,292 479,292 478,292 478,292 477,292 477,292 476,292 476,292 475,292 475,292 474,292 474,292 473,292 473,292 472,292 472,292 471,292 471,292 470,292 470,292 469,292 469,292 468,292 468,292 467,292 467,292 466,292 466,292 465,292 465,292 464,292 464,292 463,292 463,293 462,293 462,293 461,293 461,293 460,293 460,293 459,293 459,293 458,293 458,293 457,293 457,292 456,292 456,292 455,292 455,292 454,292 454,292 453,292 453,292 452,292 452,292 451,292 451,293 450,293 450,293 449,293 449,293 448,293 448,293 447,293 447,293 446,293 446,292 445,292 445,292 444,292 444,292 443,292 443,292 442,292 442,292 441,292 441,292 440,292 440,293 439,293 439,293 438,293 438,293 437,293 437,293 436,293 436,292 435,292 435,292 434,292 434,292 433,292 433,292 432,292 432,292 431,292 431,292 430,292 430,292 429,292 429,292 428,292 428,292 427,292 427,292 426,292 426,292 425,292 425,292 424,292 424,292 423,292 423,292 422,292 422,292 421,292 421,292 420,292 420,292 419,292 419,292 418,292 418,292 417,292 417,292 416,292 416,292 415,292 415,292 414,292 414,292 413,292 413,292 412,292 412,292 411,292 411,292 410,292 410,292 409,292 409,292 408,292 408,292 407,292 407,292 406,292 406,292 405,292 405,292 404,292 404,292 403,292 403,292 402,292 402,292 401,292 401,292 400,292 400,292 399,292 399,292 398,292 398,292 397,292 397,292 396,292 396,292 395,292 395,292 394,292 394,292 393,292 393,292 392,292 392,292 391,292 391,292 390,292 390,292 389,292 389,292 388,292 388,292 387,292 387,292 386,292 386,292 385,292 385,292 384,292 384,292 383,292 383,292 382,292 382,292 381,292 381,292 380,292 380,292 379,292 379,292 378,292 378,292 377,292 377,292 376,292 376,292 375,292 375,292 374,292 374,292 373,292 373,292 372,292 372,293 371,293 371,293 370,293 370,293 369,293 369,292 368,292 368,292 367,292 367,292 366,292 366,292 365,292 365,292 364,292 364,292 363,292 363,292 362,292 362,292 361,292 361,292 360,292 360,292 359,292 359,292 358,292 358,292 357,292 357,292 356,292 356,292 355,292 355,293 354,293 354,293 353,293 353,292 352,292 352,292 351,292 351,292 350,292 350,292 349,292 349,292 348,292 348,292 347,292 347,292 346,292 346,292 345,292 345,292 344,292 344,292 343,292 343,292 342,292 342,292 341,292 341,292 340,292 340,292 339,292 339,292 338,292 338,292 337,292 337,292 336,292 336,292 335,292 335,292 334,292 334,292 333,292 333,292 332,292 332,292 331,292 331,292 330,292 330,292 329,292 329,292 328,292 328,292 327,292 327,292 326,292 326,292 325,292 325,292 324,292 324,292 323,292 323,293 322,293 322,293 321,293 321,293 320,293 320,292 319,292 319,292 318,292 318,292 317,292 317,292 316,292 316,292 315,292 315,292 314,292 314,292 313,292 313,292 312,292 312,292 311,292 311,292 310,292 310,292 309,292 309,292 308,292 308,292 307,292 307,292 306,292 306,292 305,292 305,292 304,292 304,292 303,292 303,292 302,292 302,294 301,294 301,294 300,294 300,294 299,294 299,294 298,294 298,294 297,294 297,294 296,294 296,293 295,293 295,293 294,293 294,293 293,293 293,293 292,293 292,293 291,293 291,293 290,293 290,293 289,293 289,293 288,293 288,293 287,293 287,294 286,294 286,294 285,294 285,294 284,294 284,294 283,294 283,294 282,294 282,294 281,294 281,294 280,294 280,294 279,294 279,293 278,293 278,293 277,293 277,293 276,293 276,293 275,293 275,293 274,293 274,293 273,293 273,293 272,293 272,293 271,293 271,293 270,293 270,293 269,293 269,293 268,293 268,293 267,293 267,294 266,294 266,294 265,294 265,293 264,293 264,293 263,293 263,293 262,293 262,293 261,293 261,293 260,293 260,293 259,293 259,293 258,293 258,293 257,293 257,292 256,292 256,292 255,292 255,292 254,292 254,292 253,292 253,292 252,292 252,292 251,292 251,292 250,292 250,292 249,292 249,292 248,292 248,292 247,292 247,292 246,292 246,292 245,292 245,293 244,293 244,293 243,293 243,293 242,293 242,293 241,293 241,293 240,293 240,293 239,293 239,292 238,292 238,292 237,292 237,292 236,292 236,292 235,292 235,292 234,292 234,294 233,294 233,294 232,294 232,294 231,294 231,293 230,293 230,293 229,293 229,293 228,293 228,293 227,293 227,293 226,293 226,293 225,293 225,293 224,293 224,293 223,293 223,293 222,293 222,293 221,293 221,293 220,293 220,293 219,293 219,293 218,293 218,295 217,295 217,295 216,295 216,295 215,295 215,295 214,295 214,295 213,295 213,295 212,295 212,293 211,293 211,293 210,293 210,293 209,293 209,293 208,293 208,295 207,295 207,295 206,295 206,292 205,292 205,292 204,292 204,295 203,295 203,295 202,295 202,295 201,295 201,295 200,295 200,295 199,295 199,295 198,295 198,293 197,293 197,293 196,293 196,293 195,293 195,293 194,293 194,293 193,293 193,292 192,292 192,292 191,292 191,293 190,293 190,293 189,293 189,293 188,293 188,293 187,293 187,293 186,293 186,294 185,294 185,294 184,294 184,292 183,292 183,292 182,292 182,292 181,292 181,292 180,292 180,292 179,292 179,292 178,292 178,295 177,295 177,295 176,295 176,295 175,295 175,292 174,292 174,292 173,292 173,292 172,292 172,292 171,292 171,292 170,292 170,292 169,292 169,295 168,295 168,295 167,295 167,295 166,295 166,295 165,295 165,295 164,295 164,295 163,295"/><polygon points="786,288 787,288 787,289 788,289 788,289 789,289 789,289 790,289 790,289 791,289 791,288 792,288 792,288 793,288 793,288 794,288 794,288 795,288 795,288 796,288 796,288 797,288 797,288 798,288 798,288 799,288 799,288 800,288 800,289 801,289 801,289 802,289 802,289 803,289 803,289 804,289 804,289 805,289 805,289 806,289 806,289 807,289 807,288 808,288 808,288 809,288 809,288 810,288 810,288 811,288 811,288 812,288 812,288 813,288 813,288 814,288 814,288 815,288 815,288 816,288 816,288 817,288 817,289 818,289 818,289 819,289 819,289 820,289 820,289 821,289 821,289 822,289 822,289 823,289 823,289 824,289 824,289 825,289 825,289 826,289 826,288 827,288 827,288 828,288 828,288 829,288 829,288 830,288 830,289 831,289 831,289 832,289 832,289 833,289 833,289 834,289 834,288 835,288 835,288 836,288 836,288 837,288 837,288 838,288 838,288 839,288 839,288 840,288 840,288 841,288 841,289 842,289 842,289 843,289 843,289 844,289 844,289 845,289 845,289 846,289 846,289 847,289 847,288 848,288 848,288 849,288 849,288 850,288 850,288 851,288 851,288 852,288 852,289 853,289 853,289 854,289 854,289 855,289 855,289 856,289 856,289 857,289 857,289 858,289 858,289 859,289 859,289 860,289 860,289 861,289 861,288 862,288 862,288 863,288 863,288 864,288 864,289 865,289 865,289 866,289 866,289 867,289 867,289 868,289 868,289 869,289 869,289 870,289 870,288 871,288 871,288 872,288 872,288 873,288 873,288 874,288 874,288 875,288 875,288 876,288 876,288 877,288 877,288 878,288 878,288 879,288 879,288 880,288 880,288 881,288 881,288 882,288 882,288 883,288 883,288 884,288 884,289 885,289 885,289 886,289 886,289 887,289 887,289 888,289 888,289 889,289 889,289 890,289 890,289 891,289 891,288 892,288 892,288 893,288 893,288 894,288 894,288 895,288 895,288 896,288 896,288 897,288 897,288 898,288 898,288 899,288 899,288 900,288 900,288 901,288 901,288 902,288 902,288 903,288 903,288 904,288 904,288 905,288 905,289 906,289 906,289 907,289 907,289 908,289 908,289 909,289 909,289 910,289 910,289 911,289 911,289 912,289 912,289 913,289 913,289 914,289 914,289 915,289 915,289 916,289 916,289 917,289 917,288 918,288 918,288 919,288 919,288 920,288 920,288 921,288 921,288 922,288 922,289 923,289 923,289 924,289 924,289 925,289 925,289 926,289 926,288 927,288 927,288 928,288 928,288 929,288 929,288 930,288 930,288 931,288 931,288 932,288 932,289 933,289 933,289 934,289 934,288 935,288 935,288 936,288 936,288 937,288 937,288 938,288 938,289 939,289 939,289 940,289 940,289 941,289 941,288 942,288 942,288 943,288 943,288 944,288 944,288 945,288 945,288 946,288 946,288 947,288 947,288 948,288 948,288 949,288 949,288 950,288 950,288 951,288 951,288 952,288 952,288 953,288 953,288 954,288 954,288 955,288 955,288 956,288 956,288 957,288 957,288 958,288 958,288 959,288 959,288 960,288 960,289 961,289 961,289 962,289 962,289 963,289 963,289 964,289 964,289 965,289 965,288 966,288 966,288 967,288 967,289 968,289 968,289 969,289 969,289 970,289 970,288 971,288 971,288 972,288 972,288 973,288 973,288 974,288 974,288 975,288 975,288 976,288 976,288 977,288 977,288 978,288 978,289 979,289 979,289 980,289 980,289 981,289 981,289 982,289 982,289 983,289 983,289 984,289 984,289 985,289 985,289 986,289 986,289 987,289 987,289 988,289 988,289 989,289 989,288 990,288 990,288 991,288 991,288 992,288 992,288 993,288 993,289 994,289 994,289 995,289 995,289 996,289 996,289 997,289 997,288 998,288 998,288 999,288 999,288 1000,288 1000,288 1001,288 1001,289 1002,289 1002,289 1003,289 1003,289 1004,289 1004,289 1005,289 1005,289 1006,289 1006,289 1007,289 1007,288 1008,288 1008,288 1009,288 1009,288 1010,288 1010,288 1011,288 1011,288 1012,288 1012,288 1013,288 1013,288 1014,288 1014,288 1015,288 1015,288 1016,288 1016,288 1017,288 1017,288 1018,288 1018,288 1019,288 1019,289 1020,289 1020,289 1021,289 1021,289 1022,289 1022,288 1023,288 1023,288 1024,288 1024,288 1025,288 1025,288 1026,288 1026,288 1027,288 1027,288 1028,288 1028,288 1029,288 1029,289 1030,289 1030,289 1031,289 1031,289 1032,289 1032,289 1033,289 1033,289 1034,289 1034,289 1035,289 1035,289 1036,289 1036,288 1037,288 1037,288 1038,288 1038,288 1039,288 1039,288 1040,288 1040,288 1041,288 1041,288 1042,288 1042,288 1043,288 1043,288 1044,288 1044,288 1045,288 1045,288 1046,288 1046,288 1047,288 1047,288 1048,288 1048,288 1049,288 1049,288 1050,288 1050,288 1051,288 1051,288 1052,288 1052,288 1053,288 1053,288 1054,288 1054,288 1055,288 1055,288 1056,288 1056,288 1057,288 1057,288 1058,288 1058,288 1059,288 1059,288 1060,288 1060,288 1061,288 1061,288 1062,288 1062,288 1063,288 1063,289 1064,289 1064,289 1065,289 1065,288 1066,288 1066,288 1067,288 1067,289 1068,289 1068,289 1069,289 1069,289 1070,289 1070,289 1071,289 1071,288 1072,288 1072,288 1073,288 1073,288 1074,288 1074,288 1075,288 1075,288 1076,288 1076,288 1077,288 1077,289 1078,289 1078,289 1079,289 1079,289 1080,289 1080,288 1081,288 1081,292 1080,292 1080,292 1079,292 1079,292 1078,292 1078,292 1077,292 1077,292 1076,292 1076,292 1075,292 1075,292 1074,292 1074,292 1073,292 1073,292 1072,292 1072,292 1071,292 1071,293 1070,293 1070,293 1069,293 1069,292 1068,292 1068,292 1067,292 1067,292 1066,292 1066,292 1065,292 1065,293 1064,293 1064,293 1063,293 1063,292 1062,292 1062,292 1061,292 1061,292 1060,292 1060,292 1059,292 1059,292 1058,292 1058,292 1057,292 1057,292 1056,292 1056,292 1055,292 1055,293 1054,293 1054,293 1053,293 1053,292 1052,292 1052,292 1051,292 1051,292 1050,292 1050,292 1049,292 1049,293 1048,293 1048,293 1047,293 1047,293 1046,293 1046,292 1045,292 1045,292 1044,292 1044,292 1043,292 1043,292 1042,292 1042,292 1041,292 1041,292 1040,292 1040,292 1039,292 1039,292 1038,292 1038,293 1037,293 1037,293 1036,293 1036,293 1035,293 1035,293 1034,293 1034,292 1033,292 1033,292 1032,292 1032,292 1031,292 1031,292 1030,292 1030,292 1029,292 1029,292 1028,292 1028,292 1027,292 1027,292 1026,292 1026,292 1025,292 1025,293 1024,293 1024,293 1023,293 1023,293 1022,293 1022,293 1021,293 1021,293 1020,293 1020,293 1019,293 1019,292 1018,292 1018,292 1017,292 1017,292 1016,292 1016,292 1015,292 1015,293 1014,293 1014,293 1013,293 1013,292 1012,292 1012,292 1011,292 1011,292 1010,292 1010,292 1009,292 1009,292 1008,292 1008,292 1007,292 1007,292 1006,292 1006,292 1005,292 1005,292 1004,292 1004,292 1003,292 1003,292 1002,292 1002,292 1001,292 1001,293 1000,293 1000,293 999,293 999,292 998,292 998,292 997,292 997,292 996,292 996,292 995,292 995,292 994,292 994,292 993,292 993,293 992,293 992,293 991,293 991,292 990,292 990,292 989,292 989,292 988,292 988,292 987,292 987,292 986,292 986,292 985,292 985,292 984,292 984,292 983,292 983,292 982,292 982,292 981,292 981,292 980,292 980,292 979,292 979,292 978,292 978,292 977,292 977,292 976,292 976,292 975,292 975,292 974,292 974,292 973,292 973,292 972,292 972,292 971,292 971,292 970,292 970,292 969,292 969,292 968,292 968,292 967,292 967,292 966,292 966,292 965,292 965,292 964,292 964,292 963,292 963,292 962,292 962,292 961,292 961,292 960,292 960,293 959,293 959,293 958,293 958,292 957,292 957,292 956,292 956,292 955,292 955,292 954,292 954,292 953,292 953,292 952,292 952,292 951,292 951,292 950,292 950,292 949,292 949,292 948,292 948,292 947,292 947,292 946,292 946,292 945,292 945,292 944,292 944,292 943,292 943,292 942,292 942,292 941,292 941,292 940,292 940,292 939,292 939,292 938,292 938,292 937,292 937,292 936,292 936,292 935,292 935,292 934,292 934,292 933,292 933,292 932,292 932,292 931,292 931,292 930,292 930,292 929,292 929,292 928,292 928,292 927,292 927,292 926,292 926,293 925,293 925,293 924,293 924,293 923,293 923,293 922,293 922,292 921,292 921,292 920,292 920,292 919,292 919,292 918,292 918,292 917,292 917,292 916,292 916,292 915,292 915,292 914,292 914,292 913,292 913,292 912,292 912,292 911,292 911,292 910,292 910,292 909,292 909,292 908,292 908,292 907,292 907,292 906,292 906,292 905,292 905,292 904,292 904,292 903,292 903,292 902,292 902,292 901,292 901,292 900,292 900,292 899,292 899,292 898,292 898,292 897,292 897,292 896,292 896,293 895,293 895,293 894,293 894,293 893,293 893,293 892,293 892,293 891,293 891,292 890,292 890,292 889,292 889,292 888,292 888,292 887,292 887,292 886,292 886,292 885,292 885,292 884,292 884,292 883,292 883,292 882,292 882,292 881,292 881,292 880,292 880,292 879,292 879,292 878,292 878,292 877,292 877,292 876,292 876,292 875,292 875,292 874,292 874,292 873,292 873,292 872,292 872,292 871,292 871,292 870,292 870,292 869,292 869,292 868,292 868,292 867,292 867,292 866,292 866,292 865,292 865,292 864,292 864,292 863,292 863,292 862,292 862,292 861,292 861,292 860,292 860,292 859,292 859,293 858,293 858,293 857,293 857,293 856,293 856,293 855,293 855,293 854,293 854,292 853,292 853,292 852,292 852,292 851,292 851,292 850,292 850,292 849,292 849,292 848,292 848,292 847,292 847,292 846,292 846,292 845,292 845,292 844,292 844,292 843,292 843,292 842,292 842,292 841,292 841,292 840,292 840,292 839,292 839,292 838,292 838,292 837,292 837,292 836,292 836,293 835,293 835,293 834,293 834,292 833,292 833,292 832,292 832,292 831,292 831,292 830,292 830,292 829,292 829,292 828,292 828,293 827,293 827,293 826,293 826,292 825,292 825,292 824,292 824,292 823,292 823,292 822,292 822,292 821,292 821,292 820,292 820,292 819,292 819,292 818,292 818,292 817,292 817,292 816,292 816,292 815,292 815,292 814,292 814,292 813,292 813,292 812,292 812,292 811,292 811,292 810,292 810,292 809,292 809,292 808,292 808,292 807,292 807,292 806,292 806,292 805,292 805,293 804,293 804,293 803,293 803,293 802,293 802,293 801,293 801,293 800,293 800,292 799,292 799,292 798,292 798,292 797,292 797,292 796,292 796,292 795,292 795,292 794,292 794,292 793,292 793,292 792,292 792,292 791,292 791,292 790,292 790,292 789,292 789,292 788,292 788,292 787,292 787,292 786,292"/><polygon points="167.0,290 172.0,290 170.7,304.7 170.4,339 168.6,339 168.3,304.7"/><polygon points="183.0,290 188.0,290 186.7,302.3 186.4,331 184.6,331 184.3,302.3"/><polygon points="179.0,290 183.0,290 181.7,292.4 181.9,298 180.1,298 180.3,292.4"/><polygon points="200.5,290 205.5,290 204.2,298.1 203.9,317 202.1,317 201.8,298.1"/><polygon points="212.5,290 217.5,290 216.2,293.4 215.9,301.5 214.1,301.5 213.8,293.4"/><polygon points="225.0,290 230.0,290 228.7,301.3 228.4,327.7 226.6,327.7 226.3,301.3"/><polygon points="230.5,290 235.5,290 234.2,304.7 233.9,339 232.1,339 231.8,304.7"/><polygon points="258.5,290 263.5,290 262.2,301.1 261.9,327 260.1,327 259.8,301.1"/><polygon points="266.5,290 271.5,290 270.2,304.7 269.9,339 268.1,339 267.8,304.7"/><polygon points="274.5,290 279.5,290 278.2,294.8 277.9,306 276.1,306 275.8,294.8"/><polygon points="340.0,290 345.5,290 344.2,303.5 343.6,335 341.9,335 341.3,303.5"/><polygon points="355.5,290 361.0,290 359.7,295.1 359.1,307 357.4,307 356.8,295.1"/><polygon points="365.5,290 371.5,290 370.2,296.4 369.4,311.5 367.6,311.5 366.8,296.4"/><polygon points="439.0,290 444.0,290 442.7,291.8 442.4,296 440.6,296 440.3,291.8"/><polygon points="503.0,290 508.0,290 506.7,293.0 506.4,300 504.6,300 504.3,293.0"/><polygon points="532.0,290 536.0,290 534.7,290.9 534.9,293 533.1,293 533.3,290.9"/><polygon points="795.0,290 800.0,290 798.7,291.8 798.4,296 796.6,296 796.3,291.8"/><rect x="306" y="284" width="2" height="6"/><rect x="449" y="276" width="4" height="14"/><rect x="542" y="279" width="2" height="11"/><rect x="593" y="284" width="2" height="6"/><rect x="194" y="282" width="3" height="8"/><rect x="178" y="283" width="3" height="7"/><rect x="1043" y="285" width="1" height="5"/></g>
<g stroke="#0a80ff" stroke-width="1"><line x1="1140.5" y1="59" x2="1140.5" y2="340"/><line x1="1130" y1="339.5" x2="1140" y2="339.5"/><line x1="1130" y1="332.5" x2="1140" y2="332.5"/><line x1="1130" y1="325.5" x2="1140" y2="325.5"/><line x1="1130" y1="318.5" x2="1140" y2="318.5"/><line x1="1130" y1="311.5" x2="1140" y2="311.5"/><line x1="1130" y1="303.5" x2="1140" y2="303.5"/><line x1="1130" y1="296.5" x2="1140" y2="296.5"/><line x1="1130" y1="289.5" x2="1140" y2="289.5"/><line x1="1119" y1="282.5" x2="1140" y2="282.5"/><line x1="1130" y1="275.5" x2="1140" y2="275.5"/><line x1="1130" y1="268.5" x2="1140" y2="268.5"/><line x1="1130" y1="261.5" x2="1140" y2="261.5"/><line x1="1130" y1="253.5" x2="1140" y2="253.5"/><line x1="1130" y1="246.5" x2="1140" y2="246.5"/><line x1="1130" y1="239.5" x2="1140" y2="239.5"/><line x1="1130" y1="232.5" x2="1140" y2="232.5"/><line x1="1130" y1="225.5" x2="1140" y2="225.5"/><line x1="1130" y1="218.5" x2="1140" y2="218.5"/><line x1="1119" y1="211.5" x2="1140" y2="211.5"/><line x1="1130" y1="204.5" x2="1140" y2="204.5"/><line x1="1130" y1="196.5" x2="1140" y2="196.5"/><line x1="1130" y1="189.5" x2="1140" y2="189.5"/><line x1="1130" y1="182.5" x2="1140" y2="182.5"/><line x1="1130" y1="175.5" x2="1140" y2="175.5"/><line x1="1130" y1="168.5" x2="1140" y2="168.5"/><line x1="1130" y1="161.5" x2="1140" y2="161.5"/><line x1="1130" y1="154.5" x2="1140" y2="154.5"/><line x1="1130" y1="146.5" x2="1140" y2="146.5"/><line x1="1119" y1="139.5" x2="1140" y2="139.5"/><line x1="1130" y1="132.5" x2="1140" y2="132.5"/><line x1="1130" y1="125.5" x2="1140" y2="125.5"/><line x1="1130" y1="118.5" x2="1140" y2="118.5"/><line x1="1130" y1="111.5" x2="1140" y2="111.5"/><line x1="1130" y1="104.5" x2="1140" y2="104.5"/><line x1="1130" y1="97.5" x2="1140" y2="97.5"/><line x1="1130" y1="89.5" x2="1140" y2="89.5"/><line x1="1130" y1="82.5" x2="1140" y2="82.5"/><line x1="1130" y1="75.5" x2="1140" y2="75.5"/><line x1="1119" y1="68.5" x2="1140" y2="68.5"/><line x1="1130" y1="61.5" x2="1140" y2="61.5"/></g>
<g fill="#000" stroke="#000" stroke-width="0.3"><text x="175.2" y="51" font-size="17.8" font-family="DejaVu Sans, Liberation Sans, sans-serif" font-weight="200">I</text><text x="178.39999999999998" y="51" font-size="17.8" font-family="DejaVu Sans, Liberation Sans, sans-serif" font-weight="200" textLength="124.3" lengthAdjust="spacingAndGlyphs">C2391−0020</text><text x="331" y="51" font-size="17.8" font-family="DejaVu Sans, Liberation Sans, sans-serif" font-weight="200" textLength="736" lengthAdjust="spacingAndGlyphs">(14.028780, 29.662723, 17640.820, 3.8659168, −0.083044216, 0.0000000)</text><text x="224.1" y="362" font-size="13.7" font-family="DejaVu Sans, Liberation Sans, sans-serif" font-weight="200" text-anchor="middle" textLength="29" lengthAdjust="spacingAndGlyphs">400</text><text x="376.8" y="362" font-size="13.7" font-family="DejaVu Sans, Liberation Sans, sans-serif" font-weight="200" text-anchor="middle" textLength="29" lengthAdjust="spacingAndGlyphs">450</text><text x="529.4" y="362" font-size="13.7" font-family="DejaVu Sans, Liberation Sans, sans-serif" font-weight="200" text-anchor="middle" textLength="29" lengthAdjust="spacingAndGlyphs">500</text><text x="682.1" y="362" font-size="13.7" font-family="DejaVu Sans, Liberation Sans, sans-serif" font-weight="200" text-anchor="middle" textLength="29" lengthAdjust="spacingAndGlyphs">550</text><text x="834.7" y="362" font-size="13.7" font-family="DejaVu Sans, Liberation Sans, sans-serif" font-weight="200" text-anchor="middle" textLength="29" lengthAdjust="spacingAndGlyphs">600</text><text x="987.4" y="362" font-size="13.7" font-family="DejaVu Sans, Liberation Sans, sans-serif" font-weight="200" text-anchor="middle" textLength="29" lengthAdjust="spacingAndGlyphs">650</text><text x="1140.0" y="362" font-size="13.7" font-family="DejaVu Sans, Liberation Sans, sans-serif" font-weight="200" text-anchor="middle" textLength="29" lengthAdjust="spacingAndGlyphs">700</text><text x="564" y="382" font-size="14.8" font-family="DejaVu Sans, Liberation Sans, sans-serif" font-weight="200" textLength="84" lengthAdjust="spacingAndGlyphs">wavelength,</text><text x="656.3" y="382" font-size="14.8" font-family="DejaVu Sans, Liberation Sans, sans-serif" font-weight="200" textLength="23" lengthAdjust="spacingAndGlyphs">nm</text><text x="39.5" y="95.9" font-size="14.5" font-family="DejaVu Sans, Liberation Sans, sans-serif" font-weight="200" textLength="39" lengthAdjust="spacingAndGlyphs">4×10</text><text x="78.5" y="88.9" font-size="8.9" font-family="DejaVu Sans, Liberation Sans, sans-serif" font-weight="200" textLength="19" lengthAdjust="spacingAndGlyphs">−10</text><text x="39.5" y="146.2" font-size="14.5" font-family="DejaVu Sans, Liberation Sans, sans-serif" font-weight="200" textLength="39" lengthAdjust="spacingAndGlyphs">3×10</text><text x="78.5" y="139.2" font-size="8.9" font-family="DejaVu Sans, Liberation Sans, sans-serif" font-weight="200" textLength="19" lengthAdjust="spacingAndGlyphs">−10</text><text x="39.5" y="196.5" font-size="14.5" font-family="DejaVu Sans, Liberation Sans, sans-serif" font-weight="200" textLength="39" lengthAdjust="spacingAndGlyphs">2×10</text><text x="78.5" y="189.5" font-size="8.9" font-family="DejaVu Sans, Liberation Sans, sans-serif" font-weight="200" textLength="19" lengthAdjust="spacingAndGlyphs">−10</text><text x="39.5" y="246.9" font-size="14.5" font-family="DejaVu Sans, Liberation Sans, sans-serif" font-weight="200" textLength="39" lengthAdjust="spacingAndGlyphs">1×10</text><text x="78.5" y="239.9" font-size="8.9" font-family="DejaVu Sans, Liberation Sans, sans-serif" font-weight="200" textLength="19" lengthAdjust="spacingAndGlyphs">−10</text><text x="89" y="297" font-size="14.5" font-family="DejaVu Sans, Liberation Sans, sans-serif" font-weight="200">0</text><text transform="translate(28,237) rotate(-90)" font-size="14.8" font-family="DejaVu Sans, Liberation Sans, sans-serif" font-weight="200" textLength="74.5" lengthAdjust="spacingAndGlyphs">flux, units</text></g>
<g fill="#0a80ff" stroke="#0a80ff" stroke-width="0.3"><text x="1144.8" y="74.5" font-size="14.5" font-family="DejaVu Sans, Liberation Sans, sans-serif" font-weight="200" textLength="24" lengthAdjust="spacingAndGlyphs">1.2</text><text x="1144.8" y="145.5" font-size="14.5" font-family="DejaVu Sans, Liberation Sans, sans-serif" font-weight="200" textLength="24" lengthAdjust="spacingAndGlyphs">1.1</text><text x="1144.8" y="217.5" font-size="14.5" font-family="DejaVu Sans, Liberation Sans, sans-serif" font-weight="200" textLength="24" lengthAdjust="spacingAndGlyphs">1.0</text><text x="1144.8" y="288.5" font-size="14.5" font-family="DejaVu Sans, Liberation Sans, sans-serif" font-weight="200" textLength="24" lengthAdjust="spacingAndGlyphs">0.9</text><text transform="translate(1184,222.6) rotate(-90)" font-size="13.7" font-family="DejaVu Sans, Liberation Sans, sans-serif" font-weight="200" textLength="48" lengthAdjust="spacingAndGlyphs">mcont</text></g>
</svg></body></html>
